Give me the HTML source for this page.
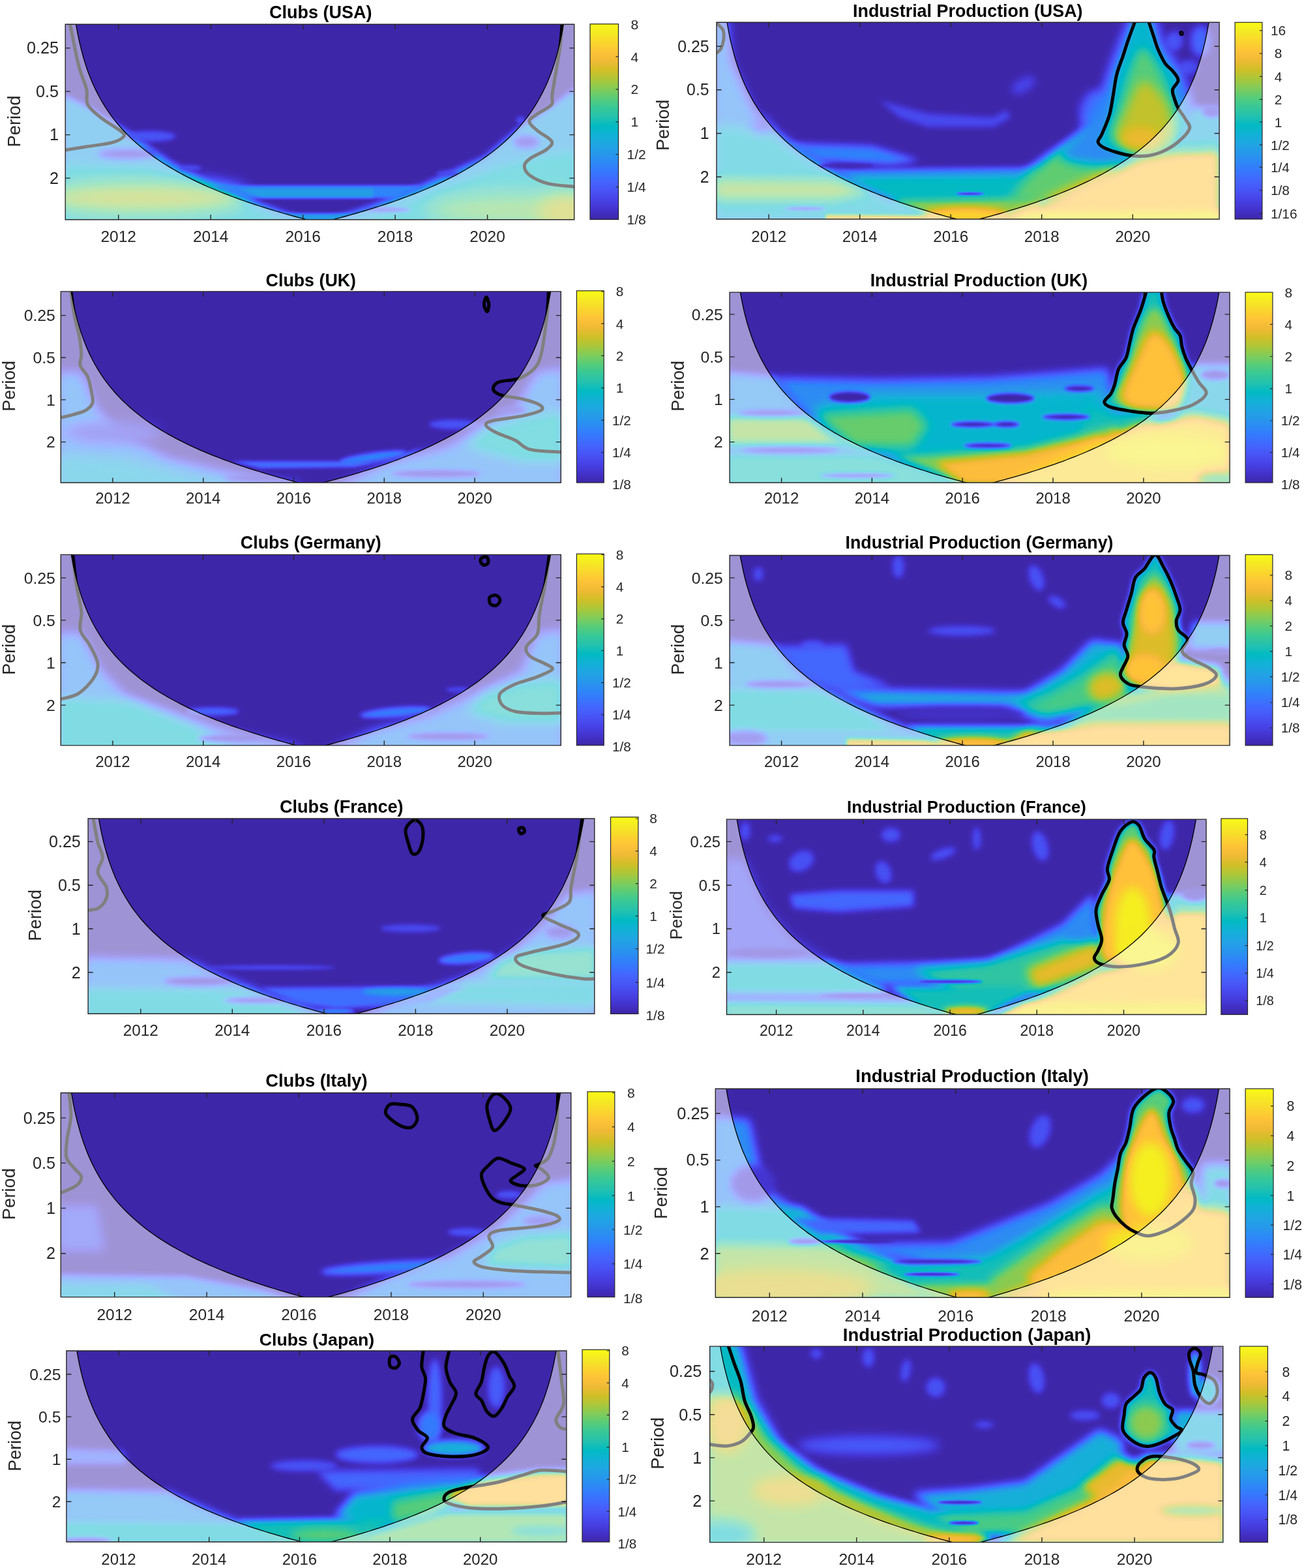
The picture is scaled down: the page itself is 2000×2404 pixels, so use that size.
<!DOCTYPE html>
<html lang="en"><head><meta charset="utf-8"><title>Wavelet power spectra</title>
<style>html,body{margin:0;padding:0;background:#fff}svg{display:block}text{font-family:"Liberation Sans",Arial,Helvetica,sans-serif}</style></head><body>
<svg width="2000" height="2404" viewBox="0 0 2000 2404">
<defs><linearGradient id="pg" x1="0" y1="1" x2="0" y2="0">
<stop offset="0.0000" stop-color="#3e26a8"/>
<stop offset="0.0476" stop-color="#4332cb"/>
<stop offset="0.0952" stop-color="#4741e5"/>
<stop offset="0.1429" stop-color="#4852f4"/>
<stop offset="0.1905" stop-color="#4563fd"/>
<stop offset="0.2381" stop-color="#3875fe"/>
<stop offset="0.2857" stop-color="#2e87f7"/>
<stop offset="0.3333" stop-color="#2797eb"/>
<stop offset="0.3810" stop-color="#20a5e3"/>
<stop offset="0.4286" stop-color="#12b1d6"/>
<stop offset="0.4762" stop-color="#02bac3"/>
<stop offset="0.5238" stop-color="#24c1ae"/>
<stop offset="0.5714" stop-color="#37c897"/>
<stop offset="0.6190" stop-color="#57cc7a"/>
<stop offset="0.6667" stop-color="#81cc59"/>
<stop offset="0.7143" stop-color="#abc739"/>
<stop offset="0.7619" stop-color="#d1bf27"/>
<stop offset="0.8095" stop-color="#f0ba36"/>
<stop offset="0.8571" stop-color="#fec338"/>
<stop offset="0.9048" stop-color="#fad62d"/>
<stop offset="0.9524" stop-color="#f5e924"/>
<stop offset="1.0000" stop-color="#f9fb15"/>
</linearGradient>
<filter id="pm" x="0" y="0" width="1" height="1" color-interpolation-filters="sRGB"><feComponentTransfer><feFuncR type="table" tableValues="0.242 0.250 0.258 0.265 0.271 0.275 0.278 0.280 0.281 0.281 0.280 0.276 0.270 0.260 0.244 0.221 0.196 0.183 0.179 0.176 0.169 0.154 0.146 0.138 0.125 0.111 0.095 0.069 0.030 0.004 0.007 0.043 0.096 0.141 0.172 0.194 0.216 0.247 0.291 0.341 0.391 0.446 0.504 0.562 0.617 0.672 0.724 0.774 0.820 0.863 0.903 0.939 0.973 0.996 0.997 0.995 0.989 0.979 0.968 0.961 0.960 0.963 0.969 0.977"/><feFuncG type="table" tableValues="0.150 0.165 0.182 0.198 0.215 0.234 0.256 0.278 0.301 0.323 0.345 0.367 0.389 0.412 0.436 0.460 0.485 0.507 0.529 0.550 0.570 0.590 0.609 0.628 0.646 0.663 0.680 0.695 0.708 0.720 0.731 0.741 0.750 0.758 0.767 0.776 0.784 0.792 0.797 0.801 0.803 0.802 0.799 0.794 0.788 0.779 0.770 0.760 0.750 0.741 0.733 0.729 0.730 0.743 0.766 0.789 0.814 0.839 0.864 0.889 0.913 0.937 0.961 0.984"/><feFuncB type="table" tableValues="0.660 0.708 0.751 0.795 0.836 0.871 0.899 0.922 0.941 0.958 0.972 0.983 0.991 0.995 0.999 0.997 0.989 0.980 0.968 0.952 0.936 0.922 0.908 0.897 0.888 0.876 0.860 0.839 0.816 0.792 0.766 0.739 0.712 0.684 0.655 0.625 0.592 0.557 0.519 0.479 0.435 0.391 0.348 0.304 0.261 0.223 0.191 0.165 0.153 0.160 0.177 0.210 0.239 0.237 0.220 0.203 0.189 0.177 0.164 0.154 0.142 0.127 0.106 0.081"/></feComponentTransfer></filter></defs>
<rect width="2000" height="2404" fill="#fff"/>
<defs>
<clipPath id="c1"><rect x="100.2" y="37.2" width="780.5" height="299.6"/></clipPath>
<filter id="p1b2_3" filterUnits="userSpaceOnUse" x="40.2" y="-22.8" width="900.5" height="419.6" color-interpolation-filters="sRGB"><feGaussianBlur stdDeviation="2.3"/></filter>
<filter id="p1b2_9" filterUnits="userSpaceOnUse" x="40.2" y="-22.8" width="900.5" height="419.6" color-interpolation-filters="sRGB"><feGaussianBlur stdDeviation="2.9"/></filter>
<filter id="p1b3_4" filterUnits="userSpaceOnUse" x="40.2" y="-22.8" width="900.5" height="419.6" color-interpolation-filters="sRGB"><feGaussianBlur stdDeviation="3.4"/></filter>
<filter id="p1b4_6" filterUnits="userSpaceOnUse" x="40.2" y="-22.8" width="900.5" height="419.6" color-interpolation-filters="sRGB"><feGaussianBlur stdDeviation="4.6"/></filter>
<filter id="p1b8_0" filterUnits="userSpaceOnUse" x="40.2" y="-22.8" width="900.5" height="419.6" color-interpolation-filters="sRGB"><feGaussianBlur stdDeviation="8"/></filter>
<filter id="p1b12_6" filterUnits="userSpaceOnUse" x="40.2" y="-22.8" width="900.5" height="419.6" color-interpolation-filters="sRGB"><feGaussianBlur stdDeviation="12.6"/></filter>
<filter id="p1b14_3" filterUnits="userSpaceOnUse" x="40.2" y="-22.8" width="900.5" height="419.6" color-interpolation-filters="sRGB"><feGaussianBlur stdDeviation="14.3"/></filter>
</defs>
<g clip-path="url(#c1)">
<g filter="url(#pm)">
<rect x="40.2" y="-22.8" width="900.5" height="419.6" fill="#000000"/>
<g filter="url(#p1b4_6)"><path d="M97.3 146 L131.7 163.1 L188.9 197.5 L257.6 246.1 L320.5 281.6 L400.7 313.7 L469.4 337.7 L469.4 354.9 L97.3 354.9Z" fill="#5c5c5c"/></g>
<g filter="url(#p1b4_6)"><path d="M884.4 134.5 L847.2 163.1 L801.4 191.8 L744.1 240.4 L646.8 284.5 L572.4 314.8 L503.7 337.7 L503.7 354.9 L884.4 354.9Z" fill="#5c5c5c"/></g>
<g filter="url(#p1b8_0)"><path d="M97.3 251.9 L229 257.6 L343.4 297.7 L446.5 343.4 L97.3 354.9Z" fill="#787878"/></g>
<g filter="url(#p1b8_0)"><path d="M884.4 229 L772.8 251.9 L658.3 297.7 L543.8 343.4 L884.4 354.9Z" fill="#787878"/></g>
<g filter="url(#p1b12_6)"><ellipse cx="217.5" cy="303.4" rx="160.3" ry="24" fill="#b8b8b8"/></g>
<g filter="url(#p1b14_3)"><ellipse cx="801.4" cy="321.7" rx="148.8" ry="25.8" fill="#a8a8a8"/></g>
<g filter="url(#p1b12_6)"><ellipse cx="870.1" cy="326.3" rx="45.8" ry="28.6" fill="#bdbdbd"/></g>
<g filter="url(#p1b4_6)"><ellipse cx="194.6" cy="235.8" rx="45.8" ry="8" fill="#0f0f0f"/></g>
<g filter="url(#p1b4_6)"><ellipse cx="807.1" cy="217.5" rx="20" ry="10.3" fill="#141414"/></g>
<g filter="url(#p1b2_9)"><ellipse cx="595.3" cy="321.7" rx="34.3" ry="3.4" fill="#1a1a1a"/></g>
<g filter="url(#p1b2_3)"><path d="M320.5 284.5 L646.8 284.5 L606.8 303.4 L372.1 303.4Z" fill="#474747"/></g>
<g filter="url(#p1b2_9)"><path d="M366.3 289.1 L572.4 289.1 L572.4 302.2 L400.7 302.2Z" fill="#5c5c5c"/></g>
<g filter="url(#p1b2_3)"><path d="M417.9 327.4 L543.8 327.4 L515.2 338.9 L457.9 338.9Z" fill="#5c5c5c"/></g>
<g filter="url(#p1b3_4)"><ellipse cx="229" cy="208.9" rx="40.1" ry="8" fill="#262626"/></g>
<g filter="url(#p1b2_9)"><ellipse cx="291.9" cy="257.6" rx="17.2" ry="4.6" fill="#1f1f1f"/></g>
<g filter="url(#p1b2_9)"><ellipse cx="686.9" cy="266.2" rx="17.2" ry="4.6" fill="#1f1f1f"/></g>
<g filter="url(#p1b2_9)"><ellipse cx="798.5" cy="184.3" rx="6.9" ry="5.7" fill="#1f1f1f"/></g>
</g>
<path d="M107.6 37.8C109.2 45.8 114.8 74 117.3 85.9C119.9 97.7 120.5 100.2 123.1 108.8C125.6 117.3 130.9 128.8 132.8 137.4C134.7 146 130.9 153.1 134.5 160.3C138.1 167.4 146.3 173.6 154.6 180.3C162.9 187 178.4 195.6 184.3 200.3C190.2 205.1 192.1 205.9 190 208.9C187.9 212 181.5 216 171.7 218.7C162 221.3 143.6 223 131.7 225C119.7 226.9 105.4 229.3 100.2 230.1" fill="none" stroke="#000" stroke-width="5" stroke-linejoin="round" stroke-linecap="round"/>
<path d="M862 37.8C861.5 43.9 861.1 56.9 858.6 74.4C856.1 92 849.3 128.8 847.2 143.1C845.1 157.4 849.8 155 846 160.3C842.2 165.5 830 170.3 824.3 174.6C818.5 178.9 811.7 181.7 811.7 186C811.7 190.3 818.5 195.3 824.3 200.3C830 205.4 843.6 211.6 846 216.4C848.4 221.1 844.1 224.5 838.6 229C833 233.4 818.5 239 812.8 243.3C807.1 247.6 804.2 250.4 804.2 254.7C804.2 259 806.6 264.5 812.8 269C819 273.5 830 278.8 841.4 281.6C852.9 284.5 874.8 285.4 881.5 286.2" fill="none" stroke="#000" stroke-width="5" stroke-linejoin="round" stroke-linecap="round"/>
<path d="M95.2 -162.8 L100.7 -297.1 L101.2 -230.6 L101.7 -191.7 L102.2 -164.1 L102.7 -142.7 L103.2 -125.2 L103.7 -110.4 L104.2 -97.6 L104.7 -86.3 L105.2 -76.2 L105.7 -67.1 L106.2 -58.7 L106.7 -51.1 L107.2 -43.7 L107.8 -36.3 L108.4 -28.9 L109 -21.5 L109.8 -14.1 L110.5 -6.8 L111.3 0.6 L112.2 8 L113.2 15.4 L114.2 22.8 L115.4 30.2 L116.6 37.5 L117.9 44.9 L119.3 52.3 L120.8 59.7 L122.5 67.1 L124.3 74.5 L126.2 81.8 L128.3 89.2 L130.5 96.6 L132.9 104 L135.5 111.4 L138.4 118.8 L141.4 126.2 L144.7 133.5 L148.3 140.9 L152.1 148.3 L156.3 155.7 L160.8 163.1 L165.6 170.5 L170.8 177.8 L176.5 185.2 L182.5 192.5 L188.5 199.2 L194.5 205.5 L200.5 211.5 L206.5 217 L212.5 222.3 L218.5 227.3 L224.5 232 L230.5 236.6 L236.5 240.9 L242.5 245 L248.5 249 L254.5 252.8 L260.5 256.4 L266.5 260 L272.5 263.4 L278.5 266.7 L284.5 269.8 L290.5 272.9 L296.5 275.9 L302.5 278.8 L308.5 281.6 L314.5 284.3 L320.5 287 L326.5 289.5 L332.5 292 L338.5 294.5 L344.5 296.9 L350.5 299.2 L356.5 301.5 L362.5 303.7 L368.5 305.9 L374.5 308 L380.5 310.1 L386.5 312.1 L392.5 314.1 L398.5 316 L404.5 317.9 L410.5 319.8 L416.5 321.7 L422.5 323.5 L428.5 325.2 L434.5 327 L440.5 328.7 L446.5 330.3 L452.5 332 L458.5 333.6 L464.5 335.2 L470.5 336.8 L476.5 338.3 L482.5 339.8 L488.5 341.3 L490.4 341.8 L492.4 341.3 L498.4 339.8 L504.4 338.3 L510.4 336.8 L516.4 335.2 L522.4 333.6 L528.4 332 L534.4 330.3 L540.4 328.7 L546.4 327 L552.4 325.2 L558.4 323.5 L564.4 321.7 L570.4 319.8 L576.4 317.9 L582.4 316 L588.4 314.1 L594.4 312.1 L600.4 310.1 L606.4 308 L612.4 305.9 L618.4 303.7 L624.4 301.5 L630.4 299.2 L636.4 296.9 L642.4 294.5 L648.4 292 L654.4 289.5 L660.4 287 L666.4 284.3 L672.4 281.6 L678.4 278.8 L684.4 275.9 L690.4 272.9 L696.4 269.8 L702.4 266.7 L708.4 263.4 L714.4 260 L720.4 256.4 L726.4 252.8 L732.4 249 L738.4 245 L744.4 240.9 L750.4 236.6 L756.4 232 L762.4 227.3 L768.4 222.3 L774.4 217 L780.4 211.5 L786.4 205.5 L792.4 199.2 L798.4 192.5 L804.4 185.2 L810.1 177.8 L815.3 170.5 L820.1 163.1 L824.6 155.7 L828.8 148.3 L832.6 140.9 L836.2 133.5 L839.5 126.2 L842.5 118.8 L845.4 111.4 L848 104 L850.4 96.6 L852.6 89.2 L854.7 81.8 L856.6 74.5 L858.4 67.1 L860.1 59.7 L861.6 52.3 L863 44.9 L864.3 37.5 L865.5 30.2 L866.7 22.8 L867.7 15.4 L868.7 8 L869.6 0.6 L870.4 -6.8 L871.1 -14.1 L871.9 -21.5 L872.5 -28.9 L873.1 -36.3 L873.7 -43.7 L874.2 -51.1 L874.7 -58.7 L875.2 -67.1 L875.7 -76.2 L876.2 -86.3 L876.7 -97.6 L877.2 -110.4 L877.7 -125.2 L878.2 -142.7 L878.7 -164.1 L879.2 -191.7 L879.7 -230.6 L880.2 -297.1 L885.7 -162.8 L885.7 636.8 L95.2 636.8Z" fill="#fff" fill-opacity="0.5"/>
<path d="M100.7 -297.1 L101.2 -230.6 L101.7 -191.7 L102.2 -164.1 L102.7 -142.7 L103.2 -125.2 L103.7 -110.4 L104.2 -97.6 L104.7 -86.3 L105.2 -76.2 L105.7 -67.1 L106.2 -58.7 L106.7 -51.1 L107.2 -43.7 L107.8 -36.3 L108.4 -28.9 L109 -21.5 L109.8 -14.1 L110.5 -6.8 L111.3 0.6 L112.2 8 L113.2 15.4 L114.2 22.8 L115.4 30.2 L116.6 37.5 L117.9 44.9 L119.3 52.3 L120.8 59.7 L122.5 67.1 L124.3 74.5 L126.2 81.8 L128.3 89.2 L130.5 96.6 L132.9 104 L135.5 111.4 L138.4 118.8 L141.4 126.2 L144.7 133.5 L148.3 140.9 L152.1 148.3 L156.3 155.7 L160.8 163.1 L165.6 170.5 L170.8 177.8 L176.5 185.2 L182.5 192.5 L188.5 199.2 L194.5 205.5 L200.5 211.5 L206.5 217 L212.5 222.3 L218.5 227.3 L224.5 232 L230.5 236.6 L236.5 240.9 L242.5 245 L248.5 249 L254.5 252.8 L260.5 256.4 L266.5 260 L272.5 263.4 L278.5 266.7 L284.5 269.8 L290.5 272.9 L296.5 275.9 L302.5 278.8 L308.5 281.6 L314.5 284.3 L320.5 287 L326.5 289.5 L332.5 292 L338.5 294.5 L344.5 296.9 L350.5 299.2 L356.5 301.5 L362.5 303.7 L368.5 305.9 L374.5 308 L380.5 310.1 L386.5 312.1 L392.5 314.1 L398.5 316 L404.5 317.9 L410.5 319.8 L416.5 321.7 L422.5 323.5 L428.5 325.2 L434.5 327 L440.5 328.7 L446.5 330.3 L452.5 332 L458.5 333.6 L464.5 335.2 L470.5 336.8 L476.5 338.3 L482.5 339.8 L488.5 341.3 L490.4 341.8 L492.4 341.3 L498.4 339.8 L504.4 338.3 L510.4 336.8 L516.4 335.2 L522.4 333.6 L528.4 332 L534.4 330.3 L540.4 328.7 L546.4 327 L552.4 325.2 L558.4 323.5 L564.4 321.7 L570.4 319.8 L576.4 317.9 L582.4 316 L588.4 314.1 L594.4 312.1 L600.4 310.1 L606.4 308 L612.4 305.9 L618.4 303.7 L624.4 301.5 L630.4 299.2 L636.4 296.9 L642.4 294.5 L648.4 292 L654.4 289.5 L660.4 287 L666.4 284.3 L672.4 281.6 L678.4 278.8 L684.4 275.9 L690.4 272.9 L696.4 269.8 L702.4 266.7 L708.4 263.4 L714.4 260 L720.4 256.4 L726.4 252.8 L732.4 249 L738.4 245 L744.4 240.9 L750.4 236.6 L756.4 232 L762.4 227.3 L768.4 222.3 L774.4 217 L780.4 211.5 L786.4 205.5 L792.4 199.2 L798.4 192.5 L804.4 185.2 L810.1 177.8 L815.3 170.5 L820.1 163.1 L824.6 155.7 L828.8 148.3 L832.6 140.9 L836.2 133.5 L839.5 126.2 L842.5 118.8 L845.4 111.4 L848 104 L850.4 96.6 L852.6 89.2 L854.7 81.8 L856.6 74.5 L858.4 67.1 L860.1 59.7 L861.6 52.3 L863 44.9 L864.3 37.5 L865.5 30.2 L866.7 22.8 L867.7 15.4 L868.7 8 L869.6 0.6 L870.4 -6.8 L871.1 -14.1 L871.9 -21.5 L872.5 -28.9 L873.1 -36.3 L873.7 -43.7 L874.2 -51.1 L874.7 -58.7 L875.2 -67.1 L875.7 -76.2 L876.2 -86.3 L876.7 -97.6 L877.2 -110.4 L877.7 -125.2 L878.2 -142.7 L878.7 -164.1 L879.2 -191.7 L879.7 -230.6 L880.2 -297.1" fill="none" stroke="#000" stroke-width="1.3"/>
</g>
<path d="M100.2 37.2H880.7V336.8H100.2ZM181.7 37.2v7.5 M181.7 336.8v-7.5M323.2 37.2v7.5 M323.2 336.8v-7.5M464.7 37.2v7.5 M464.7 336.8v-7.5M606.1 37.2v7.5 M606.1 336.8v-7.5M747.6 37.2v7.5 M747.6 336.8v-7.5M100.2 73.6h7.5 M880.7 73.6h-7.5M100.2 140.1h7.5 M880.7 140.1h-7.5M100.2 206.6h7.5 M880.7 206.6h-7.5M100.2 273.1h7.5 M880.7 273.1h-7.5" fill="none" stroke="#262626" stroke-width="1.4"/>
<text x="181.7" y="371" font-size="24.5" text-anchor="middle" fill="#262626">2012</text>
<text x="323.2" y="371" font-size="24.5" text-anchor="middle" fill="#262626">2014</text>
<text x="464.7" y="371" font-size="24.5" text-anchor="middle" fill="#262626">2016</text>
<text x="606.1" y="371" font-size="24.5" text-anchor="middle" fill="#262626">2018</text>
<text x="747.6" y="371" font-size="24.5" text-anchor="middle" fill="#262626">2020</text>
<text x="90" y="82.4" font-size="25.2" text-anchor="end" fill="#262626">0.25</text>
<text x="90" y="148.9" font-size="25.2" text-anchor="end" fill="#262626">0.5</text>
<text x="90" y="215.4" font-size="25.2" text-anchor="end" fill="#262626">1</text>
<text x="90" y="281.9" font-size="25.2" text-anchor="end" fill="#262626">2</text>
<text transform="translate(31 186) rotate(-90)" font-size="27.4" text-anchor="middle" fill="#262626">Period</text>
<text x="491.7" y="28" font-size="27" font-weight="bold" text-anchor="middle" fill="#000">Clubs (USA)</text>
<rect x="905" y="36.8" width="43.5" height="299.7" fill="url(#pg)" stroke="#262626" stroke-width="1.2"/>
<text x="967.4" y="44.5" font-size="21.1" fill="#262626">8</text>
<text x="967.4" y="94.5" font-size="21.1" fill="#262626">4</text>
<text x="967.4" y="144.4" font-size="21.1" fill="#262626">2</text>
<text x="967.4" y="194.3" font-size="21.1" fill="#262626">1</text>
<text x="961.5" y="244.2" font-size="21.1" fill="#262626">1/2</text>
<text x="961.5" y="294.1" font-size="21.1" fill="#262626">1/4</text>
<text x="961.5" y="344" font-size="21.1" fill="#262626">1/8</text>
<path d="M948.5 86.9h-4M948.5 136.8h-4M948.5 186.8h-4M948.5 236.7h-4M948.5 286.6h-4" fill="none" stroke="#262626" stroke-width="1.2"/>
<defs>
<clipPath id="c2"><rect x="1099" y="34.3" width="771" height="301.7"/></clipPath>
<filter id="p2b1_4" filterUnits="userSpaceOnUse" x="1039" y="-25.7" width="891" height="421.7" color-interpolation-filters="sRGB"><feGaussianBlur stdDeviation="1.4"/></filter>
<filter id="p2b2_3" filterUnits="userSpaceOnUse" x="1039" y="-25.7" width="891" height="421.7" color-interpolation-filters="sRGB"><feGaussianBlur stdDeviation="2.3"/></filter>
<filter id="p2b2_9" filterUnits="userSpaceOnUse" x="1039" y="-25.7" width="891" height="421.7" color-interpolation-filters="sRGB"><feGaussianBlur stdDeviation="2.9"/></filter>
<filter id="p2b3_4" filterUnits="userSpaceOnUse" x="1039" y="-25.7" width="891" height="421.7" color-interpolation-filters="sRGB"><feGaussianBlur stdDeviation="3.4"/></filter>
<filter id="p2b4_0" filterUnits="userSpaceOnUse" x="1039" y="-25.7" width="891" height="421.7" color-interpolation-filters="sRGB"><feGaussianBlur stdDeviation="4"/></filter>
<filter id="p2b4_6" filterUnits="userSpaceOnUse" x="1039" y="-25.7" width="891" height="421.7" color-interpolation-filters="sRGB"><feGaussianBlur stdDeviation="4.6"/></filter>
<filter id="p2b5_2" filterUnits="userSpaceOnUse" x="1039" y="-25.7" width="891" height="421.7" color-interpolation-filters="sRGB"><feGaussianBlur stdDeviation="5.2"/></filter>
<filter id="p2b5_7" filterUnits="userSpaceOnUse" x="1039" y="-25.7" width="891" height="421.7" color-interpolation-filters="sRGB"><feGaussianBlur stdDeviation="5.7"/></filter>
<filter id="p2b6_9" filterUnits="userSpaceOnUse" x="1039" y="-25.7" width="891" height="421.7" color-interpolation-filters="sRGB"><feGaussianBlur stdDeviation="6.9"/></filter>
<filter id="p2b7_2" filterUnits="userSpaceOnUse" x="1039" y="-25.7" width="891" height="421.7" color-interpolation-filters="sRGB"><feGaussianBlur stdDeviation="7.2"/></filter>
<filter id="p2b8_0" filterUnits="userSpaceOnUse" x="1039" y="-25.7" width="891" height="421.7" color-interpolation-filters="sRGB"><feGaussianBlur stdDeviation="8"/></filter>
<filter id="p2b8_6" filterUnits="userSpaceOnUse" x="1039" y="-25.7" width="891" height="421.7" color-interpolation-filters="sRGB"><feGaussianBlur stdDeviation="8.6"/></filter>
<filter id="p2b9_2" filterUnits="userSpaceOnUse" x="1039" y="-25.7" width="891" height="421.7" color-interpolation-filters="sRGB"><feGaussianBlur stdDeviation="9.2"/></filter>
</defs>
<g clip-path="url(#c2)">
<g filter="url(#pm)">
<rect x="1039" y="-25.7" width="891" height="421.7" fill="#000000"/>
<g filter="url(#p2b7_2)"><path d="M1094.3 31.4 L1115.8 31.4 L1120.1 94.4 L1154.4 168.8 L1208.8 220.3 L1280.3 266.1 L1366.2 306.2 L1466.4 337.7 L1094.3 340.5Z" fill="#4c4c4c"/></g>
<g filter="url(#p2b8_6)"><path d="M1094.3 191.7 L1174.4 197.4 L1214.5 226.1 L1280.3 266.1 L1366.2 306.2 L1466.4 337.7 L1094.3 340.5Z" fill="#737373"/></g>
<g filter="url(#p2b8_0)"><path d="M1094.3 273.3 L1280.3 274.7 L1337.6 294.8 L1280.3 307.6 L1094.3 307.6Z" fill="#adadad"/></g>
<g filter="url(#p2b2_9)"><path d="M1266 329.1 L1466.4 330.5 L1466.4 340.5 L1266 340.5Z" fill="#d1d1d1"/></g>
<g filter="url(#p2b2_3)"><ellipse cx="1234.6" cy="319.9" rx="31.5" ry="2.3" fill="#141414"/></g>
<g filter="url(#p2b7_2)"><ellipse cx="1168.7" cy="191.7" rx="17.2" ry="11.4" fill="#1a1a1a"/></g>
<g filter="url(#p2b5_2)"><path d="M1205.9 220.3 L1337.6 224.6 L1409.1 246.1 L1366.2 251.8 L1257.4 246.1Z" fill="#454545"/></g>
<g filter="url(#p2b4_0)"><path d="M1280.3 260.4 L1595.2 257.6 L1595.2 306.2 L1366.2 306.2Z" fill="#4c4c4c"/></g>
<g filter="url(#p2b2_3)"><ellipse cx="1297.5" cy="254.1" rx="42.9" ry="4" fill="#050505"/></g>
<g filter="url(#p2b4_6)"><path d="M1297.5 271.9 L1595.2 269 L1595.2 309.1 L1380.5 309.1Z" fill="#7a7a7a"/></g>
<g filter="url(#p2b4_0)"><path d="M1366.2 306.2 L1595.2 303.3 L1595.2 340.5 L1452.1 340.5Z" fill="#adadad"/></g>
<g filter="url(#p2b5_7)"><ellipse cx="1480.7" cy="330.5" rx="65.8" ry="11.4" fill="#e6e6e6"/></g>
<g filter="url(#p2b1_4)"><ellipse cx="1487.8" cy="297" rx="21.5" ry="2" fill="#000000"/></g>
<g filter="url(#p2b4_0)"><path d="M1349 154.5 L1423.4 174.6 L1523.6 180.3 L1543.7 168.8 L1549.4 180.3 L1523.6 194.6 L1423.4 194.6 L1380.5 180.3Z" fill="#1f1f1f"/></g>
<g filter="url(#p2b5_7)"><ellipse cx="1569.5" cy="130.5" rx="20" ry="10.3" fill="#1a1a1a" transform="rotate(-30 1569.5 130.5)"/></g>
<g filter="url(#p2b8_0)"><path d="M1572.4 264.5 L1629.7 229 L1686.9 188.9 L1721.2 240.4 L1686.9 297.7 L1572.4 309.1Z" fill="#808080"/></g>
<g filter="url(#p2b8_0)"><path d="M1572.4 274.8 L1618.2 234.7 L1675.4 200.3 L1715.5 240.4 L1686.9 297.7 L1601 309.1 L1543.8 312Z" fill="#a1a1a1"/></g>
<g filter="url(#p2b6_9)"><ellipse cx="1675.4" cy="166" rx="17.2" ry="28.6" fill="#333333" transform="rotate(20 1675.4 166)"/></g>
<g filter="url(#p2b4_6)"><ellipse cx="1801.4" cy="63" rx="12.6" ry="14.3" fill="#262626"/></g>
<g filter="url(#p2b4_6)"><ellipse cx="1824.3" cy="103" rx="14.3" ry="11.4" fill="#212121"/></g>
<g filter="url(#p2b8_0)"><path d="M1738.4 22.9C1728.9 33.4 1718.4 64.9 1709.8 85.9C1701.2 106.8 1695.5 129.7 1686.9 148.8C1678.3 167.9 1667.8 185.1 1658.3 200.3C1648.7 215.6 1620.1 231.8 1629.7 240.4C1639.2 249 1685 253.8 1715.5 251.9C1746 250 1792.8 238.5 1812.8 229C1832.9 219.4 1835.7 213.7 1835.7 194.6C1835.7 175.5 1821.4 135.5 1812.8 114.5C1804.2 93.5 1791.8 84 1784.2 68.7C1776.6 53.4 1774.7 30.5 1767 22.9C1759.4 15.3 1747.9 12.4 1738.4 22.9Z" fill="#4c4c4c"/></g>
<g filter="url(#p2b4_6)"><path d="M1741.3 31.5C1736 36.7 1733 53.9 1729.8 63C1726.7 72 1725.2 77.3 1722.4 85.9C1719.5 94.4 1715.2 104 1712.7 114.5C1710.1 125 1708.8 138.3 1706.9 148.8C1705 159.3 1704.1 167.9 1701.2 177.4C1698.3 187 1692.6 199.4 1689.8 206.1C1686.9 212.7 1683.6 214.2 1684 217.5C1684.5 220.9 1687.8 223.4 1692.6 226.1C1697.4 228.8 1705.5 231.4 1712.7 233.5C1719.8 235.6 1727.4 237.8 1735.5 238.7C1743.7 239.6 1753.2 239.8 1761.3 238.7C1769.4 237.6 1776.6 235.4 1784.2 231.8C1791.8 228.3 1800.4 223.2 1807.1 217.5C1813.8 211.8 1822.4 203.2 1824.3 197.5C1826.2 191.8 1821.4 188.4 1818.5 183.2C1815.7 177.9 1810 171.2 1807.1 166C1804.2 160.8 1802.8 156.5 1801.4 151.7C1799.9 146.9 1797.6 142.1 1798.5 137.4C1799.5 132.6 1807.1 127.8 1807.1 123.1C1807.1 118.3 1801.9 113.1 1798.5 108.8C1795.2 104.5 1790.9 103 1787.1 97.3C1783.2 91.6 1778.5 81.1 1775.6 74.4C1772.8 67.7 1772.3 64.4 1769.9 57.2C1767.5 50.1 1766.1 35.8 1761.3 31.5C1756.5 27.2 1746.5 26.2 1741.3 31.5Z" fill="#737373"/></g>
<g filter="url(#p2b6_9)"><path d="M1749.9 74.4C1743.7 77.3 1737.9 95.4 1732.7 108.8C1727.4 122.1 1723.1 137.4 1718.4 154.6C1713.6 171.7 1699.8 198.9 1704.1 211.8C1708.4 224.7 1727.9 230.9 1744.1 231.8C1760.4 232.8 1791.4 227.5 1801.4 217.5C1811.4 207.5 1806.1 186 1804.2 171.7C1802.3 157.4 1795.6 145 1789.9 131.7C1784.2 118.3 1776.6 101.1 1769.9 91.6C1763.2 82 1756.1 71.6 1749.9 74.4Z" fill="#9e9e9e"/></g>
<g filter="url(#p2b8_0)"><path d="M1749.9 125.9C1742.2 131.7 1733.2 157.4 1727 171.7C1720.8 186 1709.8 202.3 1712.7 211.8C1715.5 221.3 1730.8 228.5 1744.1 229C1757.5 229.4 1784.7 224.2 1792.8 214.7C1800.9 205.1 1796.1 184.6 1792.8 171.7C1789.4 158.8 1779.9 145 1772.8 137.4C1765.6 129.7 1757.5 120.2 1749.9 125.9Z" fill="#bdbdbd"/></g>
<g filter="url(#p2b6_9)"><ellipse cx="1749.9" cy="211.8" rx="28.6" ry="17.2" fill="#cccccc"/></g>
<g filter="url(#p2b5_7)"><path d="M1830 166 L1875.8 166 L1875.8 229 L1801.4 229Z" fill="#666666"/></g>
<g filter="url(#p2b9_2)"><path d="M1686.9 269 L1744.1 240.4 L1801.4 229 L1875.8 226.1 L1875.8 354.9 L1515.2 354.9 L1572.4 320.5Z" fill="#dbdbdb"/></g>
<g filter="url(#p2b5_7)"><path d="M1572.4 326.3 L1875.8 323.4 L1875.8 354.9 L1515.2 354.9Z" fill="#f5f5f5"/></g>
<g filter="url(#p2b5_7)"><ellipse cx="1841.4" cy="63" rx="14.3" ry="22.9" fill="#333333"/></g>
<g filter="url(#p2b3_4)"><ellipse cx="1858.6" cy="171.7" rx="14.3" ry="8.6" fill="#141414"/></g>
</g>
<path d="M1741.3 31.5C1739.4 36.7 1733 53.9 1729.8 63C1726.7 72 1725.2 77.3 1722.4 85.9C1719.5 94.4 1715.2 104 1712.7 114.5C1710.1 125 1708.8 138.3 1706.9 148.8C1705 159.3 1704.1 167.9 1701.2 177.4C1698.3 187 1692.6 199.4 1689.8 206.1C1686.9 212.7 1683.6 214.2 1684 217.5C1684.5 220.9 1687.8 223.4 1692.6 226.1C1697.4 228.8 1705.5 231.4 1712.7 233.5C1719.8 235.6 1727.4 237.8 1735.5 238.7C1743.7 239.6 1753.2 239.8 1761.3 238.7C1769.4 237.6 1776.6 235.4 1784.2 231.8C1791.8 228.3 1800.4 223.2 1807.1 217.5C1813.8 211.8 1822.4 203.2 1824.3 197.5C1826.2 191.8 1821.4 188.4 1818.5 183.2C1815.7 177.9 1810 171.2 1807.1 166C1804.2 160.8 1802.8 156.5 1801.4 151.7C1799.9 146.9 1797.6 142.1 1798.5 137.4C1799.5 132.6 1807.1 127.8 1807.1 123.1C1807.1 118.3 1801.9 113.1 1798.5 108.8C1795.2 104.5 1790.9 103 1787.1 97.3C1783.2 91.6 1778.5 81.1 1775.6 74.4C1772.8 67.7 1772.3 64.4 1769.9 57.2C1767.5 50.1 1762.7 35.8 1761.3 31.5" fill="none" stroke="#000" stroke-width="5" stroke-linejoin="round" stroke-linecap="round"/>
<path d="M1810 49.2C1810.4 48.6 1812.7 48.7 1813.4 49.2C1814.1 49.8 1814.4 52 1814 52.7C1813.5 53.3 1811.2 53.8 1810.5 53.2C1809.9 52.7 1809.5 49.9 1810 49.2Z" fill="none" stroke="#000" stroke-width="3" stroke-linejoin="round" stroke-linecap="round"/>
<path d="M1099 35.5C1100.6 37.2 1106.9 41.7 1108.8 45.8C1110.6 49.9 1110.4 55.3 1109.9 60.1C1109.4 64.9 1107.7 70.9 1105.9 74.4C1104.1 77.9 1100.2 80.1 1099 81.3" fill="none" stroke="#000" stroke-width="5" stroke-linejoin="round" stroke-linecap="round"/>
<path d="M1094 -165.7 L1099.5 -300 L1100 -233.2 L1100.5 -194.1 L1101 -166.4 L1101.5 -144.9 L1102 -127.4 L1102.5 -112.5 L1103 -99.6 L1103.5 -88.3 L1104 -78.1 L1104.5 -69 L1105 -60.6 L1105.5 -52.9 L1106 -45.4 L1106.6 -38 L1107.2 -30.6 L1107.9 -23.2 L1108.6 -15.8 L1109.3 -8.4 L1110.2 -1 L1111.1 6.5 L1112 13.9 L1113.1 21.3 L1114.2 28.7 L1115.4 36.1 L1116.7 43.5 L1118.1 50.9 L1119.6 58.4 L1121.3 65.8 L1123.1 73.2 L1125 80.6 L1127.1 88 L1129.3 95.4 L1131.7 102.8 L1134.4 110.3 L1137.2 117.7 L1140.2 125.1 L1143.5 132.5 L1147.1 139.9 L1150.9 147.3 L1155.1 154.8 L1159.6 162.2 L1164.4 169.6 L1169.7 177 L1175.3 184.4 L1181.3 191.7 L1187.3 198.5 L1193.3 204.8 L1199.3 210.8 L1205.3 216.4 L1211.3 221.7 L1217.3 226.7 L1223.3 231.4 L1229.3 236 L1235.3 240.3 L1241.3 244.5 L1247.3 248.4 L1253.3 252.3 L1259.3 255.9 L1265.3 259.5 L1271.3 262.9 L1277.3 266.2 L1283.3 269.4 L1289.3 272.5 L1295.3 275.5 L1301.3 278.4 L1307.3 281.2 L1313.3 283.9 L1319.3 286.6 L1325.3 289.2 L1331.3 291.7 L1337.3 294.1 L1343.3 296.5 L1349.3 298.9 L1355.3 301.2 L1361.3 303.4 L1367.3 305.6 L1373.3 307.7 L1379.3 309.8 L1385.3 311.8 L1391.3 313.8 L1397.3 315.8 L1403.3 317.7 L1409.3 319.6 L1415.3 321.4 L1421.3 323.2 L1427.3 325 L1433.3 326.8 L1439.3 328.5 L1445.3 330.2 L1451.3 331.8 L1457.3 333.4 L1463.3 335 L1469.3 336.6 L1475.3 338.2 L1481.3 339.7 L1484.5 340.5 L1487.8 339.7 L1493.8 338.2 L1499.8 336.6 L1505.8 335 L1511.8 333.4 L1517.8 331.8 L1523.8 330.2 L1529.8 328.5 L1535.8 326.8 L1541.8 325 L1547.8 323.2 L1553.8 321.4 L1559.8 319.6 L1565.8 317.7 L1571.8 315.8 L1577.8 313.8 L1583.8 311.8 L1589.8 309.8 L1595.8 307.7 L1601.8 305.6 L1607.8 303.4 L1613.8 301.2 L1619.8 298.9 L1625.8 296.5 L1631.8 294.1 L1637.8 291.7 L1643.8 289.2 L1649.8 286.6 L1655.8 283.9 L1661.8 281.2 L1667.8 278.4 L1673.8 275.5 L1679.8 272.5 L1685.8 269.4 L1691.8 266.2 L1697.8 262.9 L1703.8 259.5 L1709.8 255.9 L1715.8 252.3 L1721.8 248.4 L1727.8 244.5 L1733.8 240.3 L1739.8 236 L1745.8 231.4 L1751.8 226.7 L1757.8 221.7 L1763.8 216.4 L1769.8 210.8 L1775.8 204.8 L1781.8 198.5 L1787.8 191.7 L1793.8 184.4 L1799.4 177 L1804.7 169.6 L1809.5 162.2 L1814 154.8 L1818.1 147.3 L1822 139.9 L1825.5 132.5 L1828.8 125.1 L1831.9 117.7 L1834.7 110.3 L1837.3 102.8 L1839.8 95.4 L1842 88 L1844.1 80.6 L1846 73.2 L1847.8 65.8 L1849.4 58.4 L1851 50.9 L1852.4 43.5 L1853.7 36.1 L1854.9 28.7 L1856 21.3 L1857.1 13.9 L1858 6.5 L1858.9 -1 L1859.7 -8.4 L1860.5 -15.8 L1861.2 -23.2 L1861.9 -30.6 L1862.5 -38 L1863 -45.4 L1863.6 -52.9 L1864.1 -60.6 L1864.6 -69 L1865.1 -78.1 L1865.6 -88.3 L1866.1 -99.6 L1866.6 -112.5 L1867.1 -127.4 L1867.6 -144.9 L1868.1 -166.4 L1868.6 -194.1 L1869.1 -233.2 L1869.6 -300 L1875.1 -165.7 L1875.1 636 L1094 636Z" fill="#fff" fill-opacity="0.5"/>
<path d="M1099.5 -300 L1100 -233.2 L1100.5 -194.1 L1101 -166.4 L1101.5 -144.9 L1102 -127.4 L1102.5 -112.5 L1103 -99.6 L1103.5 -88.3 L1104 -78.1 L1104.5 -69 L1105 -60.6 L1105.5 -52.9 L1106 -45.4 L1106.6 -38 L1107.2 -30.6 L1107.9 -23.2 L1108.6 -15.8 L1109.3 -8.4 L1110.2 -1 L1111.1 6.5 L1112 13.9 L1113.1 21.3 L1114.2 28.7 L1115.4 36.1 L1116.7 43.5 L1118.1 50.9 L1119.6 58.4 L1121.3 65.8 L1123.1 73.2 L1125 80.6 L1127.1 88 L1129.3 95.4 L1131.7 102.8 L1134.4 110.3 L1137.2 117.7 L1140.2 125.1 L1143.5 132.5 L1147.1 139.9 L1150.9 147.3 L1155.1 154.8 L1159.6 162.2 L1164.4 169.6 L1169.7 177 L1175.3 184.4 L1181.3 191.7 L1187.3 198.5 L1193.3 204.8 L1199.3 210.8 L1205.3 216.4 L1211.3 221.7 L1217.3 226.7 L1223.3 231.4 L1229.3 236 L1235.3 240.3 L1241.3 244.5 L1247.3 248.4 L1253.3 252.3 L1259.3 255.9 L1265.3 259.5 L1271.3 262.9 L1277.3 266.2 L1283.3 269.4 L1289.3 272.5 L1295.3 275.5 L1301.3 278.4 L1307.3 281.2 L1313.3 283.9 L1319.3 286.6 L1325.3 289.2 L1331.3 291.7 L1337.3 294.1 L1343.3 296.5 L1349.3 298.9 L1355.3 301.2 L1361.3 303.4 L1367.3 305.6 L1373.3 307.7 L1379.3 309.8 L1385.3 311.8 L1391.3 313.8 L1397.3 315.8 L1403.3 317.7 L1409.3 319.6 L1415.3 321.4 L1421.3 323.2 L1427.3 325 L1433.3 326.8 L1439.3 328.5 L1445.3 330.2 L1451.3 331.8 L1457.3 333.4 L1463.3 335 L1469.3 336.6 L1475.3 338.2 L1481.3 339.7 L1484.5 340.5 L1487.8 339.7 L1493.8 338.2 L1499.8 336.6 L1505.8 335 L1511.8 333.4 L1517.8 331.8 L1523.8 330.2 L1529.8 328.5 L1535.8 326.8 L1541.8 325 L1547.8 323.2 L1553.8 321.4 L1559.8 319.6 L1565.8 317.7 L1571.8 315.8 L1577.8 313.8 L1583.8 311.8 L1589.8 309.8 L1595.8 307.7 L1601.8 305.6 L1607.8 303.4 L1613.8 301.2 L1619.8 298.9 L1625.8 296.5 L1631.8 294.1 L1637.8 291.7 L1643.8 289.2 L1649.8 286.6 L1655.8 283.9 L1661.8 281.2 L1667.8 278.4 L1673.8 275.5 L1679.8 272.5 L1685.8 269.4 L1691.8 266.2 L1697.8 262.9 L1703.8 259.5 L1709.8 255.9 L1715.8 252.3 L1721.8 248.4 L1727.8 244.5 L1733.8 240.3 L1739.8 236 L1745.8 231.4 L1751.8 226.7 L1757.8 221.7 L1763.8 216.4 L1769.8 210.8 L1775.8 204.8 L1781.8 198.5 L1787.8 191.7 L1793.8 184.4 L1799.4 177 L1804.7 169.6 L1809.5 162.2 L1814 154.8 L1818.1 147.3 L1822 139.9 L1825.5 132.5 L1828.8 125.1 L1831.9 117.7 L1834.7 110.3 L1837.3 102.8 L1839.8 95.4 L1842 88 L1844.1 80.6 L1846 73.2 L1847.8 65.8 L1849.4 58.4 L1851 50.9 L1852.4 43.5 L1853.7 36.1 L1854.9 28.7 L1856 21.3 L1857.1 13.9 L1858 6.5 L1858.9 -1 L1859.7 -8.4 L1860.5 -15.8 L1861.2 -23.2 L1861.9 -30.6 L1862.5 -38 L1863 -45.4 L1863.6 -52.9 L1864.1 -60.6 L1864.6 -69 L1865.1 -78.1 L1865.6 -88.3 L1866.1 -99.6 L1866.6 -112.5 L1867.1 -127.4 L1867.6 -144.9 L1868.1 -166.4 L1868.6 -194.1 L1869.1 -233.2 L1869.6 -300" fill="none" stroke="#000" stroke-width="1.3"/>
</g>
<path d="M1099 34.3H1870.1V336H1099ZM1179.2 34.3v7.5 M1179.2 336v-7.5M1318.7 34.3v7.5 M1318.7 336v-7.5M1458.2 34.3v7.5 M1458.2 336v-7.5M1597.7 34.3v7.5 M1597.7 336v-7.5M1737.3 34.3v7.5 M1737.3 336v-7.5M1099 71h7.5 M1870.1 71h-7.5M1099 137.8h7.5 M1870.1 137.8h-7.5M1099 204.5h7.5 M1870.1 204.5h-7.5M1099 271.3h7.5 M1870.1 271.3h-7.5" fill="none" stroke="#262626" stroke-width="1.4"/>
<text x="1179.2" y="370.9" font-size="24.2" text-anchor="middle" fill="#262626">2012</text>
<text x="1318.7" y="370.9" font-size="24.2" text-anchor="middle" fill="#262626">2014</text>
<text x="1458.2" y="370.9" font-size="24.2" text-anchor="middle" fill="#262626">2016</text>
<text x="1597.7" y="370.9" font-size="24.2" text-anchor="middle" fill="#262626">2018</text>
<text x="1737.3" y="370.9" font-size="24.2" text-anchor="middle" fill="#262626">2020</text>
<text x="1087.7" y="79.6" font-size="24.9" text-anchor="end" fill="#262626">0.25</text>
<text x="1087.7" y="146.4" font-size="24.9" text-anchor="end" fill="#262626">0.5</text>
<text x="1087.7" y="213.2" font-size="24.9" text-anchor="end" fill="#262626">1</text>
<text x="1087.7" y="280" font-size="24.9" text-anchor="end" fill="#262626">2</text>
<text transform="translate(1026.1 191.8) rotate(-90)" font-size="27.1" text-anchor="middle" fill="#262626">Period</text>
<text x="1484.3" y="25.8" font-size="26.9" font-weight="bold" text-anchor="middle" fill="#000">Industrial Production (USA)</text>
<rect x="1894.1" y="34.3" width="41.8" height="301.7" fill="url(#pg)" stroke="#262626" stroke-width="1.2"/>
<text x="1949" y="54.4" font-size="20.8" fill="#262626">16</text>
<text x="1954.8" y="89.3" font-size="20.8" fill="#262626">8</text>
<text x="1954.8" y="124.8" font-size="20.8" fill="#262626">4</text>
<text x="1954.8" y="159.7" font-size="20.8" fill="#262626">2</text>
<text x="1954.8" y="194.6" font-size="20.8" fill="#262626">1</text>
<text x="1949" y="229.5" font-size="20.8" fill="#262626">1/2</text>
<text x="1949" y="263.9" font-size="20.8" fill="#262626">1/4</text>
<text x="1949" y="299.4" font-size="20.8" fill="#262626">1/8</text>
<text x="1949" y="334.9" font-size="20.8" fill="#262626">1/16</text>
<path d="M1935.9 46.9h-4M1935.9 81.9h-4M1935.9 117.3h-4M1935.9 152.3h-4M1935.9 187.2h-4M1935.9 222.1h-4M1935.9 256.4h-4M1935.9 291.9h-4M1935.9 327.4h-4" fill="none" stroke="#262626" stroke-width="1.2"/>
<defs>
<clipPath id="c3"><rect x="93.3" y="446.9" width="767" height="293.1"/></clipPath>
<filter id="p3b2_9" filterUnits="userSpaceOnUse" x="33.3" y="386.9" width="887" height="413.1" color-interpolation-filters="sRGB"><feGaussianBlur stdDeviation="2.9"/></filter>
<filter id="p3b3_4" filterUnits="userSpaceOnUse" x="33.3" y="386.9" width="887" height="413.1" color-interpolation-filters="sRGB"><feGaussianBlur stdDeviation="3.4"/></filter>
<filter id="p3b8_0" filterUnits="userSpaceOnUse" x="33.3" y="386.9" width="887" height="413.1" color-interpolation-filters="sRGB"><feGaussianBlur stdDeviation="8"/></filter>
<filter id="p3b9_2" filterUnits="userSpaceOnUse" x="33.3" y="386.9" width="887" height="413.1" color-interpolation-filters="sRGB"><feGaussianBlur stdDeviation="9.2"/></filter>
</defs>
<g clip-path="url(#c3)">
<g filter="url(#pm)">
<rect x="33.3" y="386.9" width="887" height="413.1" fill="#000000"/>
<g filter="url(#p3b8_0)"><path d="M88.7 571.7 L123.1 571.7 L148.8 629 L188.9 669 L257.6 703.4 L354.9 726.3 L457.9 743.4 L457.9 754.9 L88.7 754.9Z" fill="#4c4c4c"/></g>
<g filter="url(#p3b9_2)"><path d="M88.7 697.7 L188.9 703.4 L286.2 729.1 L400.7 754.9 L88.7 754.9Z" fill="#6b6b6b"/></g>
<g filter="url(#p3b9_2)"><ellipse cx="171.7" cy="663.3" rx="74.4" ry="17.2" fill="#1a1a1a"/></g>
<g filter="url(#p3b8_0)"><path d="M864.3 566 L824.3 571.7 L789.9 629 L744.1 651.9 L686.9 686.2 L601 709.1 L498 754.9 L864.3 754.9Z" fill="#4c4c4c"/></g>
<g filter="url(#p3b8_0)"><path d="M864.3 629 L801.4 640.4 L744.1 657.6 L715.5 686.2 L801.4 709.1 L864.3 709.1Z" fill="#7a7a7a"/></g>
<g filter="url(#p3b3_4)"><ellipse cx="389.2" cy="733.1" rx="45.8" ry="4.6" fill="#0d0d0d"/></g>
<g filter="url(#p3b3_4)"><ellipse cx="669.7" cy="726.3" rx="68.7" ry="5.7" fill="#0d0d0d"/></g>
<g filter="url(#p3b3_4)"><ellipse cx="784.2" cy="629" rx="22.9" ry="5.7" fill="#141414"/></g>
<g filter="url(#p3b2_9)"><path d="M354.9 707.4 L572.4 707.4 L629.7 697.7 L646.8 686.2 L601 703.4 L543.8 716 L400.7 717.7Z" fill="#383838"/></g>
<g filter="url(#p3b3_4)"><ellipse cx="572.4" cy="700.5" rx="51.5" ry="5.7" fill="#4c4c4c" transform="rotate(-8 572.4 700.5)"/></g>
<g filter="url(#p3b3_4)"><ellipse cx="695.5" cy="650.7" rx="37.2" ry="6.9" fill="#262626"/></g>
</g>
<path d="M108.8 446.9C109.7 453.4 112.4 474.6 114.5 485.9C116.6 497.1 119.6 504.9 121.4 514.5C123.1 524 124.5 535.5 124.8 543.1C125.1 550.7 121.4 554.6 123.1 560.3C124.7 566 131.7 570.8 134.5 577.4C137.4 584.1 139 593.7 140.2 600.3C141.5 607 143.4 612.7 142 617.5C140.5 622.3 136.7 625.9 131.7 629C126.6 632 118 633.9 111.6 635.8C105.2 637.7 96.4 639.6 93.3 640.4" fill="none" stroke="#000" stroke-width="5" stroke-linejoin="round" stroke-linecap="round"/>
<path d="M841.4 446.9C841 453.4 840.5 469.8 838.6 485.9C836.7 501.9 833.3 529.7 830 543.1C826.7 556.5 824.3 559.8 818.5 566C812.8 572.2 804.7 577 795.6 580.3C786.6 583.6 770.7 583.2 764.2 586C757.7 588.9 755.8 594.1 756.7 597.5C757.7 600.8 762.4 603.7 769.9 606.1C777.3 608.5 791.8 609.4 801.4 611.8C810.9 614.2 822.4 617.5 827.1 620.4C831.9 623.2 834.3 626.1 830 629C825.7 631.8 813.8 634.9 801.4 637.6C789 640.2 764.9 642.6 755.6 645C746.2 647.4 744.3 648.8 745.3 651.9C746.2 654.9 753.9 659.5 761.3 663.3C768.7 667.1 781.3 670.5 789.9 674.8C798.5 679 801.1 686 812.8 689.1C824.6 692.1 852.4 692.4 860.3 693.1" fill="none" stroke="#000" stroke-width="5" stroke-linejoin="round" stroke-linecap="round"/>
<path d="M745.9 455.5C747.1 455.5 749.7 463.3 749.9 467C750 470.7 748.2 477.8 747 477.8C745.8 477.8 742.6 470.7 742.4 467C742.2 463.3 744.6 455.5 745.9 455.5Z" fill="none" stroke="#000" stroke-width="5" stroke-linejoin="round" stroke-linecap="round"/>
<path d="M88.3 246.9 L93.8 124.7 L94.3 189.4 L94.8 227.3 L95.3 254.1 L95.8 274.9 L96.3 291.9 L96.8 306.3 L97.3 318.8 L97.8 329.8 L98.3 339.6 L98.8 348.5 L99.3 356.6 L99.8 364.1 L100.3 371.3 L100.9 378.5 L101.5 385.6 L102.1 392.8 L102.9 400 L103.6 407.2 L104.4 414.4 L105.3 421.6 L106.3 428.7 L107.3 435.9 L108.5 443.1 L109.7 450.3 L111 457.5 L112.4 464.6 L113.9 471.8 L115.6 479 L117.4 486.2 L119.3 493.4 L121.4 500.6 L123.6 507.7 L126 514.9 L128.6 522.1 L131.5 529.3 L134.5 536.5 L137.8 543.6 L141.4 550.8 L145.2 558 L149.4 565.2 L153.9 572.4 L158.7 579.6 L163.9 586.7 L169.6 593.9 L175.6 601 L181.6 607.6 L187.6 613.7 L193.6 619.4 L199.6 624.9 L205.6 630 L211.6 634.8 L217.6 639.5 L223.6 643.9 L229.6 648.1 L235.6 652.1 L241.6 655.9 L247.6 659.6 L253.6 663.2 L259.6 666.6 L265.6 669.9 L271.6 673.1 L277.6 676.2 L283.6 679.2 L289.6 682.1 L295.6 684.9 L301.6 687.6 L307.6 690.3 L313.6 692.9 L319.6 695.4 L325.6 697.8 L331.6 700.2 L337.6 702.5 L343.6 704.8 L349.6 707 L355.6 709.2 L361.6 711.3 L367.6 713.3 L373.6 715.3 L379.6 717.3 L385.6 719.3 L391.6 721.2 L397.6 723 L403.6 724.8 L409.6 726.6 L415.6 728.4 L421.6 730.1 L427.6 731.8 L433.6 733.4 L439.6 735.1 L445.6 736.7 L451.6 738.3 L457.6 739.8 L463.6 741.3 L469.6 742.8 L475.6 744.3 L476.8 744.6 L478 744.3 L484 742.8 L490 741.3 L496 739.8 L502 738.3 L508 736.7 L514 735.1 L520 733.4 L526 731.8 L532 730.1 L538 728.4 L544 726.6 L550 724.8 L556 723 L562 721.2 L568 719.3 L574 717.3 L580 715.3 L586 713.3 L592 711.3 L598 709.2 L604 707 L610 704.8 L616 702.5 L622 700.2 L628 697.8 L634 695.4 L640 692.9 L646 690.3 L652 687.6 L658 684.9 L664 682.1 L670 679.2 L676 676.2 L682 673.1 L688 669.9 L694 666.6 L700 663.2 L706 659.6 L712 655.9 L718 652.1 L724 648.1 L730 643.9 L736 639.5 L742 634.8 L748 630 L754 624.9 L760 619.4 L766 613.7 L772 607.6 L778 601 L784 593.9 L789.7 586.7 L794.9 579.6 L799.8 572.4 L804.3 565.2 L808.4 558 L812.3 550.8 L815.8 543.6 L819.1 536.5 L822.2 529.3 L825 522.1 L827.6 514.9 L830 507.7 L832.3 500.6 L834.4 493.4 L836.3 486.2 L838.1 479 L839.7 471.8 L841.2 464.6 L842.7 457.5 L844 450.3 L845.2 443.1 L846.3 435.9 L847.3 428.7 L848.3 421.6 L849.2 414.4 L850 407.2 L850.8 400 L851.5 392.8 L852.1 385.6 L852.8 378.5 L853.3 371.3 L853.8 364.1 L854.3 356.6 L854.8 348.5 L855.3 339.6 L855.8 329.8 L856.3 318.8 L856.8 306.3 L857.3 291.9 L857.8 274.9 L858.3 254.1 L858.8 227.3 L859.3 189.4 L859.8 124.7 L865.3 246.9 L865.3 1040 L88.3 1040Z" fill="#fff" fill-opacity="0.5"/>
<path d="M93.8 124.7 L94.3 189.4 L94.8 227.3 L95.3 254.1 L95.8 274.9 L96.3 291.9 L96.8 306.3 L97.3 318.8 L97.8 329.8 L98.3 339.6 L98.8 348.5 L99.3 356.6 L99.8 364.1 L100.3 371.3 L100.9 378.5 L101.5 385.6 L102.1 392.8 L102.9 400 L103.6 407.2 L104.4 414.4 L105.3 421.6 L106.3 428.7 L107.3 435.9 L108.5 443.1 L109.7 450.3 L111 457.5 L112.4 464.6 L113.9 471.8 L115.6 479 L117.4 486.2 L119.3 493.4 L121.4 500.6 L123.6 507.7 L126 514.9 L128.6 522.1 L131.5 529.3 L134.5 536.5 L137.8 543.6 L141.4 550.8 L145.2 558 L149.4 565.2 L153.9 572.4 L158.7 579.6 L163.9 586.7 L169.6 593.9 L175.6 601 L181.6 607.6 L187.6 613.7 L193.6 619.4 L199.6 624.9 L205.6 630 L211.6 634.8 L217.6 639.5 L223.6 643.9 L229.6 648.1 L235.6 652.1 L241.6 655.9 L247.6 659.6 L253.6 663.2 L259.6 666.6 L265.6 669.9 L271.6 673.1 L277.6 676.2 L283.6 679.2 L289.6 682.1 L295.6 684.9 L301.6 687.6 L307.6 690.3 L313.6 692.9 L319.6 695.4 L325.6 697.8 L331.6 700.2 L337.6 702.5 L343.6 704.8 L349.6 707 L355.6 709.2 L361.6 711.3 L367.6 713.3 L373.6 715.3 L379.6 717.3 L385.6 719.3 L391.6 721.2 L397.6 723 L403.6 724.8 L409.6 726.6 L415.6 728.4 L421.6 730.1 L427.6 731.8 L433.6 733.4 L439.6 735.1 L445.6 736.7 L451.6 738.3 L457.6 739.8 L463.6 741.3 L469.6 742.8 L475.6 744.3 L476.8 744.6 L478 744.3 L484 742.8 L490 741.3 L496 739.8 L502 738.3 L508 736.7 L514 735.1 L520 733.4 L526 731.8 L532 730.1 L538 728.4 L544 726.6 L550 724.8 L556 723 L562 721.2 L568 719.3 L574 717.3 L580 715.3 L586 713.3 L592 711.3 L598 709.2 L604 707 L610 704.8 L616 702.5 L622 700.2 L628 697.8 L634 695.4 L640 692.9 L646 690.3 L652 687.6 L658 684.9 L664 682.1 L670 679.2 L676 676.2 L682 673.1 L688 669.9 L694 666.6 L700 663.2 L706 659.6 L712 655.9 L718 652.1 L724 648.1 L730 643.9 L736 639.5 L742 634.8 L748 630 L754 624.9 L760 619.4 L766 613.7 L772 607.6 L778 601 L784 593.9 L789.7 586.7 L794.9 579.6 L799.8 572.4 L804.3 565.2 L808.4 558 L812.3 550.8 L815.8 543.6 L819.1 536.5 L822.2 529.3 L825 522.1 L827.6 514.9 L830 507.7 L832.3 500.6 L834.4 493.4 L836.3 486.2 L838.1 479 L839.7 471.8 L841.2 464.6 L842.7 457.5 L844 450.3 L845.2 443.1 L846.3 435.9 L847.3 428.7 L848.3 421.6 L849.2 414.4 L850 407.2 L850.8 400 L851.5 392.8 L852.1 385.6 L852.8 378.5 L853.3 371.3 L853.8 364.1 L854.3 356.6 L854.8 348.5 L855.3 339.6 L855.8 329.8 L856.3 318.8 L856.8 306.3 L857.3 291.9 L857.8 274.9 L858.3 254.1 L858.8 227.3 L859.3 189.4 L859.8 124.7" fill="none" stroke="#000" stroke-width="1.3"/>
</g>
<path d="M93.3 446.9H860.3V740H93.3ZM172.9 446.9v7.5 M172.9 740v-7.5M311.7 446.9v7.5 M311.7 740v-7.5M450.5 446.9v7.5 M450.5 740v-7.5M589.3 446.9v7.5 M589.3 740v-7.5M728.1 446.9v7.5 M728.1 740v-7.5M93.3 483.6h7.5 M860.3 483.6h-7.5M93.3 548.3h7.5 M860.3 548.3h-7.5M93.3 612.9h7.5 M860.3 612.9h-7.5M93.3 677.6h7.5 M860.3 677.6h-7.5" fill="none" stroke="#262626" stroke-width="1.4"/>
<text x="172.9" y="772.1" font-size="24" text-anchor="middle" fill="#262626">2012</text>
<text x="311.7" y="772.1" font-size="24" text-anchor="middle" fill="#262626">2014</text>
<text x="450.5" y="772.1" font-size="24" text-anchor="middle" fill="#262626">2016</text>
<text x="589.3" y="772.1" font-size="24" text-anchor="middle" fill="#262626">2018</text>
<text x="728.1" y="772.1" font-size="24" text-anchor="middle" fill="#262626">2020</text>
<text x="84.9" y="492.2" font-size="24.8" text-anchor="end" fill="#262626">0.25</text>
<text x="84.9" y="556.9" font-size="24.8" text-anchor="end" fill="#262626">0.5</text>
<text x="84.9" y="621.5" font-size="24.8" text-anchor="end" fill="#262626">1</text>
<text x="84.9" y="686.2" font-size="24.8" text-anchor="end" fill="#262626">2</text>
<text transform="translate(23.3 591.8) rotate(-90)" font-size="26.9" text-anchor="middle" fill="#262626">Period</text>
<text x="476.8" y="438.9" font-size="26.8" font-weight="bold" text-anchor="middle" fill="#000">Clubs (UK)</text>
<rect x="884.4" y="445.8" width="41.8" height="294.2" fill="url(#pg)" stroke="#262626" stroke-width="1.2"/>
<text x="944.7" y="454.3" font-size="20.7" fill="#262626">8</text>
<text x="944.7" y="503.6" font-size="20.7" fill="#262626">4</text>
<text x="944.7" y="552.8" font-size="20.7" fill="#262626">2</text>
<text x="944.7" y="602" font-size="20.7" fill="#262626">1</text>
<text x="939" y="651.8" font-size="20.7" fill="#262626">1/2</text>
<text x="939" y="701" font-size="20.7" fill="#262626">1/4</text>
<text x="939" y="749.7" font-size="20.7" fill="#262626">1/8</text>
<path d="M926.2 446.9h-4M926.2 496.2h-4M926.2 545.4h-4M926.2 594.6h-4M926.2 644.4h-4M926.2 693.6h-4" fill="none" stroke="#262626" stroke-width="1.2"/>
<defs>
<clipPath id="c4"><rect x="1119.1" y="448.1" width="767" height="291.9"/></clipPath>
<filter id="p4b2_9" filterUnits="userSpaceOnUse" x="1059.1" y="388.1" width="887" height="411.9" color-interpolation-filters="sRGB"><feGaussianBlur stdDeviation="2.9"/></filter>
<filter id="p4b3_4" filterUnits="userSpaceOnUse" x="1059.1" y="388.1" width="887" height="411.9" color-interpolation-filters="sRGB"><feGaussianBlur stdDeviation="3.4"/></filter>
<filter id="p4b4_6" filterUnits="userSpaceOnUse" x="1059.1" y="388.1" width="887" height="411.9" color-interpolation-filters="sRGB"><feGaussianBlur stdDeviation="4.6"/></filter>
<filter id="p4b5_7" filterUnits="userSpaceOnUse" x="1059.1" y="388.1" width="887" height="411.9" color-interpolation-filters="sRGB"><feGaussianBlur stdDeviation="5.7"/></filter>
<filter id="p4b6_9" filterUnits="userSpaceOnUse" x="1059.1" y="388.1" width="887" height="411.9" color-interpolation-filters="sRGB"><feGaussianBlur stdDeviation="6.9"/></filter>
<filter id="p4b8_0" filterUnits="userSpaceOnUse" x="1059.1" y="388.1" width="887" height="411.9" color-interpolation-filters="sRGB"><feGaussianBlur stdDeviation="8"/></filter>
<filter id="p4b11_4" filterUnits="userSpaceOnUse" x="1059.1" y="388.1" width="887" height="411.9" color-interpolation-filters="sRGB"><feGaussianBlur stdDeviation="11.4"/></filter>
</defs>
<g clip-path="url(#c4)">
<g filter="url(#pm)">
<rect x="1059.1" y="388.1" width="887" height="411.9" fill="#000000"/>
<g filter="url(#p4b5_7)"><path d="M1114.5 571.7 L1188.9 577.4 L1229 629 L1297.7 669 L1400.7 714.8 L1486.5 743.4 L1486.5 754.9 L1114.5 754.9Z" fill="#525252"/></g>
<g filter="url(#p4b5_7)"><path d="M1114.5 639.3 L1240.4 639.3 L1297.7 669 L1297.7 681.6 L1114.5 681.6Z" fill="#adadad"/></g>
<g filter="url(#p4b4_6)"><path d="M1114.5 697.7 L1343.4 697.7 L1400.7 714.8 L1486.5 754.9 L1114.5 754.9Z" fill="#808080"/></g>
<g filter="url(#p4b3_4)"><ellipse cx="1183.2" cy="633" rx="51.5" ry="4.6" fill="#0f0f0f"/></g>
<g filter="url(#p4b3_4)"><ellipse cx="1211.8" cy="690.2" rx="74.4" ry="4.6" fill="#0f0f0f"/></g>
<g filter="url(#p4b2_9)"><ellipse cx="1314.8" cy="729.1" rx="57.2" ry="3.4" fill="#141414"/></g>
<g filter="url(#p4b6_9)"><path d="M1188.9 580.3 L1343.4 583.2 L1515.2 580.3 L1629.7 571.7 L1698.3 566 L1709.8 629 L1629.7 674.8 L1286.2 674.8 L1229 629Z" fill="#4c4c4c"/></g>
<g filter="url(#p4b8_0)"><path d="M1246.1 623.2 L1343.4 603.2 L1515.2 603.2 L1686.9 597.5 L1715.5 669 L1572.4 697.7 L1366.3 703.4 L1274.8 663.3Z" fill="#737373"/></g>
<g filter="url(#p4b8_0)"><path d="M1251.9 634.7 L1400.7 626.1 L1423.6 651.9 L1400.7 686.2 L1309.1 686.2Z" fill="#a3a3a3"/></g>
<g filter="url(#p4b6_9)"><path d="M1658.3 629 L1772.8 629 L1772.8 674.8 L1658.3 674.8Z" fill="#808080"/></g>
<g filter="url(#p4b5_7)"><path d="M1366.3 697.7 L1572.4 686.2 L1709.8 651.9 L1744.1 686.2 L1572.4 743.4 L1469.4 743.4Z" fill="#a8a8a8"/></g>
<g filter="url(#p4b5_7)"><path d="M1435 709.1 L1572.4 694.8 L1686.9 669 L1715.5 697.7 L1601 743.4 L1480.8 743.4Z" fill="#d6d6d6"/></g>
<g filter="url(#p4b2_9)"><ellipse cx="1303.4" cy="608.9" rx="31.5" ry="8.6" fill="#000000"/></g>
<g filter="url(#p4b2_9)"><ellipse cx="1549.5" cy="610.6" rx="37.2" ry="8" fill="#000000"/></g>
<g filter="url(#p4b2_9)"><ellipse cx="1655.4" cy="595.8" rx="22.9" ry="4.6" fill="#000000"/></g>
<g filter="url(#p4b2_9)"><ellipse cx="1492.3" cy="650.7" rx="34.3" ry="4.6" fill="#000000"/></g>
<g filter="url(#p4b2_9)"><ellipse cx="1543.8" cy="650.7" rx="20" ry="4.6" fill="#000000"/></g>
<g filter="url(#p4b2_9)"><ellipse cx="1635.4" cy="639.3" rx="37.2" ry="4.6" fill="#000000"/></g>
<g filter="url(#p4b2_9)"><ellipse cx="1515.2" cy="683.3" rx="37.2" ry="4" fill="#000000"/></g>
<g filter="url(#p4b4_6)"><path d="M1758.4 445.8C1753.2 450.6 1753.2 464.9 1749.9 474.4C1746.5 484 1741.3 494.4 1738.4 503C1735.5 511.6 1734.6 518.3 1732.7 525.9C1730.8 533.6 1729.8 542.1 1727 548.8C1724.1 555.5 1718.4 559.3 1715.5 566C1712.7 572.7 1711.7 582.7 1709.8 588.9C1707.9 595.1 1706.7 598.6 1704.1 603.2C1701.4 607.8 1693.8 612.8 1693.8 616.4C1693.8 619.9 1697.6 622.1 1704.1 624.4C1710.6 626.7 1722.2 628.6 1732.7 630.1C1743.2 631.6 1755.6 633.7 1767 633.5C1778.5 633.4 1790.9 631.2 1801.4 629C1811.9 626.8 1821.9 624.7 1830 620.4C1838.1 616.1 1848.6 608.9 1850 603.2C1851.5 597.5 1842.4 592.2 1838.6 586C1834.8 579.8 1830.5 572.2 1827.1 566C1823.8 559.8 1820.9 554.6 1818.5 548.8C1816.2 543.1 1814.3 537.4 1812.8 531.7C1811.4 525.9 1811.9 519.3 1810 514.5C1808.1 509.7 1804.2 507.8 1801.4 503C1798.5 498.3 1795.6 492.5 1792.8 485.9C1789.9 479.2 1786.1 469.6 1784.2 463C1782.3 456.3 1785.6 448.7 1781.3 445.8C1777 442.9 1763.7 441 1758.4 445.8Z" fill="#808080"/></g>
<g filter="url(#p4b5_7)"><path d="M1764.2 474.4C1758 480.1 1750.3 498.3 1744.1 514.5C1737.9 530.7 1732.7 555 1727 571.7C1721.2 588.4 1703.1 605.1 1709.8 614.7C1716.5 624.2 1747.9 628.5 1767 629C1786.1 629.4 1815.7 627.1 1824.3 617.5C1832.9 608 1822.4 587 1818.5 571.7C1814.7 556.5 1807.6 541.2 1801.4 525.9C1795.2 510.7 1787.5 488.7 1781.3 480.1C1775.1 471.6 1770.4 468.7 1764.2 474.4Z" fill="#adadad"/></g>
<g filter="url(#p4b6_9)"><path d="M1767 508.8C1758.9 512.6 1751.8 531.7 1744.1 548.8C1736.5 566 1717.4 598.6 1721.2 611.8C1725.1 625 1749.9 627.3 1767 627.8C1784.2 628.3 1816.6 625 1824.3 614.7C1831.9 604.4 1818.1 580.8 1812.8 566C1807.6 551.2 1800.4 535.5 1792.8 525.9C1785.2 516.4 1775.1 504.9 1767 508.8Z" fill="#d9d9d9"/></g>
<g filter="url(#p4b5_7)"><path d="M1830 560.3 L1893 560.3 L1893 651.9 L1801.4 651.9Z" fill="#6b6b6b"/></g>
<g filter="url(#p4b8_0)"><path d="M1658.3 686.2 L1744.1 651.9 L1830 634.7 L1893 646.1 L1893 754.9 L1515.2 754.9Z" fill="#e6e6e6"/></g>
<g filter="url(#p4b11_4)"><ellipse cx="1789.9" cy="691.9" rx="97.3" ry="25.8" fill="#f5f5f5"/></g>
<g filter="url(#p4b5_7)"><ellipse cx="1870.1" cy="734.9" rx="34.3" ry="11.4" fill="#999999"/></g>
<g filter="url(#p4b3_4)"><ellipse cx="1864.3" cy="574.6" rx="22.9" ry="8" fill="#0f0f0f"/></g>
</g>
<path d="M1758.4 445.8C1757 450.6 1753.2 464.9 1749.9 474.4C1746.5 484 1741.3 494.4 1738.4 503C1735.5 511.6 1734.6 518.3 1732.7 525.9C1730.8 533.6 1729.8 542.1 1727 548.8C1724.1 555.5 1718.4 559.3 1715.5 566C1712.7 572.7 1711.7 582.7 1709.8 588.9C1707.9 595.1 1706.7 598.6 1704.1 603.2C1701.4 607.8 1693.8 612.8 1693.8 616.4C1693.8 619.9 1697.6 622.1 1704.1 624.4C1710.6 626.7 1722.2 628.6 1732.7 630.1C1743.2 631.6 1755.6 633.7 1767 633.5C1778.5 633.4 1790.9 631.2 1801.4 629C1811.9 626.8 1821.9 624.7 1830 620.4C1838.1 616.1 1848.6 608.9 1850 603.2C1851.5 597.5 1842.4 592.2 1838.6 586C1834.8 579.8 1830.5 572.2 1827.1 566C1823.8 559.8 1820.9 554.6 1818.5 548.8C1816.2 543.1 1814.3 537.4 1812.8 531.7C1811.4 525.9 1811.9 519.3 1810 514.5C1808.1 509.7 1804.2 507.8 1801.4 503C1798.5 498.3 1795.6 492.5 1792.8 485.9C1789.9 479.2 1786.1 469.6 1784.2 463C1782.3 456.3 1781.8 448.7 1781.3 445.8" fill="none" stroke="#000" stroke-width="5" stroke-linejoin="round" stroke-linecap="round"/>
<path d="M1114.1 248.1 L1119.6 119.9 L1120.1 185.1 L1120.6 223.3 L1121.1 250.4 L1121.6 271.4 L1122.1 288.5 L1122.6 303 L1123.1 315.6 L1123.6 326.7 L1124.1 336.6 L1124.6 345.6 L1125.1 353.8 L1125.6 361.3 L1126.1 368.6 L1126.6 375.8 L1127.2 383.1 L1127.9 390.3 L1128.6 397.6 L1129.4 404.8 L1130.2 412 L1131.1 419.3 L1132.1 426.5 L1133.1 433.8 L1134.2 441 L1135.4 448.3 L1136.7 455.5 L1138.2 462.8 L1139.7 470 L1141.3 477.3 L1143.1 484.5 L1145 491.7 L1147.1 499 L1149.4 506.2 L1151.8 513.5 L1154.4 520.7 L1157.2 528 L1160.3 535.2 L1163.6 542.5 L1167.1 549.7 L1171 557 L1175.1 564.2 L1179.6 571.4 L1184.5 578.7 L1189.7 585.9 L1195.4 593.2 L1201.4 600.3 L1207.4 606.9 L1213.4 613.1 L1219.4 618.9 L1225.4 624.4 L1231.4 629.6 L1237.4 634.5 L1243.4 639.1 L1249.4 643.6 L1255.4 647.8 L1261.4 651.9 L1267.4 655.7 L1273.4 659.5 L1279.4 663.1 L1285.4 666.5 L1291.4 669.9 L1297.4 673.1 L1303.4 676.2 L1309.4 679.2 L1315.4 682.1 L1321.4 685 L1327.4 687.7 L1333.4 690.4 L1339.4 693 L1345.4 695.5 L1351.4 698 L1357.4 700.4 L1363.4 702.7 L1369.4 705 L1375.4 707.3 L1381.4 709.4 L1387.4 711.6 L1393.4 713.6 L1399.4 715.7 L1405.4 717.7 L1411.4 719.6 L1417.4 721.5 L1423.4 723.4 L1429.4 725.3 L1435.4 727.1 L1441.4 728.8 L1447.4 730.6 L1453.4 732.3 L1459.4 733.9 L1465.4 735.6 L1471.4 737.2 L1477.4 738.8 L1483.4 740.4 L1489.4 741.9 L1495.4 743.4 L1501.4 744.9 L1502.6 745.2 L1503.8 744.9 L1509.8 743.4 L1515.8 741.9 L1521.8 740.4 L1527.8 738.8 L1533.8 737.2 L1539.8 735.6 L1545.8 733.9 L1551.8 732.3 L1557.8 730.6 L1563.8 728.8 L1569.8 727.1 L1575.8 725.3 L1581.8 723.4 L1587.8 721.5 L1593.8 719.6 L1599.8 717.7 L1605.8 715.7 L1611.8 713.6 L1617.8 711.6 L1623.8 709.4 L1629.8 707.3 L1635.8 705 L1641.8 702.7 L1647.8 700.4 L1653.8 698 L1659.8 695.5 L1665.8 693 L1671.8 690.4 L1677.8 687.7 L1683.8 685 L1689.8 682.1 L1695.8 679.2 L1701.8 676.2 L1707.8 673.1 L1713.8 669.9 L1719.8 666.5 L1725.8 663.1 L1731.8 659.5 L1737.8 655.7 L1743.8 651.9 L1749.8 647.8 L1755.8 643.6 L1761.8 639.1 L1767.8 634.5 L1773.8 629.6 L1779.8 624.4 L1785.8 618.9 L1791.8 613.1 L1797.8 606.9 L1803.8 600.3 L1809.8 593.2 L1815.5 585.9 L1820.7 578.7 L1825.5 571.4 L1830 564.2 L1834.2 557 L1838 549.7 L1841.6 542.5 L1844.9 535.2 L1847.9 528 L1850.8 520.7 L1853.4 513.5 L1855.8 506.2 L1858 499 L1860.1 491.7 L1862 484.5 L1863.8 477.3 L1865.5 470 L1867 462.8 L1868.4 455.5 L1869.7 448.3 L1870.9 441 L1872.1 433.8 L1873.1 426.5 L1874.1 419.3 L1875 412 L1875.8 404.8 L1876.5 397.6 L1877.2 390.3 L1877.9 383.1 L1878.5 375.8 L1879.1 368.6 L1879.6 361.3 L1880.1 353.8 L1880.6 345.6 L1881.1 336.6 L1881.6 326.7 L1882.1 315.6 L1882.6 303 L1883.1 288.5 L1883.6 271.4 L1884.1 250.4 L1884.6 223.3 L1885.1 185.1 L1885.6 119.9 L1891.1 248.1 L1891.1 1040 L1114.1 1040Z" fill="#fff" fill-opacity="0.5"/>
<path d="M1119.6 119.9 L1120.1 185.1 L1120.6 223.3 L1121.1 250.4 L1121.6 271.4 L1122.1 288.5 L1122.6 303 L1123.1 315.6 L1123.6 326.7 L1124.1 336.6 L1124.6 345.6 L1125.1 353.8 L1125.6 361.3 L1126.1 368.6 L1126.6 375.8 L1127.2 383.1 L1127.9 390.3 L1128.6 397.6 L1129.4 404.8 L1130.2 412 L1131.1 419.3 L1132.1 426.5 L1133.1 433.8 L1134.2 441 L1135.4 448.3 L1136.7 455.5 L1138.2 462.8 L1139.7 470 L1141.3 477.3 L1143.1 484.5 L1145 491.7 L1147.1 499 L1149.4 506.2 L1151.8 513.5 L1154.4 520.7 L1157.2 528 L1160.3 535.2 L1163.6 542.5 L1167.1 549.7 L1171 557 L1175.1 564.2 L1179.6 571.4 L1184.5 578.7 L1189.7 585.9 L1195.4 593.2 L1201.4 600.3 L1207.4 606.9 L1213.4 613.1 L1219.4 618.9 L1225.4 624.4 L1231.4 629.6 L1237.4 634.5 L1243.4 639.1 L1249.4 643.6 L1255.4 647.8 L1261.4 651.9 L1267.4 655.7 L1273.4 659.5 L1279.4 663.1 L1285.4 666.5 L1291.4 669.9 L1297.4 673.1 L1303.4 676.2 L1309.4 679.2 L1315.4 682.1 L1321.4 685 L1327.4 687.7 L1333.4 690.4 L1339.4 693 L1345.4 695.5 L1351.4 698 L1357.4 700.4 L1363.4 702.7 L1369.4 705 L1375.4 707.3 L1381.4 709.4 L1387.4 711.6 L1393.4 713.6 L1399.4 715.7 L1405.4 717.7 L1411.4 719.6 L1417.4 721.5 L1423.4 723.4 L1429.4 725.3 L1435.4 727.1 L1441.4 728.8 L1447.4 730.6 L1453.4 732.3 L1459.4 733.9 L1465.4 735.6 L1471.4 737.2 L1477.4 738.8 L1483.4 740.4 L1489.4 741.9 L1495.4 743.4 L1501.4 744.9 L1502.6 745.2 L1503.8 744.9 L1509.8 743.4 L1515.8 741.9 L1521.8 740.4 L1527.8 738.8 L1533.8 737.2 L1539.8 735.6 L1545.8 733.9 L1551.8 732.3 L1557.8 730.6 L1563.8 728.8 L1569.8 727.1 L1575.8 725.3 L1581.8 723.4 L1587.8 721.5 L1593.8 719.6 L1599.8 717.7 L1605.8 715.7 L1611.8 713.6 L1617.8 711.6 L1623.8 709.4 L1629.8 707.3 L1635.8 705 L1641.8 702.7 L1647.8 700.4 L1653.8 698 L1659.8 695.5 L1665.8 693 L1671.8 690.4 L1677.8 687.7 L1683.8 685 L1689.8 682.1 L1695.8 679.2 L1701.8 676.2 L1707.8 673.1 L1713.8 669.9 L1719.8 666.5 L1725.8 663.1 L1731.8 659.5 L1737.8 655.7 L1743.8 651.9 L1749.8 647.8 L1755.8 643.6 L1761.8 639.1 L1767.8 634.5 L1773.8 629.6 L1779.8 624.4 L1785.8 618.9 L1791.8 613.1 L1797.8 606.9 L1803.8 600.3 L1809.8 593.2 L1815.5 585.9 L1820.7 578.7 L1825.5 571.4 L1830 564.2 L1834.2 557 L1838 549.7 L1841.6 542.5 L1844.9 535.2 L1847.9 528 L1850.8 520.7 L1853.4 513.5 L1855.8 506.2 L1858 499 L1860.1 491.7 L1862 484.5 L1863.8 477.3 L1865.5 470 L1867 462.8 L1868.4 455.5 L1869.7 448.3 L1870.9 441 L1872.1 433.8 L1873.1 426.5 L1874.1 419.3 L1875 412 L1875.8 404.8 L1876.5 397.6 L1877.2 390.3 L1877.9 383.1 L1878.5 375.8 L1879.1 368.6 L1879.6 361.3 L1880.1 353.8 L1880.6 345.6 L1881.1 336.6 L1881.6 326.7 L1882.1 315.6 L1882.6 303 L1883.1 288.5 L1883.6 271.4 L1884.1 250.4 L1884.6 223.3 L1885.1 185.1 L1885.6 119.9" fill="none" stroke="#000" stroke-width="1.3"/>
</g>
<path d="M1119.1 448.1H1886.1V740H1119.1ZM1198.6 448.1v7.5 M1198.6 740v-7.5M1337.4 448.1v7.5 M1337.4 740v-7.5M1476.2 448.1v7.5 M1476.2 740v-7.5M1615.1 448.1v7.5 M1615.1 740v-7.5M1753.9 448.1v7.5 M1753.9 740v-7.5M1119.1 481.9h7.5 M1886.1 481.9h-7.5M1119.1 547.1h7.5 M1886.1 547.1h-7.5M1119.1 612.4h7.5 M1886.1 612.4h-7.5M1119.1 677.6h7.5 M1886.1 677.6h-7.5" fill="none" stroke="#262626" stroke-width="1.4"/>
<text x="1198.6" y="772.1" font-size="24" text-anchor="middle" fill="#262626">2012</text>
<text x="1337.4" y="772.1" font-size="24" text-anchor="middle" fill="#262626">2014</text>
<text x="1476.2" y="772.1" font-size="24" text-anchor="middle" fill="#262626">2016</text>
<text x="1615.1" y="772.1" font-size="24" text-anchor="middle" fill="#262626">2018</text>
<text x="1753.9" y="772.1" font-size="24" text-anchor="middle" fill="#262626">2020</text>
<text x="1108.9" y="490.5" font-size="24.8" text-anchor="end" fill="#262626">0.25</text>
<text x="1108.9" y="555.7" font-size="24.8" text-anchor="end" fill="#262626">0.5</text>
<text x="1108.9" y="621" font-size="24.8" text-anchor="end" fill="#262626">1</text>
<text x="1108.9" y="686.2" font-size="24.8" text-anchor="end" fill="#262626">2</text>
<text transform="translate(1049 591.8) rotate(-90)" font-size="26.9" text-anchor="middle" fill="#262626">Period</text>
<text x="1501.4" y="438.9" font-size="26.8" font-weight="bold" text-anchor="middle" fill="#000">Industrial Production (UK)</text>
<rect x="1910.1" y="448.1" width="41.8" height="291.9" fill="url(#pg)" stroke="#262626" stroke-width="1.2"/>
<text x="1970.5" y="455.5" font-size="20.7" fill="#262626">8</text>
<text x="1970.5" y="504.7" font-size="20.7" fill="#262626">4</text>
<text x="1970.5" y="553.9" font-size="20.7" fill="#262626">2</text>
<text x="1970.5" y="603.2" font-size="20.7" fill="#262626">1</text>
<text x="1964.7" y="652.4" font-size="20.7" fill="#262626">1/2</text>
<text x="1964.7" y="701" font-size="20.7" fill="#262626">1/4</text>
<text x="1964.7" y="749.7" font-size="20.7" fill="#262626">1/8</text>
<path d="M1951.9 497.3h-4M1951.9 546.5h-4M1951.9 595.8h-4M1951.9 645h-4M1951.9 693.6h-4" fill="none" stroke="#262626" stroke-width="1.2"/>
<defs>
<clipPath id="c5"><rect x="93.3" y="850.4" width="767" height="292.5"/></clipPath>
<filter id="p5b2_9" filterUnits="userSpaceOnUse" x="33.3" y="790.4" width="887" height="412.5" color-interpolation-filters="sRGB"><feGaussianBlur stdDeviation="2.9"/></filter>
<filter id="p5b3_4" filterUnits="userSpaceOnUse" x="33.3" y="790.4" width="887" height="412.5" color-interpolation-filters="sRGB"><feGaussianBlur stdDeviation="3.4"/></filter>
<filter id="p5b8_0" filterUnits="userSpaceOnUse" x="33.3" y="790.4" width="887" height="412.5" color-interpolation-filters="sRGB"><feGaussianBlur stdDeviation="8"/></filter>
</defs>
<g clip-path="url(#c5)">
<g filter="url(#pm)">
<rect x="33.3" y="790.4" width="887" height="412.5" fill="#000000"/>
<g filter="url(#p5b8_0)"><path d="M88.7 971.7 L123.1 971.7 L154.6 1029 L194.6 1069 L286.2 1103.4 L372.1 1129.1 L457.9 1146.3 L457.9 1154.9 L88.7 1154.9Z" fill="#4c4c4c"/></g>
<g filter="url(#p5b8_0)"><path d="M88.7 1069 L200.3 1074.8 L297.7 1112 L366.3 1154.9 L88.7 1154.9Z" fill="#787878"/></g>
<g filter="url(#p5b8_0)"><path d="M864.3 966 L824.3 971.7 L801.4 1029 L744.1 1057.6 L658.3 1097.7 L572.4 1120.5 L498 1154.9 L864.3 1154.9Z" fill="#4c4c4c"/></g>
<g filter="url(#p5b8_0)"><path d="M864.3 1040.4 L801.4 1046.1 L744.1 1063.3 L715.5 1091.9 L772.8 1109.1 L864.3 1109.1Z" fill="#808080"/></g>
<g filter="url(#p5b3_4)"><ellipse cx="354.9" cy="1132" rx="51.5" ry="5.7" fill="#0d0d0d"/></g>
<g filter="url(#p5b3_4)"><ellipse cx="686.9" cy="1129.1" rx="63" ry="5.7" fill="#0d0d0d"/></g>
<g filter="url(#p5b3_4)"><ellipse cx="326.3" cy="1090.8" rx="40.1" ry="5.7" fill="#333333"/></g>
<g filter="url(#p5b3_4)"><ellipse cx="606.8" cy="1091.9" rx="54.4" ry="6.9" fill="#424242" transform="rotate(-5 606.8 1091.9)"/></g>
<g filter="url(#p5b2_9)"><ellipse cx="704.1" cy="1057.6" rx="20" ry="4.6" fill="#1a1a1a"/></g>
</g>
<path d="M111.6 850.4C112.6 858.2 115.1 882.8 117.3 897.3C119.5 911.8 123.8 925.9 124.8 937.4C125.7 948.8 121 957.4 123.1 966C125.2 974.6 132.9 980.3 137.4 988.9C141.9 997.5 149 1008.9 150 1017.5C150.9 1026.1 148.1 1032.8 143.1 1040.4C138.1 1048 128.5 1058.1 120.2 1063.3C111.9 1068.6 97.8 1070.5 93.3 1071.9" fill="none" stroke="#000" stroke-width="5" stroke-linejoin="round" stroke-linecap="round"/>
<path d="M842.6 850.4C841.4 858.2 838.3 881.9 835.7 897.3C833.1 912.8 829 930.7 827.1 943.1C825.2 955.5 827.6 963.6 824.3 971.7C820.9 979.8 809 986 807.1 991.8C805.2 997.5 808.1 1001.8 812.8 1006.1C817.6 1010.4 830 1014.2 835.7 1017.5C841.4 1020.9 849.1 1022.8 847.2 1026.1C845.3 1029.4 833.8 1033.7 824.3 1037.6C814.7 1041.4 799.5 1044.7 789.9 1049C780.4 1053.3 770.4 1058.1 767 1063.3C763.7 1068.6 766.1 1075.9 769.9 1080.5C773.7 1085.1 780.9 1088.6 789.9 1090.8C799 1093 812.5 1093.3 824.3 1093.6C836 1094 854.3 1093.2 860.3 1093.1" fill="none" stroke="#000" stroke-width="5" stroke-linejoin="round" stroke-linecap="round"/>
<path d="M738.4 855.5C740 854.3 745.3 853.1 747 854.4C748.7 855.6 749.5 861 748.7 863C747.9 865 744.3 866.6 742.4 866.4C740.5 866.2 737.9 863.6 737.3 861.8C736.6 860 736.8 856.8 738.4 855.5Z" fill="none" stroke="#000" stroke-width="5" stroke-linejoin="round" stroke-linecap="round"/>
<path d="M751 915.6C752.5 913.4 758.6 912 761.3 912.8C764 913.5 767 917.6 767 920.2C767 922.8 763.8 927.3 761.3 928.2C758.8 929.2 753.9 928 752.1 925.9C750.4 923.8 749.5 917.8 751 915.6Z" fill="none" stroke="#000" stroke-width="5" stroke-linejoin="round" stroke-linecap="round"/>
<path d="M88.3 650.4 L93.8 524.9 L94.3 590 L94.8 628 L95.3 655 L95.8 676 L96.3 693.1 L96.8 707.6 L97.3 720.1 L97.8 731.2 L98.3 741.1 L98.8 750 L99.3 758.2 L99.8 765.7 L100.3 772.9 L100.9 780.1 L101.5 787.4 L102.1 794.6 L102.9 801.8 L103.6 809 L104.4 816.3 L105.3 823.5 L106.3 830.7 L107.3 837.9 L108.5 845.2 L109.7 852.4 L111 859.6 L112.4 866.8 L113.9 874 L115.6 881.3 L117.4 888.5 L119.3 895.7 L121.4 902.9 L123.6 910.2 L126 917.4 L128.6 924.6 L131.5 931.8 L134.5 939.1 L137.8 946.3 L141.4 953.5 L145.2 960.7 L149.4 968 L153.9 975.2 L158.7 982.4 L163.9 989.6 L169.6 996.9 L175.6 1004 L181.6 1010.6 L187.6 1016.7 L193.6 1022.5 L199.6 1028 L205.6 1033.1 L211.6 1038 L217.6 1042.7 L223.6 1047.1 L229.6 1051.3 L235.6 1055.4 L241.6 1059.2 L247.6 1063 L253.6 1066.5 L259.6 1070 L265.6 1073.3 L271.6 1076.5 L277.6 1079.6 L283.6 1082.7 L289.6 1085.6 L295.6 1088.4 L301.6 1091.1 L307.6 1093.8 L313.6 1096.4 L319.6 1098.9 L325.6 1101.4 L331.6 1103.8 L337.6 1106.1 L343.6 1108.4 L349.6 1110.6 L355.6 1112.8 L361.6 1114.9 L367.6 1117 L373.6 1119 L379.6 1121 L385.6 1122.9 L391.6 1124.8 L397.6 1126.7 L403.6 1128.6 L409.6 1130.3 L415.6 1132.1 L421.6 1133.8 L427.6 1135.5 L433.6 1137.2 L439.6 1138.9 L445.6 1140.5 L451.6 1142.1 L457.6 1143.6 L463.6 1145.1 L469.6 1146.7 L475.6 1148.1 L476.8 1148.4 L478 1148.1 L484 1146.7 L490 1145.1 L496 1143.6 L502 1142.1 L508 1140.5 L514 1138.9 L520 1137.2 L526 1135.5 L532 1133.8 L538 1132.1 L544 1130.3 L550 1128.6 L556 1126.7 L562 1124.8 L568 1122.9 L574 1121 L580 1119 L586 1117 L592 1114.9 L598 1112.8 L604 1110.6 L610 1108.4 L616 1106.1 L622 1103.8 L628 1101.4 L634 1098.9 L640 1096.4 L646 1093.8 L652 1091.1 L658 1088.4 L664 1085.6 L670 1082.7 L676 1079.6 L682 1076.5 L688 1073.3 L694 1070 L700 1066.5 L706 1063 L712 1059.2 L718 1055.4 L724 1051.3 L730 1047.1 L736 1042.7 L742 1038 L748 1033.1 L754 1028 L760 1022.5 L766 1016.7 L772 1010.6 L778 1004 L784 996.9 L789.7 989.6 L794.9 982.4 L799.8 975.2 L804.3 968 L808.4 960.7 L812.3 953.5 L815.8 946.3 L819.1 939.1 L822.2 931.8 L825 924.6 L827.6 917.4 L830 910.2 L832.3 902.9 L834.4 895.7 L836.3 888.5 L838.1 881.3 L839.7 874 L841.2 866.8 L842.7 859.6 L844 852.4 L845.2 845.2 L846.3 837.9 L847.3 830.7 L848.3 823.5 L849.2 816.3 L850 809 L850.8 801.8 L851.5 794.6 L852.1 787.4 L852.8 780.1 L853.3 772.9 L853.8 765.7 L854.3 758.2 L854.8 750 L855.3 741.1 L855.8 731.2 L856.3 720.1 L856.8 707.6 L857.3 693.1 L857.8 676 L858.3 655 L858.8 628 L859.3 590 L859.8 524.9 L865.3 650.4 L865.3 1442.9 L88.3 1442.9Z" fill="#fff" fill-opacity="0.5"/>
<path d="M93.8 524.9 L94.3 590 L94.8 628 L95.3 655 L95.8 676 L96.3 693.1 L96.8 707.6 L97.3 720.1 L97.8 731.2 L98.3 741.1 L98.8 750 L99.3 758.2 L99.8 765.7 L100.3 772.9 L100.9 780.1 L101.5 787.4 L102.1 794.6 L102.9 801.8 L103.6 809 L104.4 816.3 L105.3 823.5 L106.3 830.7 L107.3 837.9 L108.5 845.2 L109.7 852.4 L111 859.6 L112.4 866.8 L113.9 874 L115.6 881.3 L117.4 888.5 L119.3 895.7 L121.4 902.9 L123.6 910.2 L126 917.4 L128.6 924.6 L131.5 931.8 L134.5 939.1 L137.8 946.3 L141.4 953.5 L145.2 960.7 L149.4 968 L153.9 975.2 L158.7 982.4 L163.9 989.6 L169.6 996.9 L175.6 1004 L181.6 1010.6 L187.6 1016.7 L193.6 1022.5 L199.6 1028 L205.6 1033.1 L211.6 1038 L217.6 1042.7 L223.6 1047.1 L229.6 1051.3 L235.6 1055.4 L241.6 1059.2 L247.6 1063 L253.6 1066.5 L259.6 1070 L265.6 1073.3 L271.6 1076.5 L277.6 1079.6 L283.6 1082.7 L289.6 1085.6 L295.6 1088.4 L301.6 1091.1 L307.6 1093.8 L313.6 1096.4 L319.6 1098.9 L325.6 1101.4 L331.6 1103.8 L337.6 1106.1 L343.6 1108.4 L349.6 1110.6 L355.6 1112.8 L361.6 1114.9 L367.6 1117 L373.6 1119 L379.6 1121 L385.6 1122.9 L391.6 1124.8 L397.6 1126.7 L403.6 1128.6 L409.6 1130.3 L415.6 1132.1 L421.6 1133.8 L427.6 1135.5 L433.6 1137.2 L439.6 1138.9 L445.6 1140.5 L451.6 1142.1 L457.6 1143.6 L463.6 1145.1 L469.6 1146.7 L475.6 1148.1 L476.8 1148.4 L478 1148.1 L484 1146.7 L490 1145.1 L496 1143.6 L502 1142.1 L508 1140.5 L514 1138.9 L520 1137.2 L526 1135.5 L532 1133.8 L538 1132.1 L544 1130.3 L550 1128.6 L556 1126.7 L562 1124.8 L568 1122.9 L574 1121 L580 1119 L586 1117 L592 1114.9 L598 1112.8 L604 1110.6 L610 1108.4 L616 1106.1 L622 1103.8 L628 1101.4 L634 1098.9 L640 1096.4 L646 1093.8 L652 1091.1 L658 1088.4 L664 1085.6 L670 1082.7 L676 1079.6 L682 1076.5 L688 1073.3 L694 1070 L700 1066.5 L706 1063 L712 1059.2 L718 1055.4 L724 1051.3 L730 1047.1 L736 1042.7 L742 1038 L748 1033.1 L754 1028 L760 1022.5 L766 1016.7 L772 1010.6 L778 1004 L784 996.9 L789.7 989.6 L794.9 982.4 L799.8 975.2 L804.3 968 L808.4 960.7 L812.3 953.5 L815.8 946.3 L819.1 939.1 L822.2 931.8 L825 924.6 L827.6 917.4 L830 910.2 L832.3 902.9 L834.4 895.7 L836.3 888.5 L838.1 881.3 L839.7 874 L841.2 866.8 L842.7 859.6 L844 852.4 L845.2 845.2 L846.3 837.9 L847.3 830.7 L848.3 823.5 L849.2 816.3 L850 809 L850.8 801.8 L851.5 794.6 L852.1 787.4 L852.8 780.1 L853.3 772.9 L853.8 765.7 L854.3 758.2 L854.8 750 L855.3 741.1 L855.8 731.2 L856.3 720.1 L856.8 707.6 L857.3 693.1 L857.8 676 L858.3 655 L858.8 628 L859.3 590 L859.8 524.9" fill="none" stroke="#000" stroke-width="1.3"/>
</g>
<path d="M93.3 850.4H860.3V1142.9H93.3ZM172.9 850.4v7.5 M172.9 1142.9v-7.5M311.7 850.4v7.5 M311.7 1142.9v-7.5M450.5 850.4v7.5 M450.5 1142.9v-7.5M589.3 850.4v7.5 M589.3 1142.9v-7.5M728.1 850.4v7.5 M728.1 1142.9v-7.5M93.3 885.9h7.5 M860.3 885.9h-7.5M93.3 950.9h7.5 M860.3 950.9h-7.5M93.3 1016h7.5 M860.3 1016h-7.5M93.3 1081.1h7.5 M860.3 1081.1h-7.5" fill="none" stroke="#262626" stroke-width="1.4"/>
<text x="172.9" y="1176.1" font-size="24" text-anchor="middle" fill="#262626">2012</text>
<text x="311.7" y="1176.1" font-size="24" text-anchor="middle" fill="#262626">2014</text>
<text x="450.5" y="1176.1" font-size="24" text-anchor="middle" fill="#262626">2016</text>
<text x="589.3" y="1176.1" font-size="24" text-anchor="middle" fill="#262626">2018</text>
<text x="728.1" y="1176.1" font-size="24" text-anchor="middle" fill="#262626">2020</text>
<text x="84.9" y="894.5" font-size="24.8" text-anchor="end" fill="#262626">0.25</text>
<text x="84.9" y="959.5" font-size="24.8" text-anchor="end" fill="#262626">0.5</text>
<text x="84.9" y="1024.6" font-size="24.8" text-anchor="end" fill="#262626">1</text>
<text x="84.9" y="1089.7" font-size="24.8" text-anchor="end" fill="#262626">2</text>
<text transform="translate(23.3 995.8) rotate(-90)" font-size="26.9" text-anchor="middle" fill="#262626">Period</text>
<text x="476.8" y="841.2" font-size="26.8" font-weight="bold" text-anchor="middle" fill="#000">Clubs (Germany)</text>
<rect x="884.4" y="849.2" width="41.8" height="293.6" fill="url(#pg)" stroke="#262626" stroke-width="1.2"/>
<text x="944.7" y="857.8" font-size="20.7" fill="#262626">8</text>
<text x="944.7" y="907" font-size="20.7" fill="#262626">4</text>
<text x="944.7" y="956.2" font-size="20.7" fill="#262626">2</text>
<text x="944.7" y="1004.9" font-size="20.7" fill="#262626">1</text>
<text x="939" y="1054.1" font-size="20.7" fill="#262626">1/2</text>
<text x="939" y="1103.3" font-size="20.7" fill="#262626">1/4</text>
<text x="939" y="1152" font-size="20.7" fill="#262626">1/8</text>
<path d="M926.2 850.4h-4M926.2 899.6h-4M926.2 948.8h-4M926.2 997.5h-4M926.2 1046.7h-4M926.2 1095.9h-4" fill="none" stroke="#262626" stroke-width="1.2"/>
<defs>
<clipPath id="c6"><rect x="1119.1" y="851.5" width="767" height="291.4"/></clipPath>
<filter id="p6b2_9" filterUnits="userSpaceOnUse" x="1059.1" y="791.5" width="887" height="411.4" color-interpolation-filters="sRGB"><feGaussianBlur stdDeviation="2.9"/></filter>
<filter id="p6b3_4" filterUnits="userSpaceOnUse" x="1059.1" y="791.5" width="887" height="411.4" color-interpolation-filters="sRGB"><feGaussianBlur stdDeviation="3.4"/></filter>
<filter id="p6b4_0" filterUnits="userSpaceOnUse" x="1059.1" y="791.5" width="887" height="411.4" color-interpolation-filters="sRGB"><feGaussianBlur stdDeviation="4"/></filter>
<filter id="p6b4_6" filterUnits="userSpaceOnUse" x="1059.1" y="791.5" width="887" height="411.4" color-interpolation-filters="sRGB"><feGaussianBlur stdDeviation="4.6"/></filter>
<filter id="p6b5_7" filterUnits="userSpaceOnUse" x="1059.1" y="791.5" width="887" height="411.4" color-interpolation-filters="sRGB"><feGaussianBlur stdDeviation="5.7"/></filter>
<filter id="p6b6_9" filterUnits="userSpaceOnUse" x="1059.1" y="791.5" width="887" height="411.4" color-interpolation-filters="sRGB"><feGaussianBlur stdDeviation="6.9"/></filter>
<filter id="p6b8_0" filterUnits="userSpaceOnUse" x="1059.1" y="791.5" width="887" height="411.4" color-interpolation-filters="sRGB"><feGaussianBlur stdDeviation="8"/></filter>
<filter id="p6b9_2" filterUnits="userSpaceOnUse" x="1059.1" y="791.5" width="887" height="411.4" color-interpolation-filters="sRGB"><feGaussianBlur stdDeviation="9.2"/></filter>
</defs>
<g clip-path="url(#c6)">
<g filter="url(#pm)">
<rect x="1059.1" y="791.5" width="887" height="411.4" fill="#000000"/>
<g filter="url(#p6b5_7)"><path d="M1114.5 983.2 L1188.9 988.9 L1240.4 1040.4 L1297.7 1074.8 L1400.7 1120.5 L1486.5 1149.2 L1486.5 1154.9 L1114.5 1154.9Z" fill="#595959"/></g>
<g filter="url(#p6b5_7)"><path d="M1114.5 1057.6 L1257.6 1060.4 L1320.5 1091.9 L1366.3 1120.5 L1114.5 1120.5Z" fill="#787878"/></g>
<g filter="url(#p6b3_4)"><ellipse cx="1194.6" cy="1049" rx="51.5" ry="5.7" fill="#0f0f0f"/></g>
<g filter="url(#p6b4_6)"><ellipse cx="1143.1" cy="1132" rx="34.3" ry="11.4" fill="#141414"/></g>
<g filter="url(#p6b3_4)"><path d="M1297.7 1132 L1486.5 1134.9 L1486.5 1154.9 L1297.7 1154.9Z" fill="#cccccc"/></g>
<g filter="url(#p6b4_0)"><ellipse cx="1163.1" cy="880.1" rx="6.9" ry="10.3" fill="#242424"/></g>
<g filter="url(#p6b4_0)"><ellipse cx="1377.8" cy="868.7" rx="8.6" ry="17.2" fill="#242424"/></g>
<g filter="url(#p6b4_0)"><ellipse cx="1589.6" cy="885.9" rx="10.3" ry="20" fill="#242424" transform="rotate(-20 1589.6 885.9)"/></g>
<g filter="url(#p6b4_0)"><ellipse cx="1621.1" cy="923.1" rx="14.3" ry="6.9" fill="#242424" transform="rotate(30 1621.1 923.1)"/></g>
<g filter="url(#p6b4_0)"><ellipse cx="1475.1" cy="967.1" rx="51.5" ry="6.9" fill="#242424"/></g>
<g filter="url(#p6b4_0)"><ellipse cx="1246.1" cy="988.9" rx="17.2" ry="6.9" fill="#242424"/></g>
<g filter="url(#p6b5_7)"><path d="M1188.9 991.8 L1297.7 988.9 L1309.1 1029 L1366.3 1051.9 L1274.8 1057.6 L1229 1040.4Z" fill="#333333"/></g>
<g filter="url(#p6b6_9)"><path d="M1274.8 1057.6 L1400.7 1060.4 L1572.4 1063.3 L1629.7 1029 L1675.4 983.2 L1721.2 988.9 L1721.2 1057.6 L1629.7 1086.2 L1572.4 1080.5 L1343.4 1080.5Z" fill="#6b6b6b"/></g>
<g filter="url(#p6b9_2)"><path d="M1543.8 1080.5 L1601 1066.2 L1658.3 1034.7 L1715.5 994.6 L1732.7 1051.9 L1686.9 1086.2 L1601 1103.4Z" fill="#999999"/></g>
<g filter="url(#p6b8_0)"><ellipse cx="1698.3" cy="1054.7" rx="28.6" ry="22.9" fill="#c7c7c7"/></g>
<g filter="url(#p6b4_6)"><ellipse cx="1475.1" cy="1094.8" rx="97.3" ry="11.4" fill="#0a0a0a"/></g>
<g filter="url(#p6b4_6)"><path d="M1389.2 1113.7 L1601 1113.7 L1543.8 1149.2 L1457.9 1149.2Z" fill="#808080"/></g>
<g filter="url(#p6b4_6)"><ellipse cx="1492.3" cy="1138.9" rx="57.2" ry="9.2" fill="#d9d9d9"/></g>
<g filter="url(#p6b4_6)"><path d="M1771.6 850.4C1766.8 850.8 1760.6 865.6 1755.6 871.6C1750.5 877.5 1744.6 879.7 1741.3 885.9C1737.9 892.1 1737.9 900.2 1735.5 908.8C1733.2 917.3 1729.2 929.7 1727 937.4C1724.8 945 1722.2 948.8 1722.4 954.6C1722.6 960.3 1727.8 966 1728.1 971.7C1728.4 977.4 1723.8 983.2 1724.1 988.9C1724.4 994.6 1730.1 1000.3 1729.8 1006.1C1729.5 1011.8 1724.3 1018.5 1722.4 1023.2C1720.5 1028 1717.6 1030.9 1718.4 1034.7C1719.1 1038.5 1722.7 1043.3 1727 1046.1C1731.3 1049 1736.5 1051.9 1744.1 1051.9C1751.8 1051.9 1761.3 1055.2 1772.8 1046.1C1784.2 1037.1 1804.7 1008.5 1812.8 997.5C1820.9 986.5 1822.4 985.6 1821.4 980.3C1820.5 975.1 1810 970.8 1807.1 966C1804.2 961.2 1803.8 956.9 1804.2 951.7C1804.7 946.4 1810 940.7 1810 934.5C1810 928.3 1806.6 921.6 1804.2 914.5C1801.9 907.3 1799 899.2 1795.6 891.6C1792.3 884 1788.2 875.6 1784.2 868.7C1780.2 861.8 1776.4 849.9 1771.6 850.4Z" fill="#808080"/></g>
<g filter="url(#p6b5_7)"><path d="M1769.9 880.1C1761.8 880.1 1752.7 899.2 1747 914.5C1741.3 929.7 1738.9 952.6 1735.5 971.7C1732.2 990.8 1723.6 1016.1 1727 1029C1730.3 1041.8 1743.2 1050.9 1755.6 1049C1768 1047.1 1792.8 1030.4 1801.4 1017.5C1810 1004.6 1808.1 988.9 1807.1 971.7C1806.1 954.6 1801.9 929.7 1795.6 914.5C1789.4 899.2 1778 880.1 1769.9 880.1Z" fill="#adadad"/></g>
<g filter="url(#p6b6_9)"><path d="M1769.9 897.3C1763.2 898.3 1755.1 917.3 1749.9 931.7C1744.6 946 1741.3 966 1738.4 983.2C1735.5 1000.3 1729.8 1024.2 1732.7 1034.7C1735.5 1045.2 1745.1 1049 1755.6 1046.1C1766.1 1043.3 1788.5 1029.9 1795.6 1017.5C1802.8 1005.1 1799.5 987 1798.5 971.7C1797.6 956.5 1794.7 938.3 1789.9 925.9C1785.2 913.5 1776.6 896.4 1769.9 897.3Z" fill="#c7c7c7"/></g>
<g filter="url(#p6b6_9)"><ellipse cx="1767" cy="937.4" rx="20" ry="34.3" fill="#dbdbdb"/></g>
<g filter="url(#p6b6_9)"><ellipse cx="1755.6" cy="1026.1" rx="31.5" ry="21.8" fill="#dbdbdb"/></g>
<g filter="url(#p6b5_7)"><path d="M1830 954.6 L1893 954.6 L1893 994.6 L1824.3 994.6Z" fill="#595959"/></g>
<g filter="url(#p6b8_0)"><path d="M1715.5 1060.4 L1801.4 1046.1 L1893 1046.1 L1893 1120.5 L1629.7 1120.5Z" fill="#b2b2b2"/></g>
<g filter="url(#p6b5_7)"><path d="M1744.1 1051.9 L1801.4 1011.8 L1870.1 1023.2 L1875.8 1051.9 L1801.4 1060.4Z" fill="#e0e0e0"/></g>
<g filter="url(#p6b5_7)"><path d="M1686.9 1086.2 L1801.4 1063.3 L1893 1063.3 L1893 1109.1 L1629.7 1112Z" fill="#999999"/></g>
<g filter="url(#p6b5_7)"><path d="M1572.4 1120.5 L1686.9 1109.1 L1893 1109.1 L1893 1154.9 L1515.2 1154.9Z" fill="#d9d9d9"/></g>
<g filter="url(#p6b2_9)"><ellipse cx="1870.1" cy="999.2" rx="17.2" ry="4.6" fill="#0d0d0d"/></g>
</g>
<path d="M1771.6 850.4C1766.8 850.8 1760.6 865.6 1755.6 871.6C1750.5 877.5 1744.6 879.7 1741.3 885.9C1737.9 892.1 1737.9 900.2 1735.5 908.8C1733.2 917.3 1729.2 929.7 1727 937.4C1724.8 945 1722.2 948.8 1722.4 954.6C1722.6 960.3 1727.8 966 1728.1 971.7C1728.4 977.4 1723.8 983.2 1724.1 988.9C1724.4 994.6 1730.1 1000.3 1729.8 1006.1C1729.5 1011.8 1724.3 1018.5 1722.4 1023.2C1720.5 1028 1717.6 1030.9 1718.4 1034.7C1719.1 1038.5 1722.7 1043.3 1727 1046.1C1731.3 1049 1731.7 1050.2 1744.1 1051.9C1756.5 1053.5 1784.2 1056.3 1801.4 1055.9C1818.5 1055.4 1836.5 1052.3 1847.2 1049C1857.9 1045.7 1864.5 1040.1 1865.5 1035.8C1866.4 1031.5 1859.8 1027.7 1852.9 1023.2C1846 1018.8 1830.9 1013.2 1824.3 1008.9C1817.6 1004.6 1813.3 1002.3 1812.8 997.5C1812.3 992.7 1822.4 985.6 1821.4 980.3C1820.5 975.1 1810 970.8 1807.1 966C1804.2 961.2 1803.8 956.9 1804.2 951.7C1804.7 946.4 1810 940.7 1810 934.5C1810 928.3 1806.6 921.6 1804.2 914.5C1801.9 907.3 1799 899.2 1795.6 891.6C1792.3 884 1788.2 875.6 1784.2 868.7C1780.2 861.8 1776.4 849.9 1771.6 850.4Z" fill="none" stroke="#000" stroke-width="5" stroke-linejoin="round" stroke-linecap="round"/>
<path d="M1114.1 651.5 L1119.6 524.9 L1120.1 590 L1120.6 628 L1121.1 655 L1121.6 676 L1122.1 693.1 L1122.6 707.6 L1123.1 720.1 L1123.6 731.2 L1124.1 741.1 L1124.6 750 L1125.1 758.2 L1125.6 765.7 L1126.1 772.9 L1126.6 780.1 L1127.2 787.4 L1127.9 794.6 L1128.6 801.8 L1129.4 809 L1130.2 816.3 L1131.1 823.5 L1132.1 830.7 L1133.1 837.9 L1134.2 845.2 L1135.4 852.4 L1136.7 859.6 L1138.2 866.8 L1139.7 874 L1141.3 881.3 L1143.1 888.5 L1145 895.7 L1147.1 902.9 L1149.4 910.2 L1151.8 917.4 L1154.4 924.6 L1157.2 931.8 L1160.3 939.1 L1163.6 946.3 L1167.1 953.5 L1171 960.7 L1175.1 968 L1179.6 975.2 L1184.5 982.4 L1189.7 989.6 L1195.4 996.9 L1201.4 1004 L1207.4 1010.6 L1213.4 1016.7 L1219.4 1022.5 L1225.4 1028 L1231.4 1033.1 L1237.4 1038 L1243.4 1042.7 L1249.4 1047.1 L1255.4 1051.3 L1261.4 1055.4 L1267.4 1059.2 L1273.4 1063 L1279.4 1066.5 L1285.4 1070 L1291.4 1073.3 L1297.4 1076.5 L1303.4 1079.6 L1309.4 1082.7 L1315.4 1085.6 L1321.4 1088.4 L1327.4 1091.1 L1333.4 1093.8 L1339.4 1096.4 L1345.4 1098.9 L1351.4 1101.4 L1357.4 1103.8 L1363.4 1106.1 L1369.4 1108.4 L1375.4 1110.6 L1381.4 1112.8 L1387.4 1114.9 L1393.4 1117 L1399.4 1119 L1405.4 1121 L1411.4 1122.9 L1417.4 1124.8 L1423.4 1126.7 L1429.4 1128.6 L1435.4 1130.3 L1441.4 1132.1 L1447.4 1133.8 L1453.4 1135.5 L1459.4 1137.2 L1465.4 1138.9 L1471.4 1140.5 L1477.4 1142.1 L1483.4 1143.6 L1489.4 1145.1 L1495.4 1146.7 L1501.4 1148.1 L1502.6 1148.4 L1503.8 1148.1 L1509.8 1146.7 L1515.8 1145.1 L1521.8 1143.6 L1527.8 1142.1 L1533.8 1140.5 L1539.8 1138.9 L1545.8 1137.2 L1551.8 1135.5 L1557.8 1133.8 L1563.8 1132.1 L1569.8 1130.3 L1575.8 1128.6 L1581.8 1126.7 L1587.8 1124.8 L1593.8 1122.9 L1599.8 1121 L1605.8 1119 L1611.8 1117 L1617.8 1114.9 L1623.8 1112.8 L1629.8 1110.6 L1635.8 1108.4 L1641.8 1106.1 L1647.8 1103.8 L1653.8 1101.4 L1659.8 1098.9 L1665.8 1096.4 L1671.8 1093.8 L1677.8 1091.1 L1683.8 1088.4 L1689.8 1085.6 L1695.8 1082.7 L1701.8 1079.6 L1707.8 1076.5 L1713.8 1073.3 L1719.8 1070 L1725.8 1066.5 L1731.8 1063 L1737.8 1059.2 L1743.8 1055.4 L1749.8 1051.3 L1755.8 1047.1 L1761.8 1042.7 L1767.8 1038 L1773.8 1033.1 L1779.8 1028 L1785.8 1022.5 L1791.8 1016.7 L1797.8 1010.6 L1803.8 1004 L1809.8 996.9 L1815.5 989.6 L1820.7 982.4 L1825.5 975.2 L1830 968 L1834.2 960.7 L1838 953.5 L1841.6 946.3 L1844.9 939.1 L1847.9 931.8 L1850.8 924.6 L1853.4 917.4 L1855.8 910.2 L1858 902.9 L1860.1 895.7 L1862 888.5 L1863.8 881.3 L1865.5 874 L1867 866.8 L1868.4 859.6 L1869.7 852.4 L1870.9 845.2 L1872.1 837.9 L1873.1 830.7 L1874.1 823.5 L1875 816.3 L1875.8 809 L1876.5 801.8 L1877.2 794.6 L1877.9 787.4 L1878.5 780.1 L1879.1 772.9 L1879.6 765.7 L1880.1 758.2 L1880.6 750 L1881.1 741.1 L1881.6 731.2 L1882.1 720.1 L1882.6 707.6 L1883.1 693.1 L1883.6 676 L1884.1 655 L1884.6 628 L1885.1 590 L1885.6 524.9 L1891.1 651.5 L1891.1 1442.9 L1114.1 1442.9Z" fill="#fff" fill-opacity="0.5"/>
<path d="M1119.6 524.9 L1120.1 590 L1120.6 628 L1121.1 655 L1121.6 676 L1122.1 693.1 L1122.6 707.6 L1123.1 720.1 L1123.6 731.2 L1124.1 741.1 L1124.6 750 L1125.1 758.2 L1125.6 765.7 L1126.1 772.9 L1126.6 780.1 L1127.2 787.4 L1127.9 794.6 L1128.6 801.8 L1129.4 809 L1130.2 816.3 L1131.1 823.5 L1132.1 830.7 L1133.1 837.9 L1134.2 845.2 L1135.4 852.4 L1136.7 859.6 L1138.2 866.8 L1139.7 874 L1141.3 881.3 L1143.1 888.5 L1145 895.7 L1147.1 902.9 L1149.4 910.2 L1151.8 917.4 L1154.4 924.6 L1157.2 931.8 L1160.3 939.1 L1163.6 946.3 L1167.1 953.5 L1171 960.7 L1175.1 968 L1179.6 975.2 L1184.5 982.4 L1189.7 989.6 L1195.4 996.9 L1201.4 1004 L1207.4 1010.6 L1213.4 1016.7 L1219.4 1022.5 L1225.4 1028 L1231.4 1033.1 L1237.4 1038 L1243.4 1042.7 L1249.4 1047.1 L1255.4 1051.3 L1261.4 1055.4 L1267.4 1059.2 L1273.4 1063 L1279.4 1066.5 L1285.4 1070 L1291.4 1073.3 L1297.4 1076.5 L1303.4 1079.6 L1309.4 1082.7 L1315.4 1085.6 L1321.4 1088.4 L1327.4 1091.1 L1333.4 1093.8 L1339.4 1096.4 L1345.4 1098.9 L1351.4 1101.4 L1357.4 1103.8 L1363.4 1106.1 L1369.4 1108.4 L1375.4 1110.6 L1381.4 1112.8 L1387.4 1114.9 L1393.4 1117 L1399.4 1119 L1405.4 1121 L1411.4 1122.9 L1417.4 1124.8 L1423.4 1126.7 L1429.4 1128.6 L1435.4 1130.3 L1441.4 1132.1 L1447.4 1133.8 L1453.4 1135.5 L1459.4 1137.2 L1465.4 1138.9 L1471.4 1140.5 L1477.4 1142.1 L1483.4 1143.6 L1489.4 1145.1 L1495.4 1146.7 L1501.4 1148.1 L1502.6 1148.4 L1503.8 1148.1 L1509.8 1146.7 L1515.8 1145.1 L1521.8 1143.6 L1527.8 1142.1 L1533.8 1140.5 L1539.8 1138.9 L1545.8 1137.2 L1551.8 1135.5 L1557.8 1133.8 L1563.8 1132.1 L1569.8 1130.3 L1575.8 1128.6 L1581.8 1126.7 L1587.8 1124.8 L1593.8 1122.9 L1599.8 1121 L1605.8 1119 L1611.8 1117 L1617.8 1114.9 L1623.8 1112.8 L1629.8 1110.6 L1635.8 1108.4 L1641.8 1106.1 L1647.8 1103.8 L1653.8 1101.4 L1659.8 1098.9 L1665.8 1096.4 L1671.8 1093.8 L1677.8 1091.1 L1683.8 1088.4 L1689.8 1085.6 L1695.8 1082.7 L1701.8 1079.6 L1707.8 1076.5 L1713.8 1073.3 L1719.8 1070 L1725.8 1066.5 L1731.8 1063 L1737.8 1059.2 L1743.8 1055.4 L1749.8 1051.3 L1755.8 1047.1 L1761.8 1042.7 L1767.8 1038 L1773.8 1033.1 L1779.8 1028 L1785.8 1022.5 L1791.8 1016.7 L1797.8 1010.6 L1803.8 1004 L1809.8 996.9 L1815.5 989.6 L1820.7 982.4 L1825.5 975.2 L1830 968 L1834.2 960.7 L1838 953.5 L1841.6 946.3 L1844.9 939.1 L1847.9 931.8 L1850.8 924.6 L1853.4 917.4 L1855.8 910.2 L1858 902.9 L1860.1 895.7 L1862 888.5 L1863.8 881.3 L1865.5 874 L1867 866.8 L1868.4 859.6 L1869.7 852.4 L1870.9 845.2 L1872.1 837.9 L1873.1 830.7 L1874.1 823.5 L1875 816.3 L1875.8 809 L1876.5 801.8 L1877.2 794.6 L1877.9 787.4 L1878.5 780.1 L1879.1 772.9 L1879.6 765.7 L1880.1 758.2 L1880.6 750 L1881.1 741.1 L1881.6 731.2 L1882.1 720.1 L1882.6 707.6 L1883.1 693.1 L1883.6 676 L1884.1 655 L1884.6 628 L1885.1 590 L1885.6 524.9" fill="none" stroke="#000" stroke-width="1.3"/>
</g>
<path d="M1119.1 851.5H1886.1V1142.9H1119.1ZM1198.6 851.5v7.5 M1198.6 1142.9v-7.5M1337.4 851.5v7.5 M1337.4 1142.9v-7.5M1476.2 851.5v7.5 M1476.2 1142.9v-7.5M1615.1 851.5v7.5 M1615.1 1142.9v-7.5M1753.9 851.5v7.5 M1753.9 1142.9v-7.5M1119.1 885.9h7.5 M1886.1 885.9h-7.5M1119.1 950.9h7.5 M1886.1 950.9h-7.5M1119.1 1016h7.5 M1886.1 1016h-7.5M1119.1 1081.1h7.5 M1886.1 1081.1h-7.5" fill="none" stroke="#262626" stroke-width="1.4"/>
<text x="1198.6" y="1176.1" font-size="24" text-anchor="middle" fill="#262626">2012</text>
<text x="1337.4" y="1176.1" font-size="24" text-anchor="middle" fill="#262626">2014</text>
<text x="1476.2" y="1176.1" font-size="24" text-anchor="middle" fill="#262626">2016</text>
<text x="1615.1" y="1176.1" font-size="24" text-anchor="middle" fill="#262626">2018</text>
<text x="1753.9" y="1176.1" font-size="24" text-anchor="middle" fill="#262626">2020</text>
<text x="1108.9" y="894.5" font-size="24.8" text-anchor="end" fill="#262626">0.25</text>
<text x="1108.9" y="959.5" font-size="24.8" text-anchor="end" fill="#262626">0.5</text>
<text x="1108.9" y="1024.6" font-size="24.8" text-anchor="end" fill="#262626">1</text>
<text x="1108.9" y="1089.7" font-size="24.8" text-anchor="end" fill="#262626">2</text>
<text transform="translate(1049 995.8) rotate(-90)" font-size="26.9" text-anchor="middle" fill="#262626">Period</text>
<text x="1502" y="841.2" font-size="26.8" font-weight="bold" text-anchor="middle" fill="#000">Industrial Production (Germany)</text>
<rect x="1910.1" y="850.4" width="41.8" height="292.5" fill="url(#pg)" stroke="#262626" stroke-width="1.2"/>
<text x="1970.4" y="889.3" font-size="20.7" fill="#262626">8</text>
<text x="1970.4" y="928.2" font-size="20.7" fill="#262626">4</text>
<text x="1970.4" y="967.1" font-size="20.7" fill="#262626">2</text>
<text x="1970.4" y="1006" font-size="20.7" fill="#262626">1</text>
<text x="1964.7" y="1045" font-size="20.7" fill="#262626">1/2</text>
<text x="1964.7" y="1084.4" font-size="20.7" fill="#262626">1/4</text>
<text x="1964.7" y="1123.4" font-size="20.7" fill="#262626">1/8</text>
<path d="M1951.9 881.9h-4M1951.9 920.8h-4M1951.9 959.7h-4M1951.9 998.6h-4M1951.9 1037.6h-4M1951.9 1077h-4M1951.9 1116h-4" fill="none" stroke="#262626" stroke-width="1.2"/>
<defs>
<clipPath id="c7"><rect x="135.1" y="1255" width="776.8" height="299.4"/></clipPath>
<filter id="p7b2_3" filterUnits="userSpaceOnUse" x="75.1" y="1195" width="896.8" height="419.4" color-interpolation-filters="sRGB"><feGaussianBlur stdDeviation="2.3"/></filter>
<filter id="p7b2_9" filterUnits="userSpaceOnUse" x="75.1" y="1195" width="896.8" height="419.4" color-interpolation-filters="sRGB"><feGaussianBlur stdDeviation="2.9"/></filter>
<filter id="p7b3_4" filterUnits="userSpaceOnUse" x="75.1" y="1195" width="896.8" height="419.4" color-interpolation-filters="sRGB"><feGaussianBlur stdDeviation="3.4"/></filter>
<filter id="p7b4_6" filterUnits="userSpaceOnUse" x="75.1" y="1195" width="896.8" height="419.4" color-interpolation-filters="sRGB"><feGaussianBlur stdDeviation="4.6"/></filter>
<filter id="p7b5_7" filterUnits="userSpaceOnUse" x="75.1" y="1195" width="896.8" height="419.4" color-interpolation-filters="sRGB"><feGaussianBlur stdDeviation="5.7"/></filter>
<filter id="p7b6_9" filterUnits="userSpaceOnUse" x="75.1" y="1195" width="896.8" height="419.4" color-interpolation-filters="sRGB"><feGaussianBlur stdDeviation="6.9"/></filter>
</defs>
<g clip-path="url(#c7)">
<g filter="url(#pm)">
<rect x="75.1" y="1195" width="896.8" height="419.4" fill="#000000"/>
<g filter="url(#p7b6_9)"><path d="M130.5 1469 L286.2 1471.9 L343.4 1497.7 L400.7 1520.5 L503.7 1554.9 L503.7 1566.3 L130.5 1566.3Z" fill="#4c4c4c"/></g>
<g filter="url(#p7b5_7)"><path d="M130.5 1514.8 L372.1 1517.7 L503.7 1566.3 L130.5 1566.3Z" fill="#757575"/></g>
<g filter="url(#p7b3_4)"><ellipse cx="303.4" cy="1504.5" rx="51.5" ry="6.9" fill="#0d0d0d"/></g>
<g filter="url(#p7b3_4)"><ellipse cx="389.2" cy="1533.7" rx="45.8" ry="4.6" fill="#0d0d0d"/></g>
<g filter="url(#p7b6_9)"><path d="M915.9 1366 L870.1 1371.7 L835.7 1417.5 L789.9 1457.6 L715.5 1497.7 L629.7 1526.3 L543.8 1566.3 L915.9 1566.3Z" fill="#4c4c4c"/></g>
<g filter="url(#p7b6_9)"><path d="M915.9 1451.9 L812.8 1457.6 L767 1474.8 L744.1 1503.4 L915.9 1503.4Z" fill="#8c8c8c"/></g>
<g filter="url(#p7b5_7)"><path d="M915.9 1503.4 L715.5 1506.2 L629.7 1537.7 L915.9 1543.4Z" fill="#737373"/></g>
<g filter="url(#p7b4_6)"><ellipse cx="858.6" cy="1429" rx="22.9" ry="10.3" fill="#0f0f0f"/></g>
<g filter="url(#p7b3_4)"><ellipse cx="629.7" cy="1423.2" rx="45.8" ry="5.7" fill="#1f1f1f"/></g>
<g filter="url(#p7b2_9)"><ellipse cx="417.9" cy="1483.3" rx="97.3" ry="3.4" fill="#1f1f1f"/></g>
<g filter="url(#p7b3_4)"><ellipse cx="715.5" cy="1469" rx="42.9" ry="8" fill="#404040" transform="rotate(-5 715.5 1469)"/></g>
<g filter="url(#p7b3_4)"><path d="M400.7 1514.8 L715.5 1512 L658.3 1537.7 L515.2 1546.3 L457.9 1537.7Z" fill="#383838"/></g>
<g filter="url(#p7b3_4)"><ellipse cx="606.8" cy="1520.5" rx="51.5" ry="5.7" fill="#5c5c5c"/></g>
<g filter="url(#p7b2_3)"><ellipse cx="515.2" cy="1550.3" rx="28.6" ry="3.4" fill="#4c4c4c"/></g>
</g>
<path d="M143.1 1255C144.2 1261.1 147.6 1281.7 150 1291.6C152.4 1301.5 157.4 1306.8 157.4 1314.5C157.4 1322.1 149 1329.7 150 1337.4C150.9 1345 160.9 1353.6 163.1 1360.3C165.3 1367 165 1372.2 163.1 1377.4C161.2 1382.7 156.4 1388.7 151.7 1391.8C147 1394.8 137.9 1395.1 135.1 1395.8" fill="none" stroke="#000" stroke-width="5" stroke-linejoin="round" stroke-linecap="round"/>
<path d="M893 1255C891.5 1264.9 887.2 1296.9 884.4 1314.5C881.5 1332 877.7 1348.8 875.8 1360.3C873.9 1371.7 877.7 1377 872.9 1383.2C868.2 1389.4 853.8 1394 847.2 1397.5C840.5 1401 830.9 1401 832.9 1404.4C834.8 1407.7 849.6 1412.9 858.6 1417.5C867.7 1422.1 885.3 1427.1 887.2 1431.8C889.1 1436.6 882.5 1441.4 870.1 1446.1C857.7 1450.9 826 1456.8 812.8 1460.4C799.7 1464.1 793 1464.5 791.1 1467.9C789.2 1471.2 792 1476.3 801.4 1480.5C810.7 1484.7 831.9 1489.7 847.2 1493.1C862.4 1496.4 882.2 1499.3 893 1500.5C903.7 1501.8 908.7 1500.5 911.8 1500.5" fill="none" stroke="#000" stroke-width="5" stroke-linejoin="round" stroke-linecap="round"/>
<path d="M635.4 1257.2C639.5 1256.3 644.6 1261.1 646.8 1265.8C649 1270.6 649.3 1279.2 648.5 1285.9C647.8 1292.5 644.9 1302.1 642.2 1305.9C639.6 1309.7 635.1 1310.7 632.5 1308.8C629.9 1306.8 628.5 1300.6 626.8 1294.4C625.1 1288.2 620.8 1277.8 622.2 1271.6C623.6 1265.4 631.3 1258.2 635.4 1257.2Z" fill="none" stroke="#000" stroke-width="5" stroke-linejoin="round" stroke-linecap="round"/>
<path d="M795.6 1270.4C796.4 1269 801.1 1268.4 802.5 1269.3C803.9 1270.1 805 1274.1 804.2 1275.6C803.5 1277 799.4 1278.7 797.9 1277.8C796.5 1277 794.9 1271.8 795.6 1270.4Z" fill="none" stroke="#000" stroke-width="5" stroke-linejoin="round" stroke-linecap="round"/>
<path d="M130.1 1055 L135.6 918.8 L136.1 985.6 L136.6 1024.6 L137.1 1052.4 L137.6 1073.9 L138.1 1091.4 L138.6 1106.3 L139.1 1119.1 L139.6 1130.5 L140.1 1140.6 L140.6 1149.8 L141.1 1158.2 L141.6 1165.9 L142.1 1173.3 L142.7 1180.7 L143.3 1188.2 L143.9 1195.6 L144.6 1203 L145.4 1210.4 L146.2 1217.8 L147.1 1225.2 L148.1 1232.6 L149.1 1240.1 L150.2 1247.5 L151.5 1254.9 L152.8 1262.3 L154.2 1269.7 L155.7 1277.1 L157.4 1284.5 L159.1 1292 L161.1 1299.4 L163.1 1306.8 L165.4 1314.2 L167.8 1321.6 L170.4 1329 L173.3 1336.4 L176.3 1343.9 L179.6 1351.3 L183.2 1358.7 L187 1366.1 L191.2 1373.5 L195.7 1380.9 L200.5 1388.4 L205.7 1395.8 L211.4 1403.2 L217.4 1410.5 L223.4 1417.3 L229.4 1423.6 L235.4 1429.5 L241.4 1435.1 L247.4 1440.4 L253.4 1445.4 L259.4 1450.2 L265.4 1454.7 L271.4 1459.1 L277.4 1463.2 L283.4 1467.2 L289.4 1471 L295.4 1474.7 L301.4 1478.3 L307.4 1481.7 L313.4 1485 L319.4 1488.2 L325.4 1491.2 L331.4 1494.2 L337.4 1497.1 L343.4 1499.9 L349.4 1502.7 L355.4 1505.3 L361.4 1507.9 L367.4 1510.5 L373.4 1512.9 L379.4 1515.3 L385.4 1517.6 L391.4 1519.9 L397.4 1522.2 L403.4 1524.3 L409.4 1526.5 L415.4 1528.6 L421.4 1530.6 L427.4 1532.6 L433.4 1534.6 L439.4 1536.5 L445.4 1538.4 L451.4 1540.2 L457.4 1542 L463.4 1543.8 L469.4 1545.5 L475.4 1547.2 L481.4 1548.9 L487.4 1550.6 L493.4 1552.2 L499.4 1553.8 L505.4 1555.4 L511.4 1556.9 L517.4 1558.5 L523.4 1560 L523.5 1560 L523.6 1560 L529.6 1558.5 L535.6 1556.9 L541.6 1555.4 L547.6 1553.8 L553.6 1552.2 L559.6 1550.6 L565.6 1548.9 L571.6 1547.2 L577.6 1545.5 L583.6 1543.8 L589.6 1542 L595.6 1540.2 L601.6 1538.4 L607.6 1536.5 L613.6 1534.6 L619.6 1532.6 L625.6 1530.6 L631.6 1528.6 L637.6 1526.5 L643.6 1524.3 L649.6 1522.2 L655.6 1519.9 L661.6 1517.6 L667.6 1515.3 L673.6 1512.9 L679.6 1510.5 L685.6 1507.9 L691.6 1505.3 L697.6 1502.7 L703.6 1499.9 L709.6 1497.1 L715.6 1494.2 L721.6 1491.2 L727.6 1488.2 L733.6 1485 L739.6 1481.7 L745.6 1478.3 L751.6 1474.7 L757.6 1471 L763.6 1467.2 L769.6 1463.2 L775.6 1459.1 L781.6 1454.7 L787.6 1450.2 L793.6 1445.4 L799.6 1440.4 L805.6 1435.1 L811.6 1429.5 L817.6 1423.6 L823.6 1417.3 L829.6 1410.5 L835.6 1403.2 L841.2 1395.8 L846.4 1388.4 L851.3 1380.9 L855.8 1373.5 L859.9 1366.1 L863.8 1358.7 L867.3 1351.3 L870.6 1343.9 L873.7 1336.4 L876.5 1329 L879.1 1321.6 L881.6 1314.2 L883.8 1306.8 L885.9 1299.4 L887.8 1292 L889.6 1284.5 L891.2 1277.1 L892.8 1269.7 L894.2 1262.3 L895.5 1254.9 L896.7 1247.5 L897.8 1240.1 L898.9 1232.6 L899.8 1225.2 L900.7 1217.8 L901.5 1210.4 L902.3 1203 L903 1195.6 L903.7 1188.2 L904.3 1180.7 L904.8 1173.3 L905.3 1165.9 L905.8 1158.2 L906.3 1149.8 L906.8 1140.6 L907.3 1130.5 L907.8 1119.1 L908.3 1106.3 L908.8 1091.4 L909.3 1073.9 L909.8 1052.4 L910.3 1024.6 L910.8 985.6 L911.3 918.8 L916.8 1055 L916.8 1854.3 L130.1 1854.3Z" fill="#fff" fill-opacity="0.5"/>
<path d="M135.6 918.8 L136.1 985.6 L136.6 1024.6 L137.1 1052.4 L137.6 1073.9 L138.1 1091.4 L138.6 1106.3 L139.1 1119.1 L139.6 1130.5 L140.1 1140.6 L140.6 1149.8 L141.1 1158.2 L141.6 1165.9 L142.1 1173.3 L142.7 1180.7 L143.3 1188.2 L143.9 1195.6 L144.6 1203 L145.4 1210.4 L146.2 1217.8 L147.1 1225.2 L148.1 1232.6 L149.1 1240.1 L150.2 1247.5 L151.5 1254.9 L152.8 1262.3 L154.2 1269.7 L155.7 1277.1 L157.4 1284.5 L159.1 1292 L161.1 1299.4 L163.1 1306.8 L165.4 1314.2 L167.8 1321.6 L170.4 1329 L173.3 1336.4 L176.3 1343.9 L179.6 1351.3 L183.2 1358.7 L187 1366.1 L191.2 1373.5 L195.7 1380.9 L200.5 1388.4 L205.7 1395.8 L211.4 1403.2 L217.4 1410.5 L223.4 1417.3 L229.4 1423.6 L235.4 1429.5 L241.4 1435.1 L247.4 1440.4 L253.4 1445.4 L259.4 1450.2 L265.4 1454.7 L271.4 1459.1 L277.4 1463.2 L283.4 1467.2 L289.4 1471 L295.4 1474.7 L301.4 1478.3 L307.4 1481.7 L313.4 1485 L319.4 1488.2 L325.4 1491.2 L331.4 1494.2 L337.4 1497.1 L343.4 1499.9 L349.4 1502.7 L355.4 1505.3 L361.4 1507.9 L367.4 1510.5 L373.4 1512.9 L379.4 1515.3 L385.4 1517.6 L391.4 1519.9 L397.4 1522.2 L403.4 1524.3 L409.4 1526.5 L415.4 1528.6 L421.4 1530.6 L427.4 1532.6 L433.4 1534.6 L439.4 1536.5 L445.4 1538.4 L451.4 1540.2 L457.4 1542 L463.4 1543.8 L469.4 1545.5 L475.4 1547.2 L481.4 1548.9 L487.4 1550.6 L493.4 1552.2 L499.4 1553.8 L505.4 1555.4 L511.4 1556.9 L517.4 1558.5 L523.4 1560 L523.5 1560 L523.6 1560 L529.6 1558.5 L535.6 1556.9 L541.6 1555.4 L547.6 1553.8 L553.6 1552.2 L559.6 1550.6 L565.6 1548.9 L571.6 1547.2 L577.6 1545.5 L583.6 1543.8 L589.6 1542 L595.6 1540.2 L601.6 1538.4 L607.6 1536.5 L613.6 1534.6 L619.6 1532.6 L625.6 1530.6 L631.6 1528.6 L637.6 1526.5 L643.6 1524.3 L649.6 1522.2 L655.6 1519.9 L661.6 1517.6 L667.6 1515.3 L673.6 1512.9 L679.6 1510.5 L685.6 1507.9 L691.6 1505.3 L697.6 1502.7 L703.6 1499.9 L709.6 1497.1 L715.6 1494.2 L721.6 1491.2 L727.6 1488.2 L733.6 1485 L739.6 1481.7 L745.6 1478.3 L751.6 1474.7 L757.6 1471 L763.6 1467.2 L769.6 1463.2 L775.6 1459.1 L781.6 1454.7 L787.6 1450.2 L793.6 1445.4 L799.6 1440.4 L805.6 1435.1 L811.6 1429.5 L817.6 1423.6 L823.6 1417.3 L829.6 1410.5 L835.6 1403.2 L841.2 1395.8 L846.4 1388.4 L851.3 1380.9 L855.8 1373.5 L859.9 1366.1 L863.8 1358.7 L867.3 1351.3 L870.6 1343.9 L873.7 1336.4 L876.5 1329 L879.1 1321.6 L881.6 1314.2 L883.8 1306.8 L885.9 1299.4 L887.8 1292 L889.6 1284.5 L891.2 1277.1 L892.8 1269.7 L894.2 1262.3 L895.5 1254.9 L896.7 1247.5 L897.8 1240.1 L898.9 1232.6 L899.8 1225.2 L900.7 1217.8 L901.5 1210.4 L902.3 1203 L903 1195.6 L903.7 1188.2 L904.3 1180.7 L904.8 1173.3 L905.3 1165.9 L905.8 1158.2 L906.3 1149.8 L906.8 1140.6 L907.3 1130.5 L907.8 1119.1 L908.3 1106.3 L908.8 1091.4 L909.3 1073.9 L909.8 1052.4 L910.3 1024.6 L910.8 985.6 L911.3 918.8" fill="none" stroke="#000" stroke-width="1.3"/>
</g>
<path d="M135.1 1255H911.8V1554.3H135.1ZM215.8 1255v7.5 M215.8 1554.3v-7.5M356.3 1255v7.5 M356.3 1554.3v-7.5M496.9 1255v7.5 M496.9 1554.3v-7.5M637.4 1255v7.5 M637.4 1554.3v-7.5M777.9 1255v7.5 M777.9 1554.3v-7.5M135.1 1290.4h7.5 M911.8 1290.4h-7.5M135.1 1357.2h7.5 M911.8 1357.2h-7.5M135.1 1424h7.5 M911.8 1424h-7.5M135.1 1490.8h7.5 M911.8 1490.8h-7.5" fill="none" stroke="#262626" stroke-width="1.4"/>
<text x="215.8" y="1587.5" font-size="24.3" text-anchor="middle" fill="#262626">2012</text>
<text x="356.3" y="1587.5" font-size="24.3" text-anchor="middle" fill="#262626">2014</text>
<text x="496.9" y="1587.5" font-size="24.3" text-anchor="middle" fill="#262626">2016</text>
<text x="637.4" y="1587.5" font-size="24.3" text-anchor="middle" fill="#262626">2018</text>
<text x="777.9" y="1587.5" font-size="24.3" text-anchor="middle" fill="#262626">2020</text>
<text x="123.8" y="1299.2" font-size="25.1" text-anchor="end" fill="#262626">0.25</text>
<text x="123.8" y="1365.9" font-size="25.1" text-anchor="end" fill="#262626">0.5</text>
<text x="123.8" y="1432.7" font-size="25.1" text-anchor="end" fill="#262626">1</text>
<text x="123.8" y="1499.5" font-size="25.1" text-anchor="end" fill="#262626">2</text>
<text transform="translate(63.3 1403.2) rotate(-90)" font-size="27.3" text-anchor="middle" fill="#262626">Period</text>
<text x="523.8" y="1245.8" font-size="27.1" font-weight="bold" text-anchor="middle" fill="#000">Clubs (France)</text>
<rect x="936.5" y="1252.7" width="42.4" height="301.7" fill="url(#pg)" stroke="#262626" stroke-width="1.2"/>
<text x="996.3" y="1262.4" font-size="20.9" fill="#262626">8</text>
<text x="996.3" y="1312.2" font-size="20.9" fill="#262626">4</text>
<text x="996.3" y="1362" font-size="20.9" fill="#262626">2</text>
<text x="996.3" y="1411.8" font-size="20.9" fill="#262626">1</text>
<text x="990.5" y="1462.2" font-size="20.9" fill="#262626">1/2</text>
<text x="990.5" y="1513.7" font-size="20.9" fill="#262626">1/4</text>
<text x="990.5" y="1563.5" font-size="20.9" fill="#262626">1/8</text>
<path d="M978.8 1255h-4M978.8 1304.8h-4M978.8 1354.6h-4M978.8 1404.4h-4M978.8 1454.7h-4M978.8 1506.2h-4" fill="none" stroke="#262626" stroke-width="1.2"/>
<defs>
<clipPath id="c8"><rect x="1114.5" y="1256.1" width="735.5" height="299.4"/></clipPath>
<filter id="p8b1_7" filterUnits="userSpaceOnUse" x="1054.5" y="1196.1" width="855.5" height="419.4" color-interpolation-filters="sRGB"><feGaussianBlur stdDeviation="1.7"/></filter>
<filter id="p8b2_3" filterUnits="userSpaceOnUse" x="1054.5" y="1196.1" width="855.5" height="419.4" color-interpolation-filters="sRGB"><feGaussianBlur stdDeviation="2.3"/></filter>
<filter id="p8b3_4" filterUnits="userSpaceOnUse" x="1054.5" y="1196.1" width="855.5" height="419.4" color-interpolation-filters="sRGB"><feGaussianBlur stdDeviation="3.4"/></filter>
<filter id="p8b4_0" filterUnits="userSpaceOnUse" x="1054.5" y="1196.1" width="855.5" height="419.4" color-interpolation-filters="sRGB"><feGaussianBlur stdDeviation="4"/></filter>
<filter id="p8b4_6" filterUnits="userSpaceOnUse" x="1054.5" y="1196.1" width="855.5" height="419.4" color-interpolation-filters="sRGB"><feGaussianBlur stdDeviation="4.6"/></filter>
<filter id="p8b5_7" filterUnits="userSpaceOnUse" x="1054.5" y="1196.1" width="855.5" height="419.4" color-interpolation-filters="sRGB"><feGaussianBlur stdDeviation="5.7"/></filter>
<filter id="p8b6_9" filterUnits="userSpaceOnUse" x="1054.5" y="1196.1" width="855.5" height="419.4" color-interpolation-filters="sRGB"><feGaussianBlur stdDeviation="6.9"/></filter>
<filter id="p8b8_0" filterUnits="userSpaceOnUse" x="1054.5" y="1196.1" width="855.5" height="419.4" color-interpolation-filters="sRGB"><feGaussianBlur stdDeviation="8"/></filter>
<filter id="p8b9_2" filterUnits="userSpaceOnUse" x="1054.5" y="1196.1" width="855.5" height="419.4" color-interpolation-filters="sRGB"><feGaussianBlur stdDeviation="9.2"/></filter>
</defs>
<g clip-path="url(#c8)">
<g filter="url(#pm)">
<rect x="1054.5" y="1196.1" width="855.5" height="419.4" fill="#000000"/>
<g filter="url(#p8b8_0)"><path d="M1109.9 1314.5 L1143.1 1320.2 L1171.7 1388.9 L1217.5 1440.4 L1274.8 1474.8 L1372.1 1520.5 L1457.9 1554.9 L1109.9 1566.3Z" fill="#212121"/></g>
<g filter="url(#p8b5_7)"><path d="M1109.9 1474.8 L1274.8 1474.8 L1354.9 1514.8 L1354.9 1523.4 L1109.9 1523.4Z" fill="#787878"/></g>
<g filter="url(#p8b4_6)"><path d="M1109.9 1534.9 L1469.4 1537.7 L1469.4 1566.3 L1109.9 1566.3Z" fill="#858585"/></g>
<g filter="url(#p8b3_4)"><ellipse cx="1177.4" cy="1460.4" rx="63" ry="8" fill="#0d0d0d"/></g>
<g filter="url(#p8b2_3)"><ellipse cx="1314.8" cy="1526.3" rx="57.2" ry="3.4" fill="#0f0f0f"/></g>
<g filter="url(#p8b4_0)"><ellipse cx="1143.1" cy="1274.4" rx="6.9" ry="14.3" fill="#242424"/></g>
<g filter="url(#p8b4_0)"><ellipse cx="1229" cy="1320.2" rx="20" ry="14.3" fill="#242424" transform="rotate(-30 1229 1320.2)"/></g>
<g filter="url(#p8b4_0)"><ellipse cx="1366.3" cy="1280.1" rx="14.3" ry="10.3" fill="#242424"/></g>
<g filter="url(#p8b4_0)"><ellipse cx="1354.9" cy="1337.4" rx="11.4" ry="17.2" fill="#242424" transform="rotate(-20 1354.9 1337.4)"/></g>
<g filter="url(#p8b4_0)"><ellipse cx="1446.5" cy="1308.8" rx="20" ry="6.9" fill="#242424" transform="rotate(-20 1446.5 1308.8)"/></g>
<g filter="url(#p8b4_0)"><ellipse cx="1498" cy="1285.9" rx="5.7" ry="17.2" fill="#242424"/></g>
<g filter="url(#p8b4_0)"><ellipse cx="1595.3" cy="1297.3" rx="11.4" ry="22.9" fill="#242424" transform="rotate(-15 1595.3 1297.3)"/></g>
<g filter="url(#p8b4_0)"><ellipse cx="1789.9" cy="1280.1" rx="10.3" ry="22.9" fill="#242424" transform="rotate(10 1789.9 1280.1)"/></g>
<g filter="url(#p8b4_0)"><ellipse cx="1188.9" cy="1285.9" rx="11.4" ry="4.6" fill="#242424"/></g>
<g filter="url(#p8b4_6)"><path d="M1211.8 1371.7 L1286.2 1366 L1400.7 1366 L1400.7 1388.9 L1286.2 1397.5 L1217.5 1391.8Z" fill="#333333"/></g>
<g filter="url(#p8b5_7)"><path d="M1274.8 1479.3 L1515.2 1474.8 L1629.7 1417.5 L1675.4 1371.7 L1686.9 1474.8 L1629.7 1509.1 L1515.2 1509.1 L1343.4 1509.1Z" fill="#4c4c4c"/></g>
<g filter="url(#p8b6_9)"><path d="M1400.7 1486.2 L1515.2 1474.8 L1629.7 1440.4 L1686.9 1451.9 L1692.6 1480.5 L1629.7 1509.1 L1543.8 1537.7 L1486.5 1549.2 L1457.9 1520.5Z" fill="#8c8c8c"/></g>
<g filter="url(#p8b9_2)"><path d="M1572.4 1486.2 L1629.7 1463.3 L1686.9 1440.4 L1698.3 1480.5 L1629.7 1503.4 L1589.6 1517.7Z" fill="#cccccc"/></g>
<g filter="url(#p8b1_7)"><ellipse cx="1457.9" cy="1505.1" rx="48.7" ry="2.9" fill="#050505"/></g>
<g filter="url(#p8b4_6)"><path d="M1366.3 1512 L1572.4 1512 L1515.2 1560.6 L1435 1560.6Z" fill="#808080"/></g>
<g filter="url(#p8b4_6)"><ellipse cx="1480.8" cy="1550.3" rx="34.3" ry="6.9" fill="#d9d9d9"/></g>
<g filter="url(#p8b4_6)"><path d="M1735.5 1260.1C1730.8 1261.5 1723.1 1267.3 1718.4 1274.4C1713.6 1281.6 1710.3 1293.5 1706.9 1303C1703.6 1312.6 1699.3 1324 1698.3 1331.7C1697.4 1339.3 1702.6 1342.1 1701.2 1348.8C1699.8 1355.5 1693.1 1364.1 1689.8 1371.7C1686.4 1379.4 1682.1 1387 1681.2 1394.6C1680.2 1402.3 1682.6 1409.9 1684 1417.5C1685.5 1425.1 1689.8 1433.7 1689.8 1440.4C1689.8 1447.1 1685.9 1452.8 1684 1457.6C1682.1 1462.4 1677.8 1465.7 1678.3 1469C1678.8 1472.4 1680.7 1475.4 1686.9 1477.6C1693.1 1479.8 1704.1 1482.2 1715.5 1482.2C1727 1482.2 1743.2 1480.3 1755.6 1477.6C1768 1474.9 1781.3 1471.4 1789.9 1466.2C1798.5 1460.9 1805.2 1453.3 1807.1 1446.1C1809 1439 1803.3 1430.9 1801.4 1423.2C1799.5 1415.6 1797.6 1407 1795.6 1400.3C1793.7 1393.7 1792.3 1389.8 1789.9 1383.2C1787.5 1376.5 1783.7 1367.9 1781.3 1360.3C1779 1352.6 1777.5 1345 1775.6 1337.4C1773.7 1329.7 1770.8 1320.2 1769.9 1314.5C1768.9 1308.8 1772.3 1307.8 1769.9 1303C1767.5 1298.3 1759.4 1292.1 1755.6 1285.9C1751.8 1279.7 1750.3 1270.1 1747 1265.8C1743.7 1261.5 1740.3 1258.7 1735.5 1260.1Z" fill="#9e9e9e"/></g>
<g filter="url(#p8b5_7)"><path d="M1735.5 1285.9C1726 1286.8 1716.9 1313.5 1709.8 1331.7C1702.6 1349.8 1695.5 1371.7 1692.6 1394.6C1689.8 1417.5 1684 1455.7 1692.6 1469C1701.2 1482.4 1727.9 1479.5 1744.1 1474.8C1760.4 1470 1783.2 1455.7 1789.9 1440.4C1796.6 1425.1 1788 1402.3 1784.2 1383.2C1780.4 1364.1 1775.1 1342.1 1767 1325.9C1758.9 1309.7 1745.1 1284.9 1735.5 1285.9Z" fill="#d9d9d9"/></g>
<g filter="url(#p8b8_0)"><ellipse cx="1737.3" cy="1420.4" rx="27.5" ry="60.1" fill="#f7f7f7"/></g>
<g filter="url(#p8b8_0)"><ellipse cx="1755.6" cy="1451.9" rx="40.1" ry="25.8" fill="#f5f5f5"/></g>
<g filter="url(#p8b4_6)"><path d="M1789.9 1371.7 L1858.6 1371.7 L1858.6 1397.5 L1789.9 1397.5Z" fill="#737373"/></g>
<g filter="url(#p8b6_9)"><path d="M1686.9 1486.2 L1744.1 1474.8 L1801.4 1394.6 L1858.6 1394.6 L1858.6 1566.3 L1515.2 1566.3Z" fill="#e0e0e0"/></g>
<g filter="url(#p8b9_2)"><ellipse cx="1761.3" cy="1457.6" rx="45.8" ry="28.6" fill="#f5f5f5"/></g>
<g filter="url(#p8b5_7)"><path d="M1572.4 1537.7 L1858.6 1534.9 L1858.6 1566.3 L1515.2 1566.3Z" fill="#f0f0f0"/></g>
<g filter="url(#p8b3_4)"><ellipse cx="1832.9" cy="1371.7" rx="20" ry="10.3" fill="#0d0d0d"/></g>
</g>
<path d="M1735.5 1260.1C1730.8 1261.5 1723.1 1267.3 1718.4 1274.4C1713.6 1281.6 1710.3 1293.5 1706.9 1303C1703.6 1312.6 1699.3 1324 1698.3 1331.7C1697.4 1339.3 1702.6 1342.1 1701.2 1348.8C1699.8 1355.5 1693.1 1364.1 1689.8 1371.7C1686.4 1379.4 1682.1 1387 1681.2 1394.6C1680.2 1402.3 1682.6 1409.9 1684 1417.5C1685.5 1425.1 1689.8 1433.7 1689.8 1440.4C1689.8 1447.1 1685.9 1452.8 1684 1457.6C1682.1 1462.4 1677.8 1465.7 1678.3 1469C1678.8 1472.4 1680.7 1475.4 1686.9 1477.6C1693.1 1479.8 1704.1 1482.2 1715.5 1482.2C1727 1482.2 1743.2 1480.3 1755.6 1477.6C1768 1474.9 1781.3 1471.4 1789.9 1466.2C1798.5 1460.9 1805.2 1453.3 1807.1 1446.1C1809 1439 1803.3 1430.9 1801.4 1423.2C1799.5 1415.6 1797.6 1407 1795.6 1400.3C1793.7 1393.7 1792.3 1389.8 1789.9 1383.2C1787.5 1376.5 1783.7 1367.9 1781.3 1360.3C1779 1352.6 1777.5 1345 1775.6 1337.4C1773.7 1329.7 1770.8 1320.2 1769.9 1314.5C1768.9 1308.8 1772.3 1307.8 1769.9 1303C1767.5 1298.3 1759.4 1292.1 1755.6 1285.9C1751.8 1279.7 1750.3 1270.1 1747 1265.8C1743.7 1261.5 1740.3 1258.7 1735.5 1260.1Z" fill="none" stroke="#000" stroke-width="5" stroke-linejoin="round" stroke-linecap="round"/>
<path d="M1109.5 1056.1 L1115 923.9 L1115.5 990.7 L1116 1029.8 L1116.5 1057.5 L1117 1079 L1117.5 1096.6 L1118 1111.4 L1118.5 1124.3 L1119 1135.6 L1119.5 1145.8 L1120 1155 L1120.5 1163.3 L1121 1171 L1121.5 1178.5 L1122.1 1185.9 L1122.7 1193.3 L1123.3 1200.7 L1124 1208.1 L1124.8 1215.5 L1125.6 1223 L1126.5 1230.4 L1127.5 1237.8 L1128.5 1245.2 L1129.6 1252.6 L1130.9 1260 L1132.2 1267.4 L1133.6 1274.9 L1135.1 1282.3 L1136.8 1289.7 L1138.5 1297.1 L1140.5 1304.5 L1142.5 1311.9 L1144.8 1319.3 L1147.2 1326.8 L1149.8 1334.2 L1152.6 1341.6 L1155.7 1349 L1159 1356.4 L1162.6 1363.8 L1166.4 1371.2 L1170.6 1378.7 L1175 1386.1 L1179.9 1393.5 L1185.1 1400.9 L1190.8 1408.3 L1196.8 1415.6 L1202.8 1422.4 L1208.8 1428.7 L1214.8 1434.7 L1220.8 1440.3 L1226.8 1445.6 L1232.8 1450.6 L1238.8 1455.3 L1244.8 1459.9 L1250.8 1464.2 L1256.8 1468.4 L1262.8 1472.4 L1268.8 1476.2 L1274.8 1479.9 L1280.8 1483.4 L1286.8 1486.8 L1292.8 1490.1 L1298.8 1493.3 L1304.8 1496.4 L1310.8 1499.4 L1316.8 1502.3 L1322.8 1505.1 L1328.8 1507.8 L1334.8 1510.5 L1340.8 1513.1 L1346.8 1515.6 L1352.8 1518.1 L1358.8 1520.4 L1364.8 1522.8 L1370.8 1525.1 L1376.8 1527.3 L1382.8 1529.5 L1388.8 1531.6 L1394.8 1533.7 L1400.8 1535.7 L1406.8 1537.7 L1412.8 1539.7 L1418.8 1541.6 L1424.8 1543.5 L1430.8 1545.3 L1436.8 1547.1 L1442.8 1548.9 L1448.8 1550.7 L1454.8 1552.4 L1460.8 1554.1 L1466.8 1555.7 L1472.8 1557.3 L1478.8 1558.9 L1482.3 1559.9 L1485.7 1558.9 L1491.7 1557.3 L1497.7 1555.7 L1503.7 1554.1 L1509.7 1552.4 L1515.7 1550.7 L1521.7 1548.9 L1527.7 1547.1 L1533.7 1545.3 L1539.7 1543.5 L1545.7 1541.6 L1551.7 1539.7 L1557.7 1537.7 L1563.7 1535.7 L1569.7 1533.7 L1575.7 1531.6 L1581.7 1529.5 L1587.7 1527.3 L1593.7 1525.1 L1599.7 1522.8 L1605.7 1520.4 L1611.7 1518.1 L1617.7 1515.6 L1623.7 1513.1 L1629.7 1510.5 L1635.7 1507.8 L1641.7 1505.1 L1647.7 1502.3 L1653.7 1499.4 L1659.7 1496.4 L1665.7 1493.3 L1671.7 1490.1 L1677.7 1486.8 L1683.7 1483.4 L1689.7 1479.9 L1695.7 1476.2 L1701.7 1472.4 L1707.7 1468.4 L1713.7 1464.2 L1719.7 1459.9 L1725.7 1455.3 L1731.7 1450.6 L1737.7 1445.6 L1743.7 1440.3 L1749.7 1434.7 L1755.7 1428.7 L1761.7 1422.4 L1767.7 1415.6 L1773.7 1408.3 L1779.4 1400.9 L1784.6 1393.5 L1789.5 1386.1 L1794 1378.7 L1798.1 1371.2 L1802 1363.8 L1805.5 1356.4 L1808.8 1349 L1811.9 1341.6 L1814.7 1334.2 L1817.3 1326.8 L1819.7 1319.3 L1822 1311.9 L1824.1 1304.5 L1826 1297.1 L1827.8 1289.7 L1829.4 1282.3 L1830.9 1274.9 L1832.4 1267.4 L1833.7 1260 L1834.9 1252.6 L1836 1245.2 L1837 1237.8 L1838 1230.4 L1838.9 1223 L1839.7 1215.5 L1840.5 1208.1 L1841.2 1200.7 L1841.8 1193.3 L1842.4 1185.9 L1843 1178.5 L1843.5 1171 L1844 1163.3 L1844.5 1155 L1845 1145.8 L1845.5 1135.6 L1846 1124.3 L1846.5 1111.4 L1847 1096.6 L1847.5 1079 L1848 1057.5 L1848.5 1029.8 L1849 990.7 L1849.5 923.9 L1855 1056.1 L1855 1855.5 L1109.5 1855.5Z" fill="#fff" fill-opacity="0.5"/>
<path d="M1115 923.9 L1115.5 990.7 L1116 1029.8 L1116.5 1057.5 L1117 1079 L1117.5 1096.6 L1118 1111.4 L1118.5 1124.3 L1119 1135.6 L1119.5 1145.8 L1120 1155 L1120.5 1163.3 L1121 1171 L1121.5 1178.5 L1122.1 1185.9 L1122.7 1193.3 L1123.3 1200.7 L1124 1208.1 L1124.8 1215.5 L1125.6 1223 L1126.5 1230.4 L1127.5 1237.8 L1128.5 1245.2 L1129.6 1252.6 L1130.9 1260 L1132.2 1267.4 L1133.6 1274.9 L1135.1 1282.3 L1136.8 1289.7 L1138.5 1297.1 L1140.5 1304.5 L1142.5 1311.9 L1144.8 1319.3 L1147.2 1326.8 L1149.8 1334.2 L1152.6 1341.6 L1155.7 1349 L1159 1356.4 L1162.6 1363.8 L1166.4 1371.2 L1170.6 1378.7 L1175 1386.1 L1179.9 1393.5 L1185.1 1400.9 L1190.8 1408.3 L1196.8 1415.6 L1202.8 1422.4 L1208.8 1428.7 L1214.8 1434.7 L1220.8 1440.3 L1226.8 1445.6 L1232.8 1450.6 L1238.8 1455.3 L1244.8 1459.9 L1250.8 1464.2 L1256.8 1468.4 L1262.8 1472.4 L1268.8 1476.2 L1274.8 1479.9 L1280.8 1483.4 L1286.8 1486.8 L1292.8 1490.1 L1298.8 1493.3 L1304.8 1496.4 L1310.8 1499.4 L1316.8 1502.3 L1322.8 1505.1 L1328.8 1507.8 L1334.8 1510.5 L1340.8 1513.1 L1346.8 1515.6 L1352.8 1518.1 L1358.8 1520.4 L1364.8 1522.8 L1370.8 1525.1 L1376.8 1527.3 L1382.8 1529.5 L1388.8 1531.6 L1394.8 1533.7 L1400.8 1535.7 L1406.8 1537.7 L1412.8 1539.7 L1418.8 1541.6 L1424.8 1543.5 L1430.8 1545.3 L1436.8 1547.1 L1442.8 1548.9 L1448.8 1550.7 L1454.8 1552.4 L1460.8 1554.1 L1466.8 1555.7 L1472.8 1557.3 L1478.8 1558.9 L1482.3 1559.9 L1485.7 1558.9 L1491.7 1557.3 L1497.7 1555.7 L1503.7 1554.1 L1509.7 1552.4 L1515.7 1550.7 L1521.7 1548.9 L1527.7 1547.1 L1533.7 1545.3 L1539.7 1543.5 L1545.7 1541.6 L1551.7 1539.7 L1557.7 1537.7 L1563.7 1535.7 L1569.7 1533.7 L1575.7 1531.6 L1581.7 1529.5 L1587.7 1527.3 L1593.7 1525.1 L1599.7 1522.8 L1605.7 1520.4 L1611.7 1518.1 L1617.7 1515.6 L1623.7 1513.1 L1629.7 1510.5 L1635.7 1507.8 L1641.7 1505.1 L1647.7 1502.3 L1653.7 1499.4 L1659.7 1496.4 L1665.7 1493.3 L1671.7 1490.1 L1677.7 1486.8 L1683.7 1483.4 L1689.7 1479.9 L1695.7 1476.2 L1701.7 1472.4 L1707.7 1468.4 L1713.7 1464.2 L1719.7 1459.9 L1725.7 1455.3 L1731.7 1450.6 L1737.7 1445.6 L1743.7 1440.3 L1749.7 1434.7 L1755.7 1428.7 L1761.7 1422.4 L1767.7 1415.6 L1773.7 1408.3 L1779.4 1400.9 L1784.6 1393.5 L1789.5 1386.1 L1794 1378.7 L1798.1 1371.2 L1802 1363.8 L1805.5 1356.4 L1808.8 1349 L1811.9 1341.6 L1814.7 1334.2 L1817.3 1326.8 L1819.7 1319.3 L1822 1311.9 L1824.1 1304.5 L1826 1297.1 L1827.8 1289.7 L1829.4 1282.3 L1830.9 1274.9 L1832.4 1267.4 L1833.7 1260 L1834.9 1252.6 L1836 1245.2 L1837 1237.8 L1838 1230.4 L1838.9 1223 L1839.7 1215.5 L1840.5 1208.1 L1841.2 1200.7 L1841.8 1193.3 L1842.4 1185.9 L1843 1178.5 L1843.5 1171 L1844 1163.3 L1844.5 1155 L1845 1145.8 L1845.5 1135.6 L1846 1124.3 L1846.5 1111.4 L1847 1096.6 L1847.5 1079 L1848 1057.5 L1848.5 1029.8 L1849 990.7 L1849.5 923.9" fill="none" stroke="#000" stroke-width="1.3"/>
</g>
<path d="M1114.5 1256.1H1850V1555.5H1114.5ZM1190.6 1256.1v7.5 M1190.6 1555.5v-7.5M1323.8 1256.1v7.5 M1323.8 1555.5v-7.5M1457.1 1256.1v7.5 M1457.1 1555.5v-7.5M1590.3 1256.1v7.5 M1590.3 1555.5v-7.5M1723.5 1256.1v7.5 M1723.5 1555.5v-7.5M1114.5 1290.4h7.5 M1850 1290.4h-7.5M1114.5 1357.2h7.5 M1850 1357.2h-7.5M1114.5 1424h7.5 M1850 1424h-7.5M1114.5 1490.8h7.5 M1850 1490.8h-7.5" fill="none" stroke="#262626" stroke-width="1.4"/>
<text x="1190.6" y="1587.5" font-size="23.1" text-anchor="middle" fill="#262626">2012</text>
<text x="1323.8" y="1587.5" font-size="23.1" text-anchor="middle" fill="#262626">2014</text>
<text x="1457.1" y="1587.5" font-size="23.1" text-anchor="middle" fill="#262626">2016</text>
<text x="1590.3" y="1587.5" font-size="23.1" text-anchor="middle" fill="#262626">2018</text>
<text x="1723.5" y="1587.5" font-size="23.1" text-anchor="middle" fill="#262626">2020</text>
<text x="1104.9" y="1298.7" font-size="23.8" text-anchor="end" fill="#262626">0.25</text>
<text x="1104.9" y="1365.5" font-size="23.8" text-anchor="end" fill="#262626">0.5</text>
<text x="1104.9" y="1432.3" font-size="23.8" text-anchor="end" fill="#262626">1</text>
<text x="1104.9" y="1499" font-size="23.8" text-anchor="end" fill="#262626">2</text>
<text transform="translate(1046.2 1403.2) rotate(-90)" font-size="25.8" text-anchor="middle" fill="#262626">Period</text>
<text x="1482.5" y="1245.8" font-size="25.7" font-weight="bold" text-anchor="middle" fill="#000">Industrial Production (France)</text>
<rect x="1872.9" y="1255" width="40.6" height="300.5" fill="url(#pg)" stroke="#262626" stroke-width="1.2"/>
<text x="1931.8" y="1286.7" font-size="19.8" fill="#262626">8</text>
<text x="1931.8" y="1329" font-size="19.8" fill="#262626">4</text>
<text x="1931.8" y="1372" font-size="19.8" fill="#262626">2</text>
<text x="1931.8" y="1414.3" font-size="19.8" fill="#262626">1</text>
<text x="1926.3" y="1456.7" font-size="19.8" fill="#262626">1/2</text>
<text x="1926.3" y="1499" font-size="19.8" fill="#262626">1/4</text>
<text x="1926.3" y="1541.4" font-size="19.8" fill="#262626">1/8</text>
<path d="M1913.6 1279.6h-4M1913.6 1321.9h-4M1913.6 1364.9h-4M1913.6 1407.2h-4M1913.6 1449.6h-4M1913.6 1491.9h-4M1913.6 1534.3h-4" fill="none" stroke="#262626" stroke-width="1.2"/>
<defs>
<clipPath id="c9"><rect x="93.3" y="1675.5" width="782.5" height="313.1"/></clipPath>
<filter id="p9b3_4" filterUnits="userSpaceOnUse" x="33.3" y="1615.5" width="902.5" height="433.1" color-interpolation-filters="sRGB"><feGaussianBlur stdDeviation="3.4"/></filter>
<filter id="p9b4_0" filterUnits="userSpaceOnUse" x="33.3" y="1615.5" width="902.5" height="433.1" color-interpolation-filters="sRGB"><feGaussianBlur stdDeviation="4"/></filter>
<filter id="p9b4_6" filterUnits="userSpaceOnUse" x="33.3" y="1615.5" width="902.5" height="433.1" color-interpolation-filters="sRGB"><feGaussianBlur stdDeviation="4.6"/></filter>
<filter id="p9b6_9" filterUnits="userSpaceOnUse" x="33.3" y="1615.5" width="902.5" height="433.1" color-interpolation-filters="sRGB"><feGaussianBlur stdDeviation="6.9"/></filter>
<filter id="p9b8_0" filterUnits="userSpaceOnUse" x="33.3" y="1615.5" width="902.5" height="433.1" color-interpolation-filters="sRGB"><feGaussianBlur stdDeviation="8"/></filter>
</defs>
<g clip-path="url(#c9)">
<g filter="url(#pm)">
<rect x="33.3" y="1615.5" width="902.5" height="433.1" fill="#000000"/>
<g filter="url(#p9b8_0)"><path d="M88.7 1849 L148.8 1849 L160.3 1917.7 L88.7 1917.7Z" fill="#262626"/></g>
<g filter="url(#p9b4_6)"><path d="M88.7 1954.9 L286.2 1957.7 L400.7 1977.8 L469.4 1997.8 L88.7 1997.8Z" fill="#4c4c4c"/></g>
<g filter="url(#p9b4_6)"><path d="M88.7 1969.2 L229 1970.3 L286.2 1997.8 L88.7 1997.8Z" fill="#6b6b6b"/></g>
<g filter="url(#p9b6_9)"><path d="M881.5 1808.9 L835.7 1814.6 L801.4 1849 L755.6 1889 L686.9 1929.1 L601 1957.7 L515.2 1997.8 L881.5 1997.8Z" fill="#4c4c4c"/></g>
<g filter="url(#p9b6_9)"><path d="M881.5 1889 L801.4 1894.8 L755.6 1911.9 L744.1 1940.5 L881.5 1946.3Z" fill="#878787"/></g>
<g filter="url(#p9b3_4)"><ellipse cx="715.5" cy="1969.2" rx="91.6" ry="5.7" fill="#0d0d0d"/></g>
<g filter="url(#p9b4_6)"><ellipse cx="830" cy="1871.9" rx="28.6" ry="8" fill="#141414"/></g>
<g filter="url(#p9b4_0)"><ellipse cx="589.6" cy="1943.4" rx="97.3" ry="8" fill="#474747" transform="rotate(-4 589.6 1943.4)"/></g>
<g filter="url(#p9b3_4)"><ellipse cx="715.5" cy="1889" rx="28.6" ry="5.7" fill="#262626"/></g>
<g filter="url(#p9b3_4)"><ellipse cx="781.3" cy="1831.8" rx="20" ry="5.7" fill="#262626"/></g>
</g>
<path d="M105.9 1675.5C106.4 1681.5 109.2 1699.9 108.8 1711.6C108.3 1723.3 104.2 1735.4 103 1745.9C101.9 1756.4 100 1766.9 101.9 1774.6C103.8 1782.2 110.7 1786.8 114.5 1791.7C118.3 1796.7 124.3 1800 124.8 1804.3C125.3 1808.6 122.6 1813.4 117.3 1817.5C112.1 1821.6 97.3 1827 93.3 1828.9" fill="none" stroke="#000" stroke-width="5" stroke-linejoin="round" stroke-linecap="round"/>
<path d="M598.2 1693.3C602.2 1691.2 609.6 1692.6 615.3 1693.3C621.1 1693.9 628.4 1693.7 632.5 1697.3C636.6 1700.8 640 1709.4 640 1714.4C640 1719.5 636.1 1725.4 632.5 1727.6C628.9 1729.8 623.4 1729.3 618.2 1727.6C613 1725.9 605.5 1720.9 601 1717.3C596.5 1713.7 591.8 1709.9 591.3 1705.9C590.8 1701.9 594.2 1695.4 598.2 1693.3Z" fill="none" stroke="#000" stroke-width="5" stroke-linejoin="round" stroke-linecap="round"/>
<path d="M758.4 1677.2C762.7 1675.3 768.7 1679.1 772.8 1683C776.9 1686.8 783.1 1693.9 783.1 1700.1C783.1 1706.3 776.9 1714.6 772.8 1720.2C768.7 1725.7 762.1 1733.8 758.4 1733.3C754.8 1732.9 752.9 1723.8 751 1717.3C749.1 1710.8 745.8 1701.1 747 1694.4C748.2 1687.7 754.1 1679.1 758.4 1677.2Z" fill="none" stroke="#000" stroke-width="5" stroke-linejoin="round" stroke-linecap="round"/>
<path d="M821.4 1787.1C823.3 1788.4 829.5 1791.4 832.9 1794.6C836.2 1797.7 842.9 1802.4 841.4 1806C840 1809.7 831.4 1814.4 824.3 1816.3C817.1 1818.2 805.4 1818.4 798.5 1817.5C791.6 1816.5 784 1813.2 783.1 1810.6C782.1 1808 789.3 1805.2 792.8 1802C796.3 1798.9 805.7 1794.9 804.2 1791.7C802.8 1788.6 790.9 1785.8 784.2 1783.1C777.5 1780.5 769.9 1775.2 764.2 1775.7C758.4 1776.2 754.1 1781.9 749.9 1786C745.6 1790.1 739.4 1794.6 738.4 1800.3C737.5 1806 741.3 1814.1 744.1 1820.3C747 1826.5 751.3 1833.5 755.6 1837.5C759.9 1841.5 764.2 1842.7 769.9 1844.4C775.6 1846.1 780.9 1846.1 789.9 1847.8C799 1849.5 813.8 1852.1 824.3 1854.7C834.8 1857.3 847.6 1860.4 852.9 1863.3C858.1 1866.1 860.5 1869 855.8 1871.9C851 1874.7 839.1 1878.1 824.3 1880.4C809.5 1882.8 779.4 1883.8 767 1886.2C754.6 1888.6 751.8 1890.5 749.9 1894.8C747.9 1899 757.5 1906.7 755.6 1911.9C753.7 1917.2 743.2 1922.4 738.4 1926.2C733.6 1930.1 726 1932 727 1934.8C727.9 1937.7 731.7 1941 744.1 1943.4C756.5 1945.8 779.4 1947.9 801.4 1949.1C823.3 1950.4 863.4 1950.6 875.8 1950.9" fill="none" stroke="#000" stroke-width="5" stroke-linejoin="round" stroke-linecap="round"/>
<path d="M855.8 1675.5C855.3 1685.4 855.3 1718 852.9 1734.5C850.5 1751 846.7 1765.8 841.4 1774.6C836.2 1783.3 824.7 1785 821.4 1787.1" fill="none" stroke="#000" stroke-width="5" stroke-linejoin="round" stroke-linecap="round"/>
<path d="M88.3 1475.5 L93.8 1327.8 L94.3 1397.1 L94.8 1437.6 L95.3 1466.3 L95.8 1488.6 L96.3 1506.8 L96.8 1522.3 L97.3 1535.6 L97.8 1547.4 L98.3 1557.9 L98.8 1567.4 L99.3 1576.1 L99.8 1584.1 L100.3 1591.8 L100.9 1599.5 L101.5 1607.2 L102.1 1614.9 L102.9 1622.6 L103.6 1630.3 L104.4 1637.9 L105.3 1645.6 L106.3 1653.3 L107.3 1661 L108.5 1668.7 L109.7 1676.4 L111 1684.1 L112.4 1691.8 L113.9 1699.5 L115.6 1707.2 L117.4 1714.8 L119.3 1722.5 L121.4 1730.2 L123.6 1737.9 L126 1745.6 L128.6 1753.3 L131.5 1761 L134.5 1768.7 L137.8 1776.4 L141.4 1784.1 L145.2 1791.7 L149.4 1799.4 L153.9 1807.1 L158.7 1814.8 L163.9 1822.5 L169.6 1830.2 L175.6 1837.8 L181.6 1844.8 L187.6 1851.4 L193.6 1857.5 L199.6 1863.3 L205.6 1868.8 L211.6 1874 L217.6 1879 L223.6 1883.7 L229.6 1888.2 L235.6 1892.5 L241.6 1896.6 L247.6 1900.6 L253.6 1904.4 L259.6 1908.1 L265.6 1911.6 L271.6 1915 L277.6 1918.3 L283.6 1921.5 L289.6 1924.6 L295.6 1927.6 L301.6 1930.6 L307.6 1933.4 L313.6 1936.2 L319.6 1938.8 L325.6 1941.5 L331.6 1944 L337.6 1946.5 L343.6 1948.9 L349.6 1951.3 L355.6 1953.6 L361.6 1955.9 L367.6 1958.1 L373.6 1960.2 L379.6 1962.3 L385.6 1964.4 L391.6 1966.4 L397.6 1968.4 L403.6 1970.4 L409.6 1972.3 L415.6 1974.2 L421.6 1976 L427.6 1977.8 L433.6 1979.6 L439.6 1981.4 L445.6 1983.1 L451.6 1984.8 L457.6 1986.4 L463.6 1988 L469.6 1989.7 L475.6 1991.2 L481.6 1992.8 L484.5 1993.5 L487.5 1992.8 L493.5 1991.2 L499.5 1989.7 L505.5 1988 L511.5 1986.4 L517.5 1984.8 L523.5 1983.1 L529.5 1981.4 L535.5 1979.6 L541.5 1977.8 L547.5 1976 L553.5 1974.2 L559.5 1972.3 L565.5 1970.4 L571.5 1968.4 L577.5 1966.4 L583.5 1964.4 L589.5 1962.3 L595.5 1960.2 L601.5 1958.1 L607.5 1955.9 L613.5 1953.6 L619.5 1951.3 L625.5 1948.9 L631.5 1946.5 L637.5 1944 L643.5 1941.5 L649.5 1938.8 L655.5 1936.2 L661.5 1933.4 L667.5 1930.6 L673.5 1927.6 L679.5 1924.6 L685.5 1921.5 L691.5 1918.3 L697.5 1915 L703.5 1911.6 L709.5 1908.1 L715.5 1904.4 L721.5 1900.6 L727.5 1896.6 L733.5 1892.5 L739.5 1888.2 L745.5 1883.7 L751.5 1879 L757.5 1874 L763.5 1868.8 L769.5 1863.3 L775.5 1857.5 L781.5 1851.4 L787.5 1844.8 L793.5 1837.8 L799.5 1830.2 L805.1 1822.5 L810.4 1814.8 L815.2 1807.1 L819.7 1799.4 L823.9 1791.7 L827.7 1784.1 L831.3 1776.4 L834.6 1768.7 L837.6 1761 L840.4 1753.3 L843.1 1745.6 L845.5 1737.9 L847.7 1730.2 L849.8 1722.5 L851.7 1714.8 L853.5 1707.2 L855.2 1699.5 L856.7 1691.8 L858.1 1684.1 L859.4 1676.4 L860.6 1668.7 L861.8 1661 L862.8 1653.3 L863.8 1645.6 L864.6 1637.9 L865.5 1630.3 L866.2 1622.6 L866.9 1614.9 L867.6 1607.2 L868.2 1599.5 L868.8 1591.8 L869.3 1584.1 L869.8 1576.1 L870.3 1567.4 L870.8 1557.9 L871.3 1547.4 L871.8 1535.6 L872.3 1522.3 L872.8 1506.8 L873.3 1488.6 L873.8 1466.3 L874.3 1437.6 L874.8 1397.1 L875.3 1327.8 L880.8 1475.5 L880.8 2288.6 L88.3 2288.6Z" fill="#fff" fill-opacity="0.5"/>
<path d="M93.8 1327.8 L94.3 1397.1 L94.8 1437.6 L95.3 1466.3 L95.8 1488.6 L96.3 1506.8 L96.8 1522.3 L97.3 1535.6 L97.8 1547.4 L98.3 1557.9 L98.8 1567.4 L99.3 1576.1 L99.8 1584.1 L100.3 1591.8 L100.9 1599.5 L101.5 1607.2 L102.1 1614.9 L102.9 1622.6 L103.6 1630.3 L104.4 1637.9 L105.3 1645.6 L106.3 1653.3 L107.3 1661 L108.5 1668.7 L109.7 1676.4 L111 1684.1 L112.4 1691.8 L113.9 1699.5 L115.6 1707.2 L117.4 1714.8 L119.3 1722.5 L121.4 1730.2 L123.6 1737.9 L126 1745.6 L128.6 1753.3 L131.5 1761 L134.5 1768.7 L137.8 1776.4 L141.4 1784.1 L145.2 1791.7 L149.4 1799.4 L153.9 1807.1 L158.7 1814.8 L163.9 1822.5 L169.6 1830.2 L175.6 1837.8 L181.6 1844.8 L187.6 1851.4 L193.6 1857.5 L199.6 1863.3 L205.6 1868.8 L211.6 1874 L217.6 1879 L223.6 1883.7 L229.6 1888.2 L235.6 1892.5 L241.6 1896.6 L247.6 1900.6 L253.6 1904.4 L259.6 1908.1 L265.6 1911.6 L271.6 1915 L277.6 1918.3 L283.6 1921.5 L289.6 1924.6 L295.6 1927.6 L301.6 1930.6 L307.6 1933.4 L313.6 1936.2 L319.6 1938.8 L325.6 1941.5 L331.6 1944 L337.6 1946.5 L343.6 1948.9 L349.6 1951.3 L355.6 1953.6 L361.6 1955.9 L367.6 1958.1 L373.6 1960.2 L379.6 1962.3 L385.6 1964.4 L391.6 1966.4 L397.6 1968.4 L403.6 1970.4 L409.6 1972.3 L415.6 1974.2 L421.6 1976 L427.6 1977.8 L433.6 1979.6 L439.6 1981.4 L445.6 1983.1 L451.6 1984.8 L457.6 1986.4 L463.6 1988 L469.6 1989.7 L475.6 1991.2 L481.6 1992.8 L484.5 1993.5 L487.5 1992.8 L493.5 1991.2 L499.5 1989.7 L505.5 1988 L511.5 1986.4 L517.5 1984.8 L523.5 1983.1 L529.5 1981.4 L535.5 1979.6 L541.5 1977.8 L547.5 1976 L553.5 1974.2 L559.5 1972.3 L565.5 1970.4 L571.5 1968.4 L577.5 1966.4 L583.5 1964.4 L589.5 1962.3 L595.5 1960.2 L601.5 1958.1 L607.5 1955.9 L613.5 1953.6 L619.5 1951.3 L625.5 1948.9 L631.5 1946.5 L637.5 1944 L643.5 1941.5 L649.5 1938.8 L655.5 1936.2 L661.5 1933.4 L667.5 1930.6 L673.5 1927.6 L679.5 1924.6 L685.5 1921.5 L691.5 1918.3 L697.5 1915 L703.5 1911.6 L709.5 1908.1 L715.5 1904.4 L721.5 1900.6 L727.5 1896.6 L733.5 1892.5 L739.5 1888.2 L745.5 1883.7 L751.5 1879 L757.5 1874 L763.5 1868.8 L769.5 1863.3 L775.5 1857.5 L781.5 1851.4 L787.5 1844.8 L793.5 1837.8 L799.5 1830.2 L805.1 1822.5 L810.4 1814.8 L815.2 1807.1 L819.7 1799.4 L823.9 1791.7 L827.7 1784.1 L831.3 1776.4 L834.6 1768.7 L837.6 1761 L840.4 1753.3 L843.1 1745.6 L845.5 1737.9 L847.7 1730.2 L849.8 1722.5 L851.7 1714.8 L853.5 1707.2 L855.2 1699.5 L856.7 1691.8 L858.1 1684.1 L859.4 1676.4 L860.6 1668.7 L861.8 1661 L862.8 1653.3 L863.8 1645.6 L864.6 1637.9 L865.5 1630.3 L866.2 1622.6 L866.9 1614.9 L867.6 1607.2 L868.2 1599.5 L868.8 1591.8 L869.3 1584.1 L869.8 1576.1 L870.3 1567.4 L870.8 1557.9 L871.3 1547.4 L871.8 1535.6 L872.3 1522.3 L872.8 1506.8 L873.3 1488.6 L873.8 1466.3 L874.3 1437.6 L874.8 1397.1 L875.3 1327.8" fill="none" stroke="#000" stroke-width="1.3"/>
</g>
<path d="M93.3 1675.5H875.8V1988.6H93.3ZM175.7 1675.5v7.5 M175.7 1988.6v-7.5M317.1 1675.5v7.5 M317.1 1988.6v-7.5M458.5 1675.5v7.5 M458.5 1988.6v-7.5M599.9 1675.5v7.5 M599.9 1988.6v-7.5M741.3 1675.5v7.5 M741.3 1988.6v-7.5M93.3 1713.9h7.5 M875.8 1713.9h-7.5M93.3 1783.1h7.5 M875.8 1783.1h-7.5M93.3 1852.4h7.5 M875.8 1852.4h-7.5M93.3 1921.7h7.5 M875.8 1921.7h-7.5" fill="none" stroke="#262626" stroke-width="1.4"/>
<text x="175.7" y="2023.5" font-size="24.5" text-anchor="middle" fill="#262626">2012</text>
<text x="317.1" y="2023.5" font-size="24.5" text-anchor="middle" fill="#262626">2014</text>
<text x="458.5" y="2023.5" font-size="24.5" text-anchor="middle" fill="#262626">2016</text>
<text x="599.9" y="2023.5" font-size="24.5" text-anchor="middle" fill="#262626">2018</text>
<text x="741.3" y="2023.5" font-size="24.5" text-anchor="middle" fill="#262626">2020</text>
<text x="84.9" y="1722.6" font-size="25.2" text-anchor="end" fill="#262626">0.25</text>
<text x="84.9" y="1791.9" font-size="25.2" text-anchor="end" fill="#262626">0.5</text>
<text x="84.9" y="1861.2" font-size="25.2" text-anchor="end" fill="#262626">1</text>
<text x="84.9" y="1930.4" font-size="25.2" text-anchor="end" fill="#262626">2</text>
<text transform="translate(23.3 1830.6) rotate(-90)" font-size="27.4" text-anchor="middle" fill="#262626">Period</text>
<text x="485.4" y="1665.8" font-size="27.3" font-weight="bold" text-anchor="middle" fill="#000">Clubs (Italy)</text>
<rect x="901" y="1673.8" width="41.8" height="314.8" fill="url(#pg)" stroke="#262626" stroke-width="1.2"/>
<text x="962" y="1683.1" font-size="21.1" fill="#262626">8</text>
<text x="962" y="1735.2" font-size="21.1" fill="#262626">4</text>
<text x="962" y="1787.8" font-size="21.1" fill="#262626">2</text>
<text x="962" y="1840.5" font-size="21.1" fill="#262626">1</text>
<text x="956.1" y="1892.6" font-size="21.1" fill="#262626">1/2</text>
<text x="956.1" y="1945.2" font-size="21.1" fill="#262626">1/4</text>
<text x="956.1" y="1997.9" font-size="21.1" fill="#262626">1/8</text>
<path d="M942.8 1675.5h-4M942.8 1727.6h-4M942.8 1780.3h-4M942.8 1832.9h-4M942.8 1885h-4M942.8 1937.7h-4" fill="none" stroke="#262626" stroke-width="1.2"/>
<defs>
<clipPath id="c10"><rect x="1097.3" y="1669.2" width="788.8" height="320"/></clipPath>
<filter id="p10b1_7" filterUnits="userSpaceOnUse" x="1037.3" y="1609.2" width="908.8" height="440" color-interpolation-filters="sRGB"><feGaussianBlur stdDeviation="1.7"/></filter>
<filter id="p10b2_3" filterUnits="userSpaceOnUse" x="1037.3" y="1609.2" width="908.8" height="440" color-interpolation-filters="sRGB"><feGaussianBlur stdDeviation="2.3"/></filter>
<filter id="p10b2_9" filterUnits="userSpaceOnUse" x="1037.3" y="1609.2" width="908.8" height="440" color-interpolation-filters="sRGB"><feGaussianBlur stdDeviation="2.9"/></filter>
<filter id="p10b3_4" filterUnits="userSpaceOnUse" x="1037.3" y="1609.2" width="908.8" height="440" color-interpolation-filters="sRGB"><feGaussianBlur stdDeviation="3.4"/></filter>
<filter id="p10b4_0" filterUnits="userSpaceOnUse" x="1037.3" y="1609.2" width="908.8" height="440" color-interpolation-filters="sRGB"><feGaussianBlur stdDeviation="4"/></filter>
<filter id="p10b4_6" filterUnits="userSpaceOnUse" x="1037.3" y="1609.2" width="908.8" height="440" color-interpolation-filters="sRGB"><feGaussianBlur stdDeviation="4.6"/></filter>
<filter id="p10b5_7" filterUnits="userSpaceOnUse" x="1037.3" y="1609.2" width="908.8" height="440" color-interpolation-filters="sRGB"><feGaussianBlur stdDeviation="5.7"/></filter>
<filter id="p10b6_9" filterUnits="userSpaceOnUse" x="1037.3" y="1609.2" width="908.8" height="440" color-interpolation-filters="sRGB"><feGaussianBlur stdDeviation="6.9"/></filter>
<filter id="p10b8_0" filterUnits="userSpaceOnUse" x="1037.3" y="1609.2" width="908.8" height="440" color-interpolation-filters="sRGB"><feGaussianBlur stdDeviation="8"/></filter>
<filter id="p10b9_2" filterUnits="userSpaceOnUse" x="1037.3" y="1609.2" width="908.8" height="440" color-interpolation-filters="sRGB"><feGaussianBlur stdDeviation="9.2"/></filter>
<filter id="p10b11_4" filterUnits="userSpaceOnUse" x="1037.3" y="1609.2" width="908.8" height="440" color-interpolation-filters="sRGB"><feGaussianBlur stdDeviation="11.4"/></filter>
</defs>
<g clip-path="url(#c10)">
<g filter="url(#pm)">
<rect x="1037.3" y="1609.2" width="908.8" height="440" fill="#000000"/>
<g filter="url(#p10b6_9)"><path d="M1092.7 1711.6 L1148.8 1717.3 L1171.7 1820.3 L1229 1860.4 L1092.7 1860.4Z" fill="#4c4c4c"/></g>
<g filter="url(#p10b5_7)"><path d="M1092.7 1849 L1229 1851.8 L1286.2 1889 L1400.7 1946.3 L1092.7 1946.3Z" fill="#757575"/></g>
<g filter="url(#p10b8_0)"><path d="M1092.7 1906.2 L1286.2 1909.1 L1372.1 1946.3 L1469.4 1986.3 L1469.4 1997.8 L1092.7 1997.8Z" fill="#adadad"/></g>
<g filter="url(#p10b11_4)"><ellipse cx="1188.9" cy="1974.9" rx="148.8" ry="28.6" fill="#c4c4c4"/></g>
<g filter="url(#p10b5_7)"><ellipse cx="1154.6" cy="1814.6" rx="34.3" ry="28.6" fill="#0f0f0f"/></g>
<g filter="url(#p10b2_9)"><ellipse cx="1234.7" cy="1903.3" rx="25.8" ry="4.6" fill="#0f0f0f"/></g>
<g filter="url(#p10b4_6)"><ellipse cx="1595.3" cy="1734.5" rx="14.3" ry="25.8" fill="#242424" transform="rotate(20 1595.3 1734.5)"/></g>
<g filter="url(#p10b4_0)"><path d="M1211.8 1867.3 L1400.7 1871.9 L1412.1 1889 L1257.6 1891.9Z" fill="#333333"/></g>
<g filter="url(#p10b6_9)"><path d="M1274.8 1909.1 L1457.9 1906.2 L1549.5 1870.1 L1610.2 1846.1 L1650.3 1823.2 L1690.3 1800.3 L1715.5 1774.6 L1744.1 1894.8 L1686.9 1940.5 L1572.4 1986.3 L1400.7 1932Z" fill="#4c4c4c"/></g>
<g filter="url(#p10b6_9)"><path d="M1343.4 1940.5 L1515.2 1926.2 L1572.4 1894.8 L1629.7 1860.4 L1686.9 1826.1 L1715.5 1814.6 L1744.1 1894.8 L1686.9 1940.5 L1601 1974.9 L1515.2 1997.8 L1412.1 1974.9Z" fill="#808080"/></g>
<g filter="url(#p10b6_9)"><path d="M1515.2 1963.4 L1572.4 1923.4 L1629.7 1883.3 L1686.9 1849 L1715.5 1849 L1744.1 1894.8 L1686.9 1940.5 L1601 1974.9 L1543.8 1997.8Z" fill="#adadad"/></g>
<g filter="url(#p10b6_9)"><path d="M1572.4 1957.7 L1629.7 1911.9 L1686.9 1871.9 L1721.2 1871.9 L1755.6 1894.8 L1686.9 1946.3 L1601 1980.6Z" fill="#d6d6d6"/></g>
<g filter="url(#p10b2_3)"><ellipse cx="1437.9" cy="1934.3" rx="68.7" ry="4" fill="#050505"/></g>
<g filter="url(#p10b1_7)"><ellipse cx="1429.3" cy="1953.7" rx="42.9" ry="2.9" fill="#050505"/></g>
<g filter="url(#p10b1_7)"><ellipse cx="1314.8" cy="1903.3" rx="57.2" ry="2.9" fill="#050505"/></g>
<g filter="url(#p10b4_6)"><path d="M1400.7 1969.2 L1572.4 1966.3 L1526.6 1997.8 L1446.5 1997.8Z" fill="#adadad"/></g>
<g filter="url(#p10b4_6)"><ellipse cx="1486.5" cy="1985.2" rx="31.5" ry="6.9" fill="#d9d9d9"/></g>
<g filter="url(#p10b4_6)"><path d="M1775.6 1668.1C1769.9 1669 1761.8 1674.8 1755.6 1680.1C1749.4 1685.4 1742.2 1692 1738.4 1700.1C1734.6 1708.2 1734.6 1720.2 1732.7 1728.8C1730.8 1737.3 1729.3 1745 1727 1751.7C1724.6 1758.3 1720.5 1762.1 1718.4 1768.8C1716.3 1775.5 1715.8 1784.1 1714.4 1791.7C1712.9 1799.4 1711 1807 1709.8 1814.6C1708.5 1822.3 1707.7 1831.3 1706.9 1837.5C1706.2 1843.7 1704.3 1847.1 1705.2 1851.8C1706.2 1856.6 1709 1861.4 1712.7 1866.1C1716.3 1870.9 1722.2 1876.6 1727 1880.4C1731.7 1884.3 1735.5 1886.6 1741.3 1889C1747 1891.4 1753.2 1895.2 1761.3 1894.8C1769.4 1894.3 1781.3 1890 1789.9 1886.2C1798.5 1882.4 1806.1 1877.1 1812.8 1871.9C1819.5 1866.6 1826.7 1860.4 1830 1854.7C1833.3 1849 1833.3 1844.2 1832.9 1837.5C1832.4 1830.8 1827.6 1821.3 1827.1 1814.6C1826.7 1807.9 1831.4 1803.2 1830 1797.4C1828.6 1791.7 1822.4 1786 1818.5 1780.3C1814.7 1774.6 1810 1768.8 1807.1 1763.1C1804.2 1757.4 1803.3 1751.7 1801.4 1745.9C1799.5 1740.2 1797.1 1735.4 1795.6 1728.8C1794.2 1722.1 1792.1 1712.5 1792.8 1705.9C1793.5 1699.2 1800.1 1693.9 1799.7 1688.7C1799.2 1683.4 1793.9 1677.8 1789.9 1674.4C1785.9 1670.9 1781.3 1667.1 1775.6 1668.1Z" fill="#9e9e9e"/></g>
<g filter="url(#p10b5_7)"><path d="M1767 1700.1C1758.4 1700.1 1746 1726.8 1738.4 1745.9C1730.8 1765 1724.1 1793.6 1721.2 1814.6C1718.4 1835.6 1714.6 1859.5 1721.2 1871.9C1727.9 1884.3 1745.1 1891.9 1761.3 1889C1777.5 1886.2 1810 1870 1818.5 1854.7C1827.1 1839.4 1817.6 1815.6 1812.8 1797.4C1808.1 1779.3 1797.6 1762.1 1789.9 1745.9C1782.3 1729.7 1775.6 1700.1 1767 1700.1Z" fill="#d9d9d9"/></g>
<g filter="url(#p10b8_0)"><ellipse cx="1764.2" cy="1808.9" rx="31.5" ry="57.2" fill="#f7f7f7"/></g>
<g filter="url(#p10b8_0)"><path d="M1844.3 1786 L1893 1786 L1893 1860.4 L1844.3 1860.4Z" fill="#737373"/></g>
<g filter="url(#p10b8_0)"><path d="M1658.3 1940.5 L1744.1 1894.8 L1801.4 1860.4 L1830 1808.9 L1841.4 1849 L1893 1854.7 L1893 1997.8 L1515.2 1997.8Z" fill="#e0e0e0"/></g>
<g filter="url(#p10b9_2)"><ellipse cx="1761.3" cy="1906.2" rx="68.7" ry="28.6" fill="#f0f0f0"/></g>
<g filter="url(#p10b5_7)"><path d="M1629.7 1977.8 L1893 1974.9 L1893 1997.8 L1572.4 1997.8Z" fill="#f2f2f2"/></g>
<g filter="url(#p10b3_4)"><ellipse cx="1875.8" cy="1814.6" rx="14.3" ry="6.9" fill="#0d0d0d"/></g>
<g filter="url(#p10b4_6)"><ellipse cx="1830" cy="1694.4" rx="17.2" ry="11.4" fill="#262626"/></g>
</g>
<path d="M1775.6 1668.1C1769.9 1669 1761.8 1674.8 1755.6 1680.1C1749.4 1685.4 1742.2 1692 1738.4 1700.1C1734.6 1708.2 1734.6 1720.2 1732.7 1728.8C1730.8 1737.3 1729.3 1745 1727 1751.7C1724.6 1758.3 1720.5 1762.1 1718.4 1768.8C1716.3 1775.5 1715.8 1784.1 1714.4 1791.7C1712.9 1799.4 1711 1807 1709.8 1814.6C1708.5 1822.3 1707.7 1831.3 1706.9 1837.5C1706.2 1843.7 1704.3 1847.1 1705.2 1851.8C1706.2 1856.6 1709 1861.4 1712.7 1866.1C1716.3 1870.9 1722.2 1876.6 1727 1880.4C1731.7 1884.3 1735.5 1886.6 1741.3 1889C1747 1891.4 1753.2 1895.2 1761.3 1894.8C1769.4 1894.3 1781.3 1890 1789.9 1886.2C1798.5 1882.4 1806.1 1877.1 1812.8 1871.9C1819.5 1866.6 1826.7 1860.4 1830 1854.7C1833.3 1849 1833.3 1844.2 1832.9 1837.5C1832.4 1830.8 1827.6 1821.3 1827.1 1814.6C1826.7 1807.9 1831.4 1803.2 1830 1797.4C1828.6 1791.7 1822.4 1786 1818.5 1780.3C1814.7 1774.6 1810 1768.8 1807.1 1763.1C1804.2 1757.4 1803.3 1751.7 1801.4 1745.9C1799.5 1740.2 1797.1 1735.4 1795.6 1728.8C1794.2 1722.1 1792.1 1712.5 1792.8 1705.9C1793.5 1699.2 1800.1 1693.9 1799.7 1688.7C1799.2 1683.4 1793.9 1677.8 1789.9 1674.4C1785.9 1670.9 1781.3 1667.1 1775.6 1668.1Z" fill="none" stroke="#000" stroke-width="5" stroke-linejoin="round" stroke-linecap="round"/>
<path d="M1092.3 1469.2 L1097.8 1307.2 L1098.3 1378.8 L1098.8 1420.6 L1099.3 1450.3 L1099.8 1473.4 L1100.3 1492.2 L1100.8 1508.1 L1101.3 1521.9 L1101.8 1534.1 L1102.3 1544.9 L1102.8 1554.8 L1103.3 1563.8 L1103.8 1572 L1104.3 1580 L1104.9 1587.9 L1105.5 1595.8 L1106.2 1603.8 L1106.9 1611.7 L1107.6 1619.7 L1108.4 1627.6 L1109.3 1635.6 L1110.3 1643.5 L1111.3 1651.5 L1112.5 1659.4 L1113.7 1667.3 L1115 1675.3 L1116.4 1683.2 L1117.9 1691.2 L1119.6 1699.1 L1121.4 1707.1 L1123.3 1715 L1125.4 1723 L1127.6 1730.9 L1130 1738.8 L1132.6 1746.8 L1135.5 1754.7 L1138.5 1762.7 L1141.8 1770.6 L1145.4 1778.6 L1149.2 1786.5 L1153.4 1794.5 L1157.9 1802.4 L1162.7 1810.3 L1167.9 1818.3 L1173.6 1826.2 L1179.6 1834.1 L1185.6 1841.3 L1191.6 1848.1 L1197.6 1854.5 L1203.6 1860.5 L1209.6 1866.1 L1215.6 1871.5 L1221.6 1876.6 L1227.6 1881.5 L1233.6 1886.1 L1239.6 1890.6 L1245.6 1894.8 L1251.6 1898.9 L1257.6 1902.9 L1263.6 1906.7 L1269.6 1910.3 L1275.6 1913.9 L1281.6 1917.3 L1287.6 1920.6 L1293.6 1923.8 L1299.6 1926.9 L1305.6 1929.9 L1311.6 1932.8 L1317.6 1935.7 L1323.6 1938.5 L1329.6 1941.2 L1335.6 1943.8 L1341.6 1946.4 L1347.6 1948.9 L1353.6 1951.3 L1359.6 1953.7 L1365.6 1956 L1371.6 1958.3 L1377.6 1960.6 L1383.6 1962.7 L1389.6 1964.9 L1395.6 1967 L1401.6 1969 L1407.6 1971.1 L1413.6 1973 L1419.6 1975 L1425.6 1976.9 L1431.6 1978.7 L1437.6 1980.6 L1443.6 1982.4 L1449.6 1984.2 L1455.6 1985.9 L1461.6 1987.6 L1467.6 1989.3 L1473.6 1991 L1479.6 1992.6 L1485.6 1994.2 L1491.6 1995.8 L1491.7 1995.8 L1491.8 1995.8 L1497.8 1994.2 L1503.8 1992.6 L1509.8 1991 L1515.8 1989.3 L1521.8 1987.6 L1527.8 1985.9 L1533.8 1984.2 L1539.8 1982.4 L1545.8 1980.6 L1551.8 1978.7 L1557.8 1976.9 L1563.8 1975 L1569.8 1973 L1575.8 1971.1 L1581.8 1969 L1587.8 1967 L1593.8 1964.9 L1599.8 1962.7 L1605.8 1960.6 L1611.8 1958.3 L1617.8 1956 L1623.8 1953.7 L1629.8 1951.3 L1635.8 1948.9 L1641.8 1946.4 L1647.8 1943.8 L1653.8 1941.2 L1659.8 1938.5 L1665.8 1935.7 L1671.8 1932.8 L1677.8 1929.9 L1683.8 1926.9 L1689.8 1923.8 L1695.8 1920.6 L1701.8 1917.3 L1707.8 1913.9 L1713.8 1910.3 L1719.8 1906.7 L1725.8 1902.9 L1731.8 1898.9 L1737.8 1894.8 L1743.8 1890.6 L1749.8 1886.1 L1755.8 1881.5 L1761.8 1876.6 L1767.8 1871.5 L1773.8 1866.1 L1779.8 1860.5 L1785.8 1854.5 L1791.8 1848.1 L1797.8 1841.3 L1803.8 1834.1 L1809.8 1826.2 L1815.5 1818.3 L1820.7 1810.3 L1825.5 1802.4 L1830 1794.5 L1834.2 1786.5 L1838 1778.6 L1841.6 1770.6 L1844.9 1762.7 L1847.9 1754.7 L1850.8 1746.8 L1853.4 1738.8 L1855.8 1730.9 L1858 1723 L1860.1 1715 L1862 1707.1 L1863.8 1699.1 L1865.5 1691.2 L1867 1683.2 L1868.4 1675.3 L1869.7 1667.3 L1870.9 1659.4 L1872.1 1651.5 L1873.1 1643.5 L1874.1 1635.6 L1875 1627.6 L1875.8 1619.7 L1876.5 1611.7 L1877.2 1603.8 L1877.9 1595.8 L1878.5 1587.9 L1879.1 1580 L1879.6 1572 L1880.1 1563.8 L1880.6 1554.8 L1881.1 1544.9 L1881.6 1534.1 L1882.1 1521.9 L1882.6 1508.1 L1883.1 1492.2 L1883.6 1473.4 L1884.1 1450.3 L1884.6 1420.6 L1885.1 1378.8 L1885.6 1307.2 L1891.1 1469.2 L1891.1 2289.2 L1092.3 2289.2Z" fill="#fff" fill-opacity="0.5"/>
<path d="M1097.8 1307.2 L1098.3 1378.8 L1098.8 1420.6 L1099.3 1450.3 L1099.8 1473.4 L1100.3 1492.2 L1100.8 1508.1 L1101.3 1521.9 L1101.8 1534.1 L1102.3 1544.9 L1102.8 1554.8 L1103.3 1563.8 L1103.8 1572 L1104.3 1580 L1104.9 1587.9 L1105.5 1595.8 L1106.2 1603.8 L1106.9 1611.7 L1107.6 1619.7 L1108.4 1627.6 L1109.3 1635.6 L1110.3 1643.5 L1111.3 1651.5 L1112.5 1659.4 L1113.7 1667.3 L1115 1675.3 L1116.4 1683.2 L1117.9 1691.2 L1119.6 1699.1 L1121.4 1707.1 L1123.3 1715 L1125.4 1723 L1127.6 1730.9 L1130 1738.8 L1132.6 1746.8 L1135.5 1754.7 L1138.5 1762.7 L1141.8 1770.6 L1145.4 1778.6 L1149.2 1786.5 L1153.4 1794.5 L1157.9 1802.4 L1162.7 1810.3 L1167.9 1818.3 L1173.6 1826.2 L1179.6 1834.1 L1185.6 1841.3 L1191.6 1848.1 L1197.6 1854.5 L1203.6 1860.5 L1209.6 1866.1 L1215.6 1871.5 L1221.6 1876.6 L1227.6 1881.5 L1233.6 1886.1 L1239.6 1890.6 L1245.6 1894.8 L1251.6 1898.9 L1257.6 1902.9 L1263.6 1906.7 L1269.6 1910.3 L1275.6 1913.9 L1281.6 1917.3 L1287.6 1920.6 L1293.6 1923.8 L1299.6 1926.9 L1305.6 1929.9 L1311.6 1932.8 L1317.6 1935.7 L1323.6 1938.5 L1329.6 1941.2 L1335.6 1943.8 L1341.6 1946.4 L1347.6 1948.9 L1353.6 1951.3 L1359.6 1953.7 L1365.6 1956 L1371.6 1958.3 L1377.6 1960.6 L1383.6 1962.7 L1389.6 1964.9 L1395.6 1967 L1401.6 1969 L1407.6 1971.1 L1413.6 1973 L1419.6 1975 L1425.6 1976.9 L1431.6 1978.7 L1437.6 1980.6 L1443.6 1982.4 L1449.6 1984.2 L1455.6 1985.9 L1461.6 1987.6 L1467.6 1989.3 L1473.6 1991 L1479.6 1992.6 L1485.6 1994.2 L1491.6 1995.8 L1491.7 1995.8 L1491.8 1995.8 L1497.8 1994.2 L1503.8 1992.6 L1509.8 1991 L1515.8 1989.3 L1521.8 1987.6 L1527.8 1985.9 L1533.8 1984.2 L1539.8 1982.4 L1545.8 1980.6 L1551.8 1978.7 L1557.8 1976.9 L1563.8 1975 L1569.8 1973 L1575.8 1971.1 L1581.8 1969 L1587.8 1967 L1593.8 1964.9 L1599.8 1962.7 L1605.8 1960.6 L1611.8 1958.3 L1617.8 1956 L1623.8 1953.7 L1629.8 1951.3 L1635.8 1948.9 L1641.8 1946.4 L1647.8 1943.8 L1653.8 1941.2 L1659.8 1938.5 L1665.8 1935.7 L1671.8 1932.8 L1677.8 1929.9 L1683.8 1926.9 L1689.8 1923.8 L1695.8 1920.6 L1701.8 1917.3 L1707.8 1913.9 L1713.8 1910.3 L1719.8 1906.7 L1725.8 1902.9 L1731.8 1898.9 L1737.8 1894.8 L1743.8 1890.6 L1749.8 1886.1 L1755.8 1881.5 L1761.8 1876.6 L1767.8 1871.5 L1773.8 1866.1 L1779.8 1860.5 L1785.8 1854.5 L1791.8 1848.1 L1797.8 1841.3 L1803.8 1834.1 L1809.8 1826.2 L1815.5 1818.3 L1820.7 1810.3 L1825.5 1802.4 L1830 1794.5 L1834.2 1786.5 L1838 1778.6 L1841.6 1770.6 L1844.9 1762.7 L1847.9 1754.7 L1850.8 1746.8 L1853.4 1738.8 L1855.8 1730.9 L1858 1723 L1860.1 1715 L1862 1707.1 L1863.8 1699.1 L1865.5 1691.2 L1867 1683.2 L1868.4 1675.3 L1869.7 1667.3 L1870.9 1659.4 L1872.1 1651.5 L1873.1 1643.5 L1874.1 1635.6 L1875 1627.6 L1875.8 1619.7 L1876.5 1611.7 L1877.2 1603.8 L1877.9 1595.8 L1878.5 1587.9 L1879.1 1580 L1879.6 1572 L1880.1 1563.8 L1880.6 1554.8 L1881.1 1544.9 L1881.6 1534.1 L1882.1 1521.9 L1882.6 1508.1 L1883.1 1492.2 L1883.6 1473.4 L1884.1 1450.3 L1884.6 1420.6 L1885.1 1378.8 L1885.6 1307.2" fill="none" stroke="#000" stroke-width="1.3"/>
</g>
<path d="M1097.3 1669.2H1886.1V1989.2H1097.3ZM1180.3 1669.2v7.5 M1180.3 1989.2v-7.5M1323 1669.2v7.5 M1323 1989.2v-7.5M1465.7 1669.2v7.5 M1465.7 1989.2v-7.5M1608.3 1669.2v7.5 M1608.3 1989.2v-7.5M1751 1669.2v7.5 M1751 1989.2v-7.5M1097.3 1707h7.5 M1886.1 1707h-7.5M1097.3 1778.6h7.5 M1886.1 1778.6h-7.5M1097.3 1850.1h7.5 M1886.1 1850.1h-7.5M1097.3 1921.7h7.5 M1886.1 1921.7h-7.5" fill="none" stroke="#262626" stroke-width="1.4"/>
<text x="1180.3" y="2026.4" font-size="24.7" text-anchor="middle" fill="#262626">2012</text>
<text x="1323" y="2026.4" font-size="24.7" text-anchor="middle" fill="#262626">2014</text>
<text x="1465.7" y="2026.4" font-size="24.7" text-anchor="middle" fill="#262626">2016</text>
<text x="1608.3" y="2026.4" font-size="24.7" text-anchor="middle" fill="#262626">2018</text>
<text x="1751" y="2026.4" font-size="24.7" text-anchor="middle" fill="#262626">2020</text>
<text x="1087.7" y="1715.9" font-size="25.4" text-anchor="end" fill="#262626">0.25</text>
<text x="1087.7" y="1787.4" font-size="25.4" text-anchor="end" fill="#262626">0.5</text>
<text x="1087.7" y="1859" font-size="25.4" text-anchor="end" fill="#262626">1</text>
<text x="1087.7" y="1930.5" font-size="25.4" text-anchor="end" fill="#262626">2</text>
<text transform="translate(1023.3 1828.9) rotate(-90)" font-size="27.7" text-anchor="middle" fill="#262626">Period</text>
<text x="1491.1" y="1658.9" font-size="27.5" font-weight="bold" text-anchor="middle" fill="#000">Industrial Production (Italy)</text>
<rect x="1910.1" y="1669.2" width="42.9" height="320" fill="url(#pg)" stroke="#262626" stroke-width="1.2"/>
<text x="1973.4" y="1703.2" font-size="21.2" fill="#262626">8</text>
<text x="1973.4" y="1749" font-size="21.2" fill="#262626">4</text>
<text x="1973.4" y="1794.8" font-size="21.2" fill="#262626">2</text>
<text x="1973.4" y="1840.5" font-size="21.2" fill="#262626">1</text>
<text x="1967.5" y="1885.8" font-size="21.2" fill="#262626">1/2</text>
<text x="1967.5" y="1931" font-size="21.2" fill="#262626">1/4</text>
<text x="1967.5" y="1976.8" font-size="21.2" fill="#262626">1/8</text>
<path d="M1953.1 1695.6h-4M1953.1 1741.4h-4M1953.1 1787.1h-4M1953.1 1832.9h-4M1953.1 1878.2h-4M1953.1 1923.4h-4M1953.1 1969.2h-4" fill="none" stroke="#262626" stroke-width="1.2"/>
<defs>
<clipPath id="c11"><rect x="101.9" y="2071" width="767" height="293.1"/></clipPath>
<filter id="p11b2_9" filterUnits="userSpaceOnUse" x="41.9" y="2011" width="887" height="413.1" color-interpolation-filters="sRGB"><feGaussianBlur stdDeviation="2.9"/></filter>
<filter id="p11b4_0" filterUnits="userSpaceOnUse" x="41.9" y="2011" width="887" height="413.1" color-interpolation-filters="sRGB"><feGaussianBlur stdDeviation="4"/></filter>
<filter id="p11b4_6" filterUnits="userSpaceOnUse" x="41.9" y="2011" width="887" height="413.1" color-interpolation-filters="sRGB"><feGaussianBlur stdDeviation="4.6"/></filter>
<filter id="p11b5_7" filterUnits="userSpaceOnUse" x="41.9" y="2011" width="887" height="413.1" color-interpolation-filters="sRGB"><feGaussianBlur stdDeviation="5.7"/></filter>
<filter id="p11b6_9" filterUnits="userSpaceOnUse" x="41.9" y="2011" width="887" height="413.1" color-interpolation-filters="sRGB"><feGaussianBlur stdDeviation="6.9"/></filter>
</defs>
<g clip-path="url(#c11)">
<g filter="url(#pm)">
<rect x="41.9" y="2011" width="887" height="413.1" fill="#000000"/>
<g filter="url(#p11b4_6)"><path d="M97.3 2221.5 L188.9 2224.4 L194.6 2244.4 L97.3 2244.4Z" fill="#333333"/></g>
<g filter="url(#p11b5_7)"><path d="M97.3 2284.5 L257.6 2287.3 L343.4 2324.5 L469.4 2370.3 L97.3 2370.3Z" fill="#525252"/></g>
<g filter="url(#p11b4_6)"><path d="M97.3 2333.1 L372.1 2336 L469.4 2370.3 L97.3 2370.3Z" fill="#757575"/></g>
<g filter="url(#p11b2_9)"><ellipse cx="131.7" cy="2361.8" rx="40.1" ry="4.6" fill="#141414"/></g>
<g filter="url(#p11b4_0)"><ellipse cx="466.5" cy="2247.3" rx="51.5" ry="8" fill="#262626"/></g>
<g filter="url(#p11b4_6)"><ellipse cx="578.1" cy="2230.1" rx="63" ry="12.6" fill="#333333"/></g>
<g filter="url(#p11b5_7)"><path d="M486.5 2255.9 L732.7 2253 L744.1 2278.8 L515.2 2284.5Z" fill="#333333"/></g>
<g filter="url(#p11b4_6)"><ellipse cx="666.9" cy="2147.1" rx="10.3" ry="63" fill="#333333"/></g>
<g filter="url(#p11b4_6)"><ellipse cx="658.3" cy="2187.2" rx="17.2" ry="22.9" fill="#404040"/></g>
<g filter="url(#p11b4_6)"><ellipse cx="695.5" cy="2220.4" rx="45.8" ry="11.4" fill="#6b6b6b"/></g>
<g filter="url(#p11b4_6)"><ellipse cx="761.3" cy="2127.1" rx="12.6" ry="31.5" fill="#2b2b2b"/></g>
<g filter="url(#p11b6_9)"><path d="M543.8 2290.2 L629.7 2278.8 L715.5 2273 L744.1 2290.2 L658.3 2324.5 L572.4 2347.4 L515.2 2324.5Z" fill="#737373"/></g>
<g filter="url(#p11b6_9)"><path d="M601 2301.7 L686.9 2284.5 L715.5 2295.9 L658.3 2324.5 L601 2336Z" fill="#9e9e9e"/></g>
<g filter="url(#p11b4_6)"><path d="M366.3 2331.4 L601 2327.4 L543.8 2370.3 L429.3 2370.3Z" fill="#808080"/></g>
<g filter="url(#p11b5_7)"><ellipse cx="498" cy="2353.2" rx="51.5" ry="10.3" fill="#9e9e9e"/></g>
<g filter="url(#p11b5_7)"><path d="M686.9 2290.2 L744.1 2267.3 L830 2255.9 L875.8 2255.9 L875.8 2313.1 L715.5 2313.1Z" fill="#d9d9d9"/></g>
<g filter="url(#p11b5_7)"><path d="M572.4 2347.4 L686.9 2316 L875.8 2316 L875.8 2370.3 L515.2 2370.3Z" fill="#a3a3a3"/></g>
<g filter="url(#p11b4_6)"><ellipse cx="830" cy="2347.4" rx="45.8" ry="6.9" fill="#808080"/></g>
</g>
<path d="M598.2 2081.3C599.6 2078.9 604.4 2078.7 606.8 2080.1C609.1 2081.6 612.5 2087 612.5 2089.9C612.5 2092.7 609.1 2096.5 606.8 2097.3C604.4 2098.1 599.6 2097.1 598.2 2094.4C596.7 2091.8 596.7 2083.7 598.2 2081.3Z" fill="none" stroke="#000" stroke-width="5" stroke-linejoin="round" stroke-linecap="round"/>
<path d="M649.7 2068.1C649.2 2072.7 646.3 2088.1 646.8 2095.6C647.3 2103 652.1 2106.1 652.5 2112.8C653 2119.4 651.1 2128 649.7 2135.7C648.3 2143.3 646.8 2151.9 644 2158.6C641.1 2165.2 633 2170 632.5 2175.7C632 2181.4 637.3 2188.1 641.1 2192.9C644.9 2197.7 654.5 2200.1 655.4 2204.3C656.4 2208.6 646.8 2214.6 646.8 2218.7C646.8 2222.7 648.7 2226 655.4 2228.4C662.1 2230.8 675.9 2232.4 686.9 2233C697.9 2233.5 711.7 2233.3 721.2 2231.8C730.8 2230.4 739.8 2227 744.1 2224.4C748.4 2221.7 749.9 2219.1 747 2215.8C744.1 2212.5 735.1 2207.4 727 2204.3C718.9 2201.3 706 2200.3 698.3 2197.5C690.7 2194.6 683.6 2191.8 681.2 2187.2C678.8 2182.6 682.1 2175.7 684 2170C685.9 2164.3 690 2158.6 692.6 2152.8C695.2 2147.1 700 2141.4 699.5 2135.7C699 2129.9 692.3 2125.2 689.8 2118.5C687.2 2111.8 684 2104 684 2095.6C684 2087.2 688.8 2072.7 689.8 2068.1" fill="none" stroke="#000" stroke-width="5" stroke-linejoin="round" stroke-linecap="round"/>
<path d="M758.4 2072.7C762.4 2074.6 768.9 2083.7 772.8 2089.9C776.6 2096.1 778.7 2104 781.3 2109.9C784 2115.8 789.3 2120.1 788.8 2125.4C788.3 2130.6 781.6 2135.8 778.5 2141.4C775.3 2146.9 773.2 2153.6 769.9 2158.6C766.6 2163.5 762.3 2170.2 758.4 2171.1C754.6 2172.1 750.3 2168.3 747 2164.3C743.7 2160.3 741.3 2151.7 738.4 2147.1C735.5 2142.5 729.8 2141.6 729.8 2136.8C729.8 2132 736.2 2125.4 738.4 2118.5C740.6 2111.6 741.3 2102.3 743 2095.6C744.7 2088.9 746.1 2082.2 748.7 2078.4C751.3 2074.6 754.4 2070.8 758.4 2072.7Z" fill="none" stroke="#000" stroke-width="5" stroke-linejoin="round" stroke-linecap="round"/>
<path d="M868.9 2255.9C862.4 2255.6 841.3 2253.2 830 2254.1C818.7 2255.1 812.8 2258.4 801.4 2261.6C789.9 2264.7 776.6 2269.7 761.3 2273C746 2276.4 721.7 2279.2 709.8 2281.6C697.9 2284 694.5 2285 689.8 2287.3C685 2289.7 681.6 2293.1 681.2 2295.9C680.7 2298.8 680.2 2301.8 686.9 2304.5C693.6 2307.2 706.9 2310.5 721.2 2312C735.5 2313.4 754.6 2313.6 772.8 2313.1C790.9 2312.6 814 2310.8 830 2309.1C846 2307.4 862.4 2303.8 868.9 2302.8" fill="none" stroke="#000" stroke-width="5" stroke-linejoin="round" stroke-linecap="round"/>
<path d="M855.8 2071C856.7 2078.9 860 2104.8 861.5 2118.5C862.9 2132.1 865.8 2143.3 864.3 2152.8C862.9 2162.4 853.8 2169.8 852.9 2175.7C851.9 2181.6 855.9 2185.7 858.6 2188.3C861.3 2190.9 867.2 2190.7 868.9 2191.2" fill="none" stroke="#000" stroke-width="5" stroke-linejoin="round" stroke-linecap="round"/>
<path d="M96.9 1871 L102.4 1746.2 L102.9 1811.3 L103.4 1849.3 L103.9 1876.3 L104.4 1897.3 L104.9 1914.4 L105.4 1928.8 L105.9 1941.4 L106.4 1952.4 L106.9 1962.3 L107.4 1971.3 L107.9 1979.4 L108.4 1987 L108.9 1994.2 L109.5 2001.4 L110.1 2008.6 L110.7 2015.9 L111.4 2023.1 L112.2 2030.3 L113 2037.5 L113.9 2044.7 L114.9 2052 L115.9 2059.2 L117 2066.4 L118.3 2073.6 L119.6 2080.9 L121 2088.1 L122.5 2095.3 L124.2 2102.5 L125.9 2109.8 L127.9 2117 L129.9 2124.2 L132.2 2131.4 L134.6 2138.7 L137.2 2145.9 L140.1 2153.1 L143.1 2160.3 L146.4 2167.6 L150 2174.8 L153.8 2182 L158 2189.2 L162.5 2196.5 L167.3 2203.7 L172.5 2210.9 L178.2 2218.1 L184.2 2225.2 L190.2 2231.8 L196.2 2238 L202.2 2243.8 L208.2 2249.3 L214.2 2254.4 L220.2 2259.3 L226.2 2263.9 L232.2 2268.4 L238.2 2272.6 L244.2 2276.6 L250.2 2280.5 L256.2 2284.2 L262.2 2287.8 L268.2 2291.3 L274.2 2294.6 L280.2 2297.8 L286.2 2300.9 L292.2 2303.9 L298.2 2306.8 L304.2 2309.7 L310.2 2312.4 L316.2 2315.1 L322.2 2317.7 L328.2 2320.2 L334.2 2322.6 L340.2 2325 L346.2 2327.4 L352.2 2329.6 L358.2 2331.9 L364.2 2334 L370.2 2336.2 L376.2 2338.2 L382.2 2340.3 L388.2 2342.3 L394.2 2344.2 L400.2 2346.1 L406.2 2348 L412.2 2349.8 L418.2 2351.6 L424.2 2353.4 L430.2 2355.1 L436.2 2356.8 L442.2 2358.5 L448.2 2360.1 L454.2 2361.7 L460.2 2363.3 L466.2 2364.9 L472.2 2366.4 L478.2 2367.9 L484.2 2369.4 L485.4 2369.7 L486.6 2369.4 L492.6 2367.9 L498.6 2366.4 L504.6 2364.9 L510.6 2363.3 L516.6 2361.7 L522.6 2360.1 L528.6 2358.5 L534.6 2356.8 L540.6 2355.1 L546.6 2353.4 L552.6 2351.6 L558.6 2349.8 L564.6 2348 L570.6 2346.1 L576.6 2344.2 L582.6 2342.3 L588.6 2340.3 L594.6 2338.2 L600.6 2336.2 L606.6 2334 L612.6 2331.9 L618.6 2329.6 L624.6 2327.4 L630.6 2325 L636.6 2322.6 L642.6 2320.2 L648.6 2317.7 L654.6 2315.1 L660.6 2312.4 L666.6 2309.7 L672.6 2306.8 L678.6 2303.9 L684.6 2300.9 L690.6 2297.8 L696.6 2294.6 L702.6 2291.3 L708.6 2287.8 L714.6 2284.2 L720.6 2280.5 L726.6 2276.6 L732.6 2272.6 L738.6 2268.4 L744.6 2263.9 L750.6 2259.3 L756.6 2254.4 L762.6 2249.3 L768.6 2243.8 L774.6 2238 L780.6 2231.8 L786.6 2225.2 L792.6 2218.1 L798.3 2210.9 L803.5 2203.7 L808.4 2196.5 L812.8 2189.2 L817 2182 L820.8 2174.8 L824.4 2167.6 L827.7 2160.3 L830.8 2153.1 L833.6 2145.9 L836.2 2138.7 L838.6 2131.4 L840.9 2124.2 L842.9 2117 L844.9 2109.8 L846.6 2102.5 L848.3 2095.3 L849.8 2088.1 L851.2 2080.9 L852.6 2073.6 L853.8 2066.4 L854.9 2059.2 L855.9 2052 L856.9 2044.7 L857.8 2037.5 L858.6 2030.3 L859.4 2023.1 L860.1 2015.9 L860.7 2008.6 L861.3 2001.4 L861.9 1994.2 L862.4 1987 L862.9 1979.4 L863.4 1971.3 L863.9 1962.3 L864.4 1952.4 L864.9 1941.4 L865.4 1928.8 L865.9 1914.4 L866.4 1897.3 L866.9 1876.3 L867.4 1849.3 L867.9 1811.3 L868.4 1746.2 L873.9 1871 L873.9 2664 L96.9 2664Z" fill="#fff" fill-opacity="0.5"/>
<path d="M102.4 1746.2 L102.9 1811.3 L103.4 1849.3 L103.9 1876.3 L104.4 1897.3 L104.9 1914.4 L105.4 1928.8 L105.9 1941.4 L106.4 1952.4 L106.9 1962.3 L107.4 1971.3 L107.9 1979.4 L108.4 1987 L108.9 1994.2 L109.5 2001.4 L110.1 2008.6 L110.7 2015.9 L111.4 2023.1 L112.2 2030.3 L113 2037.5 L113.9 2044.7 L114.9 2052 L115.9 2059.2 L117 2066.4 L118.3 2073.6 L119.6 2080.9 L121 2088.1 L122.5 2095.3 L124.2 2102.5 L125.9 2109.8 L127.9 2117 L129.9 2124.2 L132.2 2131.4 L134.6 2138.7 L137.2 2145.9 L140.1 2153.1 L143.1 2160.3 L146.4 2167.6 L150 2174.8 L153.8 2182 L158 2189.2 L162.5 2196.5 L167.3 2203.7 L172.5 2210.9 L178.2 2218.1 L184.2 2225.2 L190.2 2231.8 L196.2 2238 L202.2 2243.8 L208.2 2249.3 L214.2 2254.4 L220.2 2259.3 L226.2 2263.9 L232.2 2268.4 L238.2 2272.6 L244.2 2276.6 L250.2 2280.5 L256.2 2284.2 L262.2 2287.8 L268.2 2291.3 L274.2 2294.6 L280.2 2297.8 L286.2 2300.9 L292.2 2303.9 L298.2 2306.8 L304.2 2309.7 L310.2 2312.4 L316.2 2315.1 L322.2 2317.7 L328.2 2320.2 L334.2 2322.6 L340.2 2325 L346.2 2327.4 L352.2 2329.6 L358.2 2331.9 L364.2 2334 L370.2 2336.2 L376.2 2338.2 L382.2 2340.3 L388.2 2342.3 L394.2 2344.2 L400.2 2346.1 L406.2 2348 L412.2 2349.8 L418.2 2351.6 L424.2 2353.4 L430.2 2355.1 L436.2 2356.8 L442.2 2358.5 L448.2 2360.1 L454.2 2361.7 L460.2 2363.3 L466.2 2364.9 L472.2 2366.4 L478.2 2367.9 L484.2 2369.4 L485.4 2369.7 L486.6 2369.4 L492.6 2367.9 L498.6 2366.4 L504.6 2364.9 L510.6 2363.3 L516.6 2361.7 L522.6 2360.1 L528.6 2358.5 L534.6 2356.8 L540.6 2355.1 L546.6 2353.4 L552.6 2351.6 L558.6 2349.8 L564.6 2348 L570.6 2346.1 L576.6 2344.2 L582.6 2342.3 L588.6 2340.3 L594.6 2338.2 L600.6 2336.2 L606.6 2334 L612.6 2331.9 L618.6 2329.6 L624.6 2327.4 L630.6 2325 L636.6 2322.6 L642.6 2320.2 L648.6 2317.7 L654.6 2315.1 L660.6 2312.4 L666.6 2309.7 L672.6 2306.8 L678.6 2303.9 L684.6 2300.9 L690.6 2297.8 L696.6 2294.6 L702.6 2291.3 L708.6 2287.8 L714.6 2284.2 L720.6 2280.5 L726.6 2276.6 L732.6 2272.6 L738.6 2268.4 L744.6 2263.9 L750.6 2259.3 L756.6 2254.4 L762.6 2249.3 L768.6 2243.8 L774.6 2238 L780.6 2231.8 L786.6 2225.2 L792.6 2218.1 L798.3 2210.9 L803.5 2203.7 L808.4 2196.5 L812.8 2189.2 L817 2182 L820.8 2174.8 L824.4 2167.6 L827.7 2160.3 L830.8 2153.1 L833.6 2145.9 L836.2 2138.7 L838.6 2131.4 L840.9 2124.2 L842.9 2117 L844.9 2109.8 L846.6 2102.5 L848.3 2095.3 L849.8 2088.1 L851.2 2080.9 L852.6 2073.6 L853.8 2066.4 L854.9 2059.2 L855.9 2052 L856.9 2044.7 L857.8 2037.5 L858.6 2030.3 L859.4 2023.1 L860.1 2015.9 L860.7 2008.6 L861.3 2001.4 L861.9 1994.2 L862.4 1987 L862.9 1979.4 L863.4 1971.3 L863.9 1962.3 L864.4 1952.4 L864.9 1941.4 L865.4 1928.8 L865.9 1914.4 L866.4 1897.3 L866.9 1876.3 L867.4 1849.3 L867.9 1811.3 L868.4 1746.2" fill="none" stroke="#000" stroke-width="1.3"/>
</g>
<path d="M101.9 2071H868.9V2364H101.9ZM182 2071v7.5 M182 2364v-7.5M320.7 2071v7.5 M320.7 2364v-7.5M459.4 2071v7.5 M459.4 2364v-7.5M598 2071v7.5 M598 2364v-7.5M736.7 2071v7.5 M736.7 2364v-7.5M101.9 2107h7.5 M868.9 2107h-7.5M101.9 2172.1h7.5 M868.9 2172.1h-7.5M101.9 2237.2h7.5 M868.9 2237.2h-7.5M101.9 2302.2h7.5 M868.9 2302.2h-7.5" fill="none" stroke="#262626" stroke-width="1.4"/>
<text x="182" y="2399" font-size="24" text-anchor="middle" fill="#262626">2012</text>
<text x="320.7" y="2399" font-size="24" text-anchor="middle" fill="#262626">2014</text>
<text x="459.4" y="2399" font-size="24" text-anchor="middle" fill="#262626">2016</text>
<text x="598" y="2399" font-size="24" text-anchor="middle" fill="#262626">2018</text>
<text x="736.7" y="2399" font-size="24" text-anchor="middle" fill="#262626">2020</text>
<text x="93.4" y="2115.6" font-size="24.7" text-anchor="end" fill="#262626">0.25</text>
<text x="93.4" y="2180.7" font-size="24.7" text-anchor="end" fill="#262626">0.5</text>
<text x="93.4" y="2245.8" font-size="24.7" text-anchor="end" fill="#262626">1</text>
<text x="93.4" y="2310.8" font-size="24.7" text-anchor="end" fill="#262626">2</text>
<text transform="translate(31.8 2216.9) rotate(-90)" font-size="26.9" text-anchor="middle" fill="#262626">Period</text>
<text x="486" y="2063" font-size="26.7" font-weight="bold" text-anchor="middle" fill="#000">Clubs (Japan)</text>
<rect x="893" y="2069.3" width="41.8" height="294.8" fill="url(#pg)" stroke="#262626" stroke-width="1.2"/>
<text x="953.3" y="2078.4" font-size="20.7" fill="#262626">8</text>
<text x="953.3" y="2127.6" font-size="20.7" fill="#262626">4</text>
<text x="953.3" y="2176.8" font-size="20.7" fill="#262626">2</text>
<text x="953.3" y="2226" font-size="20.7" fill="#262626">1</text>
<text x="947.6" y="2275.3" font-size="20.7" fill="#262626">1/2</text>
<text x="947.6" y="2324.5" font-size="20.7" fill="#262626">1/4</text>
<text x="947.6" y="2373.7" font-size="20.7" fill="#262626">1/8</text>
<path d="M934.7 2071h-4M934.7 2120.2h-4M934.7 2169.4h-4M934.7 2218.7h-4M934.7 2267.9h-4M934.7 2317.1h-4" fill="none" stroke="#262626" stroke-width="1.2"/>
<defs>
<clipPath id="c12"><rect x="1088.7" y="2064.1" width="787.1" height="300.5"/></clipPath>
<filter id="p12b1_7" filterUnits="userSpaceOnUse" x="1028.7" y="2004.1" width="907.1" height="420.5" color-interpolation-filters="sRGB"><feGaussianBlur stdDeviation="1.7"/></filter>
<filter id="p12b3_4" filterUnits="userSpaceOnUse" x="1028.7" y="2004.1" width="907.1" height="420.5" color-interpolation-filters="sRGB"><feGaussianBlur stdDeviation="3.4"/></filter>
<filter id="p12b4_0" filterUnits="userSpaceOnUse" x="1028.7" y="2004.1" width="907.1" height="420.5" color-interpolation-filters="sRGB"><feGaussianBlur stdDeviation="4"/></filter>
<filter id="p12b4_6" filterUnits="userSpaceOnUse" x="1028.7" y="2004.1" width="907.1" height="420.5" color-interpolation-filters="sRGB"><feGaussianBlur stdDeviation="4.6"/></filter>
<filter id="p12b4_8" filterUnits="userSpaceOnUse" x="1028.7" y="2004.1" width="907.1" height="420.5" color-interpolation-filters="sRGB"><feGaussianBlur stdDeviation="4.8"/></filter>
<filter id="p12b5_7" filterUnits="userSpaceOnUse" x="1028.7" y="2004.1" width="907.1" height="420.5" color-interpolation-filters="sRGB"><feGaussianBlur stdDeviation="5.7"/></filter>
<filter id="p12b6_0" filterUnits="userSpaceOnUse" x="1028.7" y="2004.1" width="907.1" height="420.5" color-interpolation-filters="sRGB"><feGaussianBlur stdDeviation="6"/></filter>
<filter id="p12b6_9" filterUnits="userSpaceOnUse" x="1028.7" y="2004.1" width="907.1" height="420.5" color-interpolation-filters="sRGB"><feGaussianBlur stdDeviation="6.9"/></filter>
<filter id="p12b7_2" filterUnits="userSpaceOnUse" x="1028.7" y="2004.1" width="907.1" height="420.5" color-interpolation-filters="sRGB"><feGaussianBlur stdDeviation="7.2"/></filter>
<filter id="p12b8_0" filterUnits="userSpaceOnUse" x="1028.7" y="2004.1" width="907.1" height="420.5" color-interpolation-filters="sRGB"><feGaussianBlur stdDeviation="8"/></filter>
<filter id="p12b9_6" filterUnits="userSpaceOnUse" x="1028.7" y="2004.1" width="907.1" height="420.5" color-interpolation-filters="sRGB"><feGaussianBlur stdDeviation="9.6"/></filter>
</defs>
<g clip-path="url(#c12)">
<g filter="url(#pm)">
<rect x="1028.7" y="2004.1" width="907.1" height="420.5" fill="#000000"/>
<g filter="url(#p12b7_2)"><path d="M1084.8 2059.6 L1135.3 2059.6 L1159.3 2146.2 L1200.2 2218.3 L1272.3 2266.4 L1368.5 2302.4 L1503.1 2338.5 L1503.1 2369.7 L1084.8 2369.7Z" fill="#4c4c4c"/></g>
<g filter="url(#p12b6_0)"><path d="M1084.8 2059.6 L1128.1 2059.6 L1152.1 2151 L1188.2 2206.3 L1248.3 2254.4 L1344.5 2295.2 L1503.1 2333.7 L1503.1 2369.7 L1084.8 2369.7Z" fill="#7a7a7a"/></g>
<g filter="url(#p12b6_0)"><path d="M1084.8 2134.1 L1147.3 2158.2 L1176.2 2206.3 L1236.3 2261.6 L1320.4 2302.4 L1416.6 2338.5 L1503.1 2357.7 L1503.1 2369.7 L1084.8 2369.7Z" fill="#adadad"/></g>
<g filter="url(#p12b9_6)"><ellipse cx="1116.1" cy="2182.2" rx="31.3" ry="43.3" fill="#cccccc"/></g>
<g filter="url(#p12b9_6)"><ellipse cx="1212.2" cy="2285.6" rx="57.7" ry="21.6" fill="#c7c7c7"/></g>
<g filter="url(#p12b9_6)"><ellipse cx="1104" cy="2352.9" rx="52.9" ry="21.6" fill="#787878"/></g>
<g filter="url(#p12b4_8)"><path d="M1229.1 2266.4 L1296.4 2295.2 L1392.5 2338.5 L1464.7 2360.1 L1440.6 2367.3 L1344.5 2336.1 L1248.3 2290.4Z" fill="#b8b8b8"/></g>
<g filter="url(#p12b7_2)"><ellipse cx="1332.4" cy="2215.9" rx="108.2" ry="13.2" fill="#2b2b2b"/></g>
<g filter="url(#p12b4_0)"><ellipse cx="1251.9" cy="2075.6" rx="8.6" ry="6.9" fill="#242424"/></g>
<g filter="url(#p12b4_0)"><ellipse cx="1332" cy="2081.3" rx="8.6" ry="14.3" fill="#242424"/></g>
<g filter="url(#p12b4_0)"><ellipse cx="1389.2" cy="2101.3" rx="6.9" ry="17.2" fill="#242424" transform="rotate(10 1389.2 2101.3)"/></g>
<g filter="url(#p12b4_0)"><ellipse cx="1435" cy="2127.1" rx="14.3" ry="14.3" fill="#242424"/></g>
<g filter="url(#p12b4_0)"><ellipse cx="1589.6" cy="2112.8" rx="11.4" ry="22.9" fill="#242424" transform="rotate(-10 1589.6 2112.8)"/></g>
<g filter="url(#p12b4_0)"><ellipse cx="1664" cy="2170" rx="22.9" ry="6.9" fill="#242424"/></g>
<g filter="url(#p12b4_0)"><ellipse cx="1509.4" cy="2184.3" rx="14.3" ry="4.6" fill="#242424"/></g>
<g filter="url(#p12b4_0)"><ellipse cx="1704.1" cy="2147.1" rx="14.3" ry="11.4" fill="#242424"/></g>
<g filter="url(#p12b4_0)"><ellipse cx="1818.5" cy="2170" rx="11.4" ry="6.9" fill="#242424"/></g>
<g filter="url(#p12b6_9)"><path d="M1400.7 2290.2 L1486.5 2284.5 L1572.4 2273 L1629.7 2233 L1686.9 2192.9 L1721.2 2210.1 L1715.5 2290.2 L1572.4 2330.3 L1457.9 2330.3Z" fill="#6b6b6b"/></g>
<g filter="url(#p12b5_7)"><path d="M1429.3 2321.7 L1572.4 2316 L1658.3 2278.8 L1715.5 2255.9 L1732.7 2301.7 L1572.4 2353.2 L1486.5 2353.2Z" fill="#999999"/></g>
<g filter="url(#p12b6_9)"><path d="M1658.3 2278.8 L1715.5 2233 L1749.9 2244.4 L1744.1 2278.8 L1686.9 2301.7Z" fill="#cccccc"/></g>
<g filter="url(#p12b1_7)"><ellipse cx="1472.2" cy="2303.4" rx="34.3" ry="2.9" fill="#050505"/></g>
<g filter="url(#p12b1_7)"><ellipse cx="1478" cy="2334.9" rx="22.9" ry="2.9" fill="#050505"/></g>
<g filter="url(#p12b4_6)"><ellipse cx="1469.4" cy="2358.9" rx="51.5" ry="6.9" fill="#d9d9d9"/></g>
<g filter="url(#p12b4_6)"><path d="M1764.2 2104.2C1767.2 2104.2 1770.4 2107.5 1772.8 2112.8C1775.1 2118 1776.1 2129 1778.5 2135.7C1780.9 2142.3 1783.7 2148.5 1787.1 2152.8C1790.4 2157.1 1797.1 2157.6 1798.5 2161.4C1799.9 2165.2 1794.7 2171.4 1795.6 2175.7C1796.6 2180 1801.4 2184.3 1804.2 2187.2C1807.1 2190 1813.3 2190.5 1812.8 2192.9C1812.3 2195.3 1807.1 2198.1 1801.4 2201.5C1795.6 2204.8 1785.6 2210.3 1778.5 2212.9C1771.3 2215.6 1765.1 2218 1758.4 2217.5C1751.8 2217 1744.4 2214.2 1738.4 2210.1C1732.4 2206 1724.8 2199.6 1722.4 2192.9C1720 2186.2 1723.3 2176.7 1724.1 2170C1724.9 2163.3 1724.6 2157.6 1727 2152.8C1729.3 2148.1 1734.6 2145.2 1738.4 2141.4C1742.2 2137.6 1747.2 2134.7 1749.9 2129.9C1752.5 2125.2 1752.1 2117.1 1754.4 2112.8C1756.8 2108.5 1761.1 2104.2 1764.2 2104.2Z" fill="#808080"/></g>
<g filter="url(#p12b8_0)"><ellipse cx="1758.4" cy="2181.4" rx="28.6" ry="28.6" fill="#adadad"/></g>
<g filter="url(#p12b4_6)"><ellipse cx="1832.9" cy="2107" rx="8" ry="34.3" fill="#737373"/></g>
<g filter="url(#p12b5_7)"><ellipse cx="1852.9" cy="2132.8" rx="17.2" ry="20" fill="#737373"/></g>
<g filter="url(#p12b5_7)"><path d="M1801.4 2164.3 L1881.5 2164.3 L1881.5 2227.2 L1801.4 2227.2Z" fill="#6b6b6b"/></g>
<g filter="url(#p12b6_9)"><path d="M1715.5 2278.8 L1755.6 2233 L1830 2233 L1881.5 2238.7 L1881.5 2370.3 L1515.2 2370.3 L1572.4 2347.4Z" fill="#d9d9d9"/></g>
<g filter="url(#p12b5_7)"><ellipse cx="1830" cy="2316" rx="51.5" ry="8" fill="#9e9e9e"/></g>
<g filter="url(#p12b3_4)"><ellipse cx="1841.4" cy="2215.8" rx="22.9" ry="5.7" fill="#0f0f0f"/></g>
</g>
<path d="M1117.3 2064.1C1118.8 2068.4 1122.8 2080.8 1125.9 2089.9C1129.1 2098.9 1133.6 2108.9 1136.2 2118.5C1138.9 2128 1139.4 2138.5 1142 2147.1C1144.5 2155.7 1149.4 2163.3 1151.7 2170C1154 2176.7 1155.7 2182.9 1155.7 2187.2C1155.7 2191.5 1154.7 2191.9 1151.7 2195.8C1148.6 2199.6 1143.6 2206.5 1137.4 2210.1C1131.2 2213.6 1122.6 2216.2 1114.5 2216.9C1106.4 2217.7 1093 2215 1088.7 2214.6" fill="none" stroke="#000" stroke-width="5" stroke-linejoin="round" stroke-linecap="round"/>
<path d="M1088.7 2115.6C1089.4 2116.6 1092.3 2119 1092.7 2121.3C1093.2 2123.7 1092.3 2127.7 1091.6 2129.9C1090.9 2132.1 1089.2 2133.7 1088.7 2134.5" fill="none" stroke="#000" stroke-width="5" stroke-linejoin="round" stroke-linecap="round"/>
<path d="M1764.2 2104.2C1767.2 2104.2 1770.4 2107.5 1772.8 2112.8C1775.1 2118 1776.1 2129 1778.5 2135.7C1780.9 2142.3 1783.7 2148.5 1787.1 2152.8C1790.4 2157.1 1797.1 2157.6 1798.5 2161.4C1799.9 2165.2 1794.7 2171.4 1795.6 2175.7C1796.6 2180 1801.4 2184.3 1804.2 2187.2C1807.1 2190 1813.3 2190.5 1812.8 2192.9C1812.3 2195.3 1807.1 2198.1 1801.4 2201.5C1795.6 2204.8 1785.6 2210.3 1778.5 2212.9C1771.3 2215.6 1765.1 2218 1758.4 2217.5C1751.8 2217 1744.4 2214.2 1738.4 2210.1C1732.4 2206 1724.8 2199.6 1722.4 2192.9C1720 2186.2 1723.3 2176.7 1724.1 2170C1724.9 2163.3 1724.6 2157.6 1727 2152.8C1729.3 2148.1 1734.6 2145.2 1738.4 2141.4C1742.2 2137.6 1747.2 2134.7 1749.9 2129.9C1752.5 2125.2 1752.1 2117.1 1754.4 2112.8C1756.8 2108.5 1761.1 2104.2 1764.2 2104.2Z" fill="none" stroke="#000" stroke-width="5" stroke-linejoin="round" stroke-linecap="round"/>
<path d="M1824.3 2072.7C1825.7 2069.8 1830 2066.5 1832.9 2067C1835.7 2067.4 1840.8 2071.7 1841.4 2075.6C1842.1 2079.4 1838 2085.1 1836.9 2089.9C1835.7 2094.6 1833.3 2101.3 1834.6 2104.2C1835.8 2107 1839.8 2105.1 1844.3 2107C1848.8 2108.9 1857.7 2111.3 1861.5 2115.6C1865.3 2119.9 1867.2 2127.5 1867.2 2132.8C1867.2 2138 1863.9 2144 1861.5 2147.1C1859.1 2150.3 1856.2 2152.6 1852.9 2151.7C1849.6 2150.7 1844.8 2146 1841.4 2141.4C1838.1 2136.8 1834.8 2130.9 1832.9 2124.2C1830.9 2117.5 1831.4 2108 1830 2101.3C1828.6 2094.6 1825.2 2088.9 1824.3 2084.1C1823.3 2079.4 1822.8 2075.6 1824.3 2072.7Z" fill="none" stroke="#000" stroke-width="5" stroke-linejoin="round" stroke-linecap="round"/>
<path d="M1767 2233C1759.4 2234.1 1753.7 2238.2 1749.9 2241.6C1746 2244.9 1743.9 2249.7 1744.1 2253C1744.3 2256.3 1747.2 2259.2 1751 2261.6C1754.8 2264 1758.6 2266.4 1767 2267.3C1775.4 2268.3 1790.9 2268.7 1801.4 2267.3C1811.9 2265.9 1823.8 2261.4 1830 2258.7C1836.2 2256.1 1839.5 2254.1 1838.6 2251.3C1837.6 2248.4 1831.4 2244.3 1824.3 2241.6C1817.1 2238.8 1805.2 2236.1 1795.6 2234.7C1786.1 2233.3 1774.7 2231.8 1767 2233Z" fill="none" stroke="#000" stroke-width="5" stroke-linejoin="round" stroke-linecap="round"/>
<path d="M1083.7 1864.1 L1089.2 1732.9 L1089.7 1799.1 L1090.2 1837.9 L1090.7 1865.3 L1091.2 1886.7 L1091.7 1904.1 L1092.2 1918.8 L1092.7 1931.6 L1093.2 1942.8 L1093.7 1952.9 L1094.2 1962 L1094.7 1970.3 L1095.2 1977.9 L1095.7 1985.3 L1096.3 1992.6 L1096.9 2000 L1097.6 2007.3 L1098.3 2014.7 L1099 2022 L1099.9 2029.4 L1100.8 2036.7 L1101.7 2044.1 L1102.8 2051.4 L1103.9 2058.8 L1105.1 2066.1 L1106.4 2073.5 L1107.8 2080.8 L1109.3 2088.2 L1111 2095.5 L1112.8 2102.9 L1114.7 2110.2 L1116.8 2117.6 L1119 2125 L1121.4 2132.3 L1124.1 2139.7 L1126.9 2147 L1129.9 2154.4 L1133.2 2161.7 L1136.8 2169.1 L1140.6 2176.4 L1144.8 2183.8 L1149.3 2191.1 L1154.1 2198.5 L1159.4 2205.8 L1165 2213.2 L1171 2220.4 L1177 2227.1 L1183 2233.4 L1189 2239.3 L1195 2244.8 L1201 2250.1 L1207 2255.1 L1213 2259.8 L1219 2264.3 L1225 2268.6 L1231 2272.7 L1237 2276.7 L1243 2280.4 L1249 2284.1 L1255 2287.6 L1261 2291 L1267 2294.2 L1273 2297.4 L1279 2300.5 L1285 2303.4 L1291 2306.3 L1297 2309.1 L1303 2311.8 L1309 2314.5 L1315 2317 L1321 2319.5 L1327 2322 L1333 2324.3 L1339 2326.6 L1345 2328.9 L1351 2331.1 L1357 2333.3 L1363 2335.4 L1369 2337.5 L1375 2339.5 L1381 2341.5 L1387 2343.4 L1393 2345.3 L1399 2347.2 L1405 2349 L1411 2350.8 L1417 2352.6 L1423 2354.3 L1429 2356 L1435 2357.7 L1441 2359.3 L1447 2360.9 L1453 2362.5 L1459 2364.1 L1465 2365.6 L1471 2367.1 L1477 2368.6 L1482.3 2369.9 L1487.5 2368.6 L1493.5 2367.1 L1499.5 2365.6 L1505.5 2364.1 L1511.5 2362.5 L1517.5 2360.9 L1523.5 2359.3 L1529.5 2357.7 L1535.5 2356 L1541.5 2354.3 L1547.5 2352.6 L1553.5 2350.8 L1559.5 2349 L1565.5 2347.2 L1571.5 2345.3 L1577.5 2343.4 L1583.5 2341.5 L1589.5 2339.5 L1595.5 2337.5 L1601.5 2335.4 L1607.5 2333.3 L1613.5 2331.1 L1619.5 2328.9 L1625.5 2326.6 L1631.5 2324.3 L1637.5 2322 L1643.5 2319.5 L1649.5 2317 L1655.5 2314.5 L1661.5 2311.8 L1667.5 2309.1 L1673.5 2306.3 L1679.5 2303.4 L1685.5 2300.5 L1691.5 2297.4 L1697.5 2294.2 L1703.5 2291 L1709.5 2287.6 L1715.5 2284.1 L1721.5 2280.4 L1727.5 2276.7 L1733.5 2272.7 L1739.5 2268.6 L1745.5 2264.3 L1751.5 2259.8 L1757.5 2255.1 L1763.5 2250.1 L1769.5 2244.8 L1775.5 2239.3 L1781.5 2233.4 L1787.5 2227.1 L1793.5 2220.4 L1799.5 2213.2 L1805.1 2205.8 L1810.4 2198.5 L1815.2 2191.1 L1819.7 2183.8 L1823.9 2176.4 L1827.7 2169.1 L1831.3 2161.7 L1834.6 2154.4 L1837.6 2147 L1840.4 2139.7 L1843.1 2132.3 L1845.5 2125 L1847.7 2117.6 L1849.8 2110.2 L1851.7 2102.9 L1853.5 2095.5 L1855.2 2088.2 L1856.7 2080.8 L1858.1 2073.5 L1859.4 2066.1 L1860.6 2058.8 L1861.8 2051.4 L1862.8 2044.1 L1863.8 2036.7 L1864.6 2029.4 L1865.5 2022 L1866.2 2014.7 L1866.9 2007.3 L1867.6 2000 L1868.2 1992.6 L1868.8 1985.3 L1869.3 1977.9 L1869.8 1970.3 L1870.3 1962 L1870.8 1952.9 L1871.3 1942.8 L1871.8 1931.6 L1872.3 1918.8 L1872.8 1904.1 L1873.3 1886.7 L1873.8 1865.3 L1874.3 1837.9 L1874.8 1799.1 L1875.3 1732.9 L1880.8 1864.1 L1880.8 2664.6 L1083.7 2664.6Z" fill="#fff" fill-opacity="0.5"/>
<path d="M1089.2 1732.9 L1089.7 1799.1 L1090.2 1837.9 L1090.7 1865.3 L1091.2 1886.7 L1091.7 1904.1 L1092.2 1918.8 L1092.7 1931.6 L1093.2 1942.8 L1093.7 1952.9 L1094.2 1962 L1094.7 1970.3 L1095.2 1977.9 L1095.7 1985.3 L1096.3 1992.6 L1096.9 2000 L1097.6 2007.3 L1098.3 2014.7 L1099 2022 L1099.9 2029.4 L1100.8 2036.7 L1101.7 2044.1 L1102.8 2051.4 L1103.9 2058.8 L1105.1 2066.1 L1106.4 2073.5 L1107.8 2080.8 L1109.3 2088.2 L1111 2095.5 L1112.8 2102.9 L1114.7 2110.2 L1116.8 2117.6 L1119 2125 L1121.4 2132.3 L1124.1 2139.7 L1126.9 2147 L1129.9 2154.4 L1133.2 2161.7 L1136.8 2169.1 L1140.6 2176.4 L1144.8 2183.8 L1149.3 2191.1 L1154.1 2198.5 L1159.4 2205.8 L1165 2213.2 L1171 2220.4 L1177 2227.1 L1183 2233.4 L1189 2239.3 L1195 2244.8 L1201 2250.1 L1207 2255.1 L1213 2259.8 L1219 2264.3 L1225 2268.6 L1231 2272.7 L1237 2276.7 L1243 2280.4 L1249 2284.1 L1255 2287.6 L1261 2291 L1267 2294.2 L1273 2297.4 L1279 2300.5 L1285 2303.4 L1291 2306.3 L1297 2309.1 L1303 2311.8 L1309 2314.5 L1315 2317 L1321 2319.5 L1327 2322 L1333 2324.3 L1339 2326.6 L1345 2328.9 L1351 2331.1 L1357 2333.3 L1363 2335.4 L1369 2337.5 L1375 2339.5 L1381 2341.5 L1387 2343.4 L1393 2345.3 L1399 2347.2 L1405 2349 L1411 2350.8 L1417 2352.6 L1423 2354.3 L1429 2356 L1435 2357.7 L1441 2359.3 L1447 2360.9 L1453 2362.5 L1459 2364.1 L1465 2365.6 L1471 2367.1 L1477 2368.6 L1482.3 2369.9 L1487.5 2368.6 L1493.5 2367.1 L1499.5 2365.6 L1505.5 2364.1 L1511.5 2362.5 L1517.5 2360.9 L1523.5 2359.3 L1529.5 2357.7 L1535.5 2356 L1541.5 2354.3 L1547.5 2352.6 L1553.5 2350.8 L1559.5 2349 L1565.5 2347.2 L1571.5 2345.3 L1577.5 2343.4 L1583.5 2341.5 L1589.5 2339.5 L1595.5 2337.5 L1601.5 2335.4 L1607.5 2333.3 L1613.5 2331.1 L1619.5 2328.9 L1625.5 2326.6 L1631.5 2324.3 L1637.5 2322 L1643.5 2319.5 L1649.5 2317 L1655.5 2314.5 L1661.5 2311.8 L1667.5 2309.1 L1673.5 2306.3 L1679.5 2303.4 L1685.5 2300.5 L1691.5 2297.4 L1697.5 2294.2 L1703.5 2291 L1709.5 2287.6 L1715.5 2284.1 L1721.5 2280.4 L1727.5 2276.7 L1733.5 2272.7 L1739.5 2268.6 L1745.5 2264.3 L1751.5 2259.8 L1757.5 2255.1 L1763.5 2250.1 L1769.5 2244.8 L1775.5 2239.3 L1781.5 2233.4 L1787.5 2227.1 L1793.5 2220.4 L1799.5 2213.2 L1805.1 2205.8 L1810.4 2198.5 L1815.2 2191.1 L1819.7 2183.8 L1823.9 2176.4 L1827.7 2169.1 L1831.3 2161.7 L1834.6 2154.4 L1837.6 2147 L1840.4 2139.7 L1843.1 2132.3 L1845.5 2125 L1847.7 2117.6 L1849.8 2110.2 L1851.7 2102.9 L1853.5 2095.5 L1855.2 2088.2 L1856.7 2080.8 L1858.1 2073.5 L1859.4 2066.1 L1860.6 2058.8 L1861.8 2051.4 L1862.8 2044.1 L1863.8 2036.7 L1864.6 2029.4 L1865.5 2022 L1866.2 2014.7 L1866.9 2007.3 L1867.6 2000 L1868.2 1992.6 L1868.8 1985.3 L1869.3 1977.9 L1869.8 1970.3 L1870.3 1962 L1870.8 1952.9 L1871.3 1942.8 L1871.8 1931.6 L1872.3 1918.8 L1872.8 1904.1 L1873.3 1886.7 L1873.8 1865.3 L1874.3 1837.9 L1874.8 1799.1 L1875.3 1732.9" fill="none" stroke="#000" stroke-width="1.3"/>
</g>
<path d="M1088.7 2064.1H1875.8V2364.6H1088.7ZM1171.7 2064.1v7.5 M1171.7 2364.6v-7.5M1313.8 2064.1v7.5 M1313.8 2364.6v-7.5M1455.9 2064.1v7.5 M1455.9 2364.6v-7.5M1598 2064.1v7.5 M1598 2364.6v-7.5M1740.1 2064.1v7.5 M1740.1 2364.6v-7.5M1088.7 2102.5h7.5 M1875.8 2102.5h-7.5M1088.7 2168.7h7.5 M1875.8 2168.7h-7.5M1088.7 2234.9h7.5 M1875.8 2234.9h-7.5M1088.7 2301.1h7.5 M1875.8 2301.1h-7.5" fill="none" stroke="#262626" stroke-width="1.4"/>
<text x="1171.7" y="2399" font-size="24.6" text-anchor="middle" fill="#262626">2012</text>
<text x="1313.8" y="2399" font-size="24.6" text-anchor="middle" fill="#262626">2014</text>
<text x="1455.9" y="2399" font-size="24.6" text-anchor="middle" fill="#262626">2016</text>
<text x="1598" y="2399" font-size="24.6" text-anchor="middle" fill="#262626">2018</text>
<text x="1740.1" y="2399" font-size="24.6" text-anchor="middle" fill="#262626">2020</text>
<text x="1076.3" y="2111.3" font-size="25.3" text-anchor="end" fill="#262626">0.25</text>
<text x="1076.3" y="2177.5" font-size="25.3" text-anchor="end" fill="#262626">0.5</text>
<text x="1076.3" y="2243.7" font-size="25.3" text-anchor="end" fill="#262626">1</text>
<text x="1076.3" y="2309.9" font-size="25.3" text-anchor="end" fill="#262626">2</text>
<text transform="translate(1017.5 2212.9) rotate(-90)" font-size="27.6" text-anchor="middle" fill="#262626">Period</text>
<text x="1483.1" y="2055.5" font-size="27.4" font-weight="bold" text-anchor="middle" fill="#000">Industrial Production (Japan)</text>
<rect x="1901.5" y="2064.1" width="42.9" height="300.5" fill="url(#pg)" stroke="#262626" stroke-width="1.2"/>
<text x="1966.5" y="2110.6" font-size="21.2" fill="#262626">8</text>
<text x="1966.5" y="2148.4" font-size="21.2" fill="#262626">4</text>
<text x="1966.5" y="2186.2" font-size="21.2" fill="#262626">2</text>
<text x="1966.5" y="2223.9" font-size="21.2" fill="#262626">1</text>
<text x="1960.6" y="2261.7" font-size="21.2" fill="#262626">1/2</text>
<text x="1960.6" y="2299.5" font-size="21.2" fill="#262626">1/4</text>
<text x="1960.6" y="2337.3" font-size="21.2" fill="#262626">1/8</text>
<path d="M1944.5 2103h-4M1944.5 2140.8h-4M1944.5 2178.6h-4M1944.5 2216.4h-4M1944.5 2254.1h-4M1944.5 2291.9h-4M1944.5 2329.7h-4" fill="none" stroke="#262626" stroke-width="1.2"/>
</svg></body></html>
